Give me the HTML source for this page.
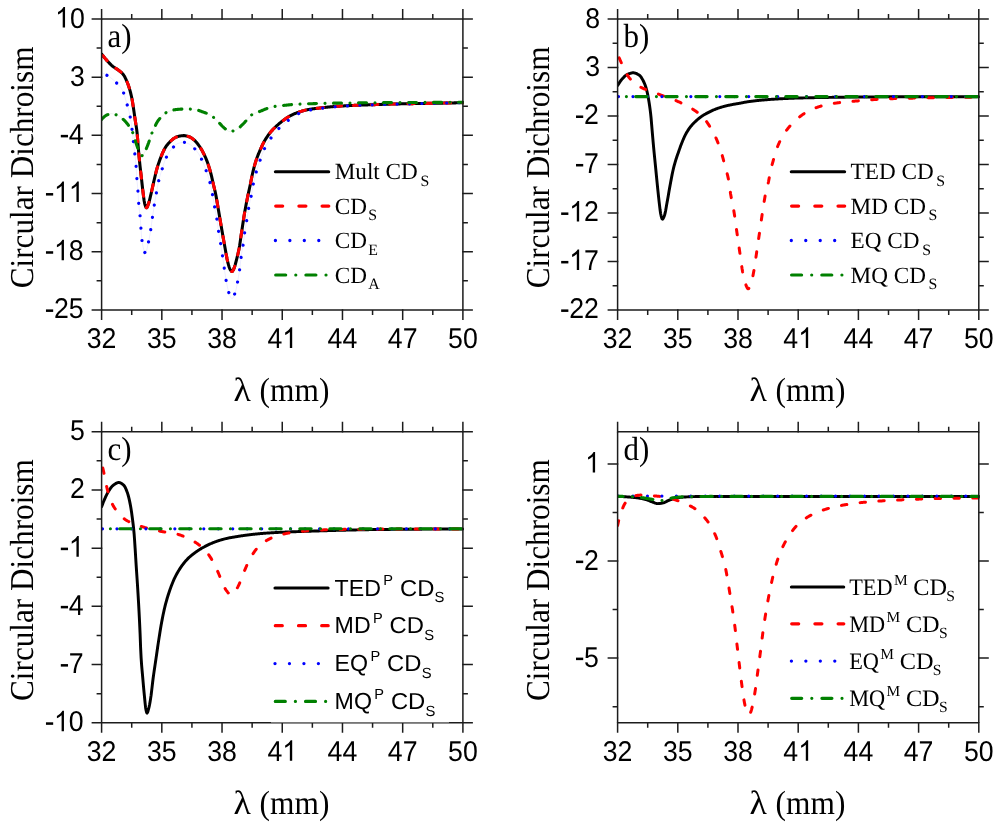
<!DOCTYPE html>
<html><head><meta charset="utf-8"><title>Circular Dichroism</title>
<style>
html,body{margin:0;padding:0;background:#fff;}
body{width:997px;height:824px;overflow:hidden;font-family:"Liberation Sans",sans-serif;}
svg{display:block;will-change:transform;transform:translateZ(0);}
text{fill:#000;text-rendering:geometricPrecision;}
</style></head><body>
<svg width="997" height="824" viewBox="0 0 997 824">
<rect width="997" height="824" fill="#fff"/>
<clipPath id="ca"><rect x="101.6" y="19" width="362.3" height="290.9"/></clipPath>
<g clip-path="url(#ca)">
<path d="M101.6 54 L102.1 54.65 L102.6 55.3 L103.1 55.93 L103.6 56.56 L104.1 57.17 L104.6 57.78 L105.1 58.38 L105.6 58.97 L106.1 59.55 L106.6 60.12 L107.1 60.68 L107.6 61.23 L108.1 61.78 L108.6 62.33 L109.1 62.88 L109.6 63.41 L110.1 63.93 L110.6 64.43 L111.1 64.91 L111.6 65.37 L112.1 65.8 L112.6 66.2 L113.1 66.57 L113.6 66.93 L114.1 67.27 L114.6 67.59 L115.1 67.91 L115.6 68.22 L116.1 68.54 L116.6 68.87 L117.1 69.2 L117.6 69.55 L118.1 69.92 L118.6 70.31 L119.1 70.68 L119.6 71.06 L120.1 71.44 L120.6 71.84 L121.1 72.26 L121.6 72.71 L122.1 73.19 L122.6 73.72 L123.1 74.3 L123.6 74.97 L124.1 75.74 L124.6 76.62 L125.1 77.57 L125.6 78.59 L126.1 79.66 L126.6 80.77 L127.1 81.94 L127.6 83.2 L128.1 84.55 L128.6 86 L129.1 87.54 L129.6 89.16 L130.1 90.89 L130.6 92.76 L131.1 94.8 L131.6 97.04 L132.1 99.57 L132.6 102.55 L133.1 105.76 L133.6 109 L134.1 112.39 L134.6 115.86 L135.1 119.3 L135.6 122.47 L136.1 125.52 L136.6 128.88 L137.1 133.04 L137.6 138.99 L138.1 145.51 L138.6 151.32 L139.1 156.89 L139.6 161.96 L140.1 166.57 L140.6 170.93 L141.1 175.24 L141.6 179.7 L142.1 184.27 L142.6 188.71 L143.1 192.8 L143.6 196.77 L144.1 200.52 L144.6 203.32 L145.1 205.05 L145.6 206.53 L146.1 207.52 L146.6 207.78 L147.1 207.25 L147.6 206.17 L148.1 204.81 L148.6 203.43 L149.1 201.82 L149.6 199.92 L150.1 197.84 L150.6 195.69 L151.1 193.58 L151.6 191.44 L152.1 189.21 L152.6 186.94 L153.1 184.66 L153.6 182.43 L154.1 180.27 L154.6 178.13 L155.1 175.99 L155.6 173.88 L156.1 171.85 L156.6 169.93 L157.1 168.16 L157.6 166.49 L158.1 164.89 L158.6 163.36 L159.1 161.89 L159.6 160.49 L160.1 159.14 L160.6 157.85 L161.1 156.6 L161.6 155.38 L162.1 154.17 L162.6 153.01 L163.1 151.88 L163.6 150.8 L164.1 149.78 L164.6 148.83 L165.1 147.95 L165.6 147.15 L166.1 146.4 L166.6 145.7 L167.1 145.04 L167.6 144.42 L168.1 143.83 L168.6 143.26 L169.1 142.72 L169.6 142.2 L170.1 141.7 L170.6 141.21 L171.1 140.72 L171.6 140.25 L172.1 139.8 L172.6 139.37 L173.1 138.97 L173.6 138.6 L174.1 138.28 L174.6 137.99 L175.1 137.72 L175.6 137.46 L176.1 137.22 L176.6 136.99 L177.1 136.79 L177.6 136.6 L178.1 136.45 L178.6 136.32 L179.1 136.22 L179.6 136.11 L180.1 136.02 L180.6 135.92 L181.1 135.84 L181.6 135.77 L182.1 135.7 L182.6 135.65 L183.1 135.62 L183.6 135.6 L184.1 135.61 L184.6 135.64 L185.1 135.7 L185.6 135.78 L186.1 135.89 L186.6 136.01 L187.1 136.14 L187.6 136.29 L188.1 136.44 L188.6 136.6 L189.1 136.77 L189.6 136.96 L190.1 137.2 L190.6 137.46 L191.1 137.76 L191.6 138.09 L192.1 138.43 L192.6 138.8 L193.1 139.18 L193.6 139.58 L194.1 139.98 L194.6 140.42 L195.1 140.9 L195.6 141.42 L196.1 141.97 L196.6 142.55 L197.1 143.16 L197.6 143.8 L198.1 144.45 L198.6 145.12 L199.1 145.8 L199.6 146.51 L200.1 147.26 L200.6 148.05 L201.1 148.87 L201.6 149.73 L202.1 150.62 L202.6 151.53 L203.1 152.46 L203.6 153.43 L204.1 154.43 L204.6 155.48 L205.1 156.56 L205.6 157.69 L206.1 158.87 L206.6 160.1 L207.1 161.41 L207.6 162.8 L208.1 164.26 L208.6 165.78 L209.1 167.36 L209.6 168.99 L210.1 170.71 L210.6 172.52 L211.1 174.42 L211.6 176.41 L212.1 178.57 L212.6 180.85 L213.1 183.12 L213.6 185.27 L214.1 187.31 L214.6 189.34 L215.1 191.46 L215.6 193.79 L216.1 196.36 L216.6 199.13 L217.1 202.03 L217.6 204.99 L218.1 207.96 L218.6 210.88 L219.1 213.79 L219.6 216.74 L220.1 219.7 L220.6 222.65 L221.1 225.59 L221.6 228.5 L222.1 231.38 L222.6 234.26 L223.1 237.12 L223.6 239.95 L224.1 242.75 L224.6 245.5 L225.1 248.29 L225.6 251.13 L226.1 253.94 L226.6 256.63 L227.1 259.11 L227.6 261.3 L228.1 263.3 L228.6 265.2 L229.1 266.92 L229.6 268.34 L230.1 269.38 L230.6 270.27 L231.1 271.03 L231.6 271.51 L232.1 271.55 L232.6 271.08 L233.1 270.25 L233.6 269.23 L234.1 268.16 L234.6 266.79 L235.1 265.12 L235.6 263.25 L236.1 261.27 L236.6 259.29 L237.1 257.34 L237.6 255.34 L238.1 253.24 L238.6 250.98 L239.1 248.52 L239.6 245.73 L240.1 242.53 L240.6 239.09 L241.1 235.58 L241.6 232.2 L242.1 228.9 L242.6 225.56 L243.1 222.23 L243.6 218.96 L244.1 215.8 L244.6 212.8 L245.1 209.96 L245.6 207.22 L246.1 204.56 L246.6 201.99 L247.1 199.47 L247.6 197 L248.1 194.61 L248.6 192.31 L249.1 190.05 L249.6 187.79 L250.1 185.47 L250.6 183.04 L251.1 180.49 L251.6 177.94 L252.1 175.5 L252.6 173.28 L253.1 171.19 L253.6 169.18 L254.1 167.24 L254.6 165.39 L255.1 163.63 L255.6 161.96 L256.1 160.4 L256.6 158.93 L257.1 157.53 L257.6 156.19 L258.1 154.91 L258.6 153.68 L259.1 152.48 L259.6 151.32 L260.1 150.18 L260.6 149.05 L261.1 147.94 L261.6 146.84 L262.1 145.76 L262.6 144.71 L263.1 143.68 L263.6 142.7 L264.1 141.74 L264.6 140.83 L265.1 139.97 L265.6 139.14 L266.1 138.34 L266.6 137.57 L267.1 136.82 L267.6 136.09 L268.1 135.38 L268.6 134.69 L269.1 134.02 L269.6 133.37 L270.1 132.74 L270.6 132.13 L271.1 131.53 L271.6 130.95 L272.1 130.39 L272.6 129.85 L273.1 129.32 L273.6 128.8 L274.1 128.29 L274.6 127.8 L275.1 127.32 L275.6 126.85 L276.1 126.38 L276.6 125.92 L277.1 125.47 L277.6 125.02 L278.1 124.58 L278.6 124.14 L279.1 123.71 L279.6 123.29 L280.1 122.88 L280.6 122.47 L281.1 122.06 L281.6 121.67 L282.1 121.28 L282.6 120.9 L283.1 120.52 L283.6 120.15 L284.1 119.78 L284.6 119.42 L285.1 119.05 L285.6 118.69 L286.1 118.34 L286.6 118 L287.1 117.66 L287.6 117.33 L288.1 117.01 L288.6 116.71 L289.1 116.42 L289.6 116.15 L290.1 115.88 L290.6 115.62 L291.1 115.36 L291.6 115.11 L292.1 114.87 L292.6 114.63 L293.1 114.39 L293.6 114.16 L294.1 113.94 L294.6 113.72 L295.1 113.5 L295.6 113.3 L296.1 113.09 L296.6 112.9 L297.1 112.71 L297.6 112.52 L298.1 112.34 L298.6 112.17 L299.1 112 L299.6 111.84 L300.1 111.68 L300.6 111.52 L301.1 111.36 L301.6 111.21 L302.1 111.06 L302.6 110.92 L303.1 110.78 L303.6 110.64 L304.1 110.51 L304.6 110.38 L305.1 110.25 L305.6 110.13 L306.1 110.01 L306.6 109.9 L307.1 109.79 L307.6 109.69 L308.1 109.59 L308.6 109.5 L309.1 109.41 L309.6 109.33 L310.1 109.24 L310.6 109.17 L311.1 109.09 L311.6 109.02 L312.1 108.94 L312.6 108.88 L313.1 108.81 L313.6 108.74 L314.1 108.68 L314.6 108.62 L315.1 108.56 L315.6 108.49 L316.1 108.43 L316.6 108.38 L317.1 108.32 L317.6 108.26 L318.1 108.2 L318.6 108.14 L319.1 108.08 L319.6 108.02 L320.1 107.97 L320.6 107.91 L321.1 107.85 L321.6 107.79 L322.1 107.74 L322.6 107.68 L323.1 107.62 L323.6 107.57 L324.1 107.51 L324.6 107.46 L325.1 107.4 L325.6 107.35 L326.1 107.3 L326.6 107.24 L327.1 107.19 L327.6 107.14 L328.1 107.09 L328.6 107.04 L329.1 106.99 L329.6 106.94 L330.1 106.89 L330.6 106.84 L331.1 106.8 L331.6 106.75 L332.1 106.71 L332.6 106.66 L333.1 106.62 L333.6 106.58 L334.1 106.53 L334.6 106.49 L335.1 106.45 L335.6 106.42 L336.1 106.38 L336.6 106.34 L337.1 106.31 L337.6 106.27 L338.1 106.24 L338.6 106.21 L339.1 106.17 L339.6 106.14 L340.1 106.11 L340.6 106.08 L341.1 106.05 L341.6 106.02 L342.1 105.99 L342.6 105.96 L343.1 105.93 L343.6 105.9 L344.1 105.88 L344.6 105.85 L345.1 105.82 L345.6 105.8 L346.1 105.77 L346.6 105.74 L347.1 105.72 L347.6 105.69 L348.1 105.67 L348.6 105.64 L349.1 105.62 L349.6 105.6 L350.1 105.57 L350.6 105.55 L351.1 105.53 L351.6 105.5 L352.1 105.48 L352.6 105.46 L353.1 105.44 L353.6 105.41 L354.1 105.39 L354.6 105.37 L355.1 105.35 L355.6 105.33 L356.1 105.3 L356.6 105.28 L357.1 105.26 L357.6 105.24 L358.1 105.22 L358.6 105.2 L359.1 105.18 L359.6 105.16 L360.1 105.14 L360.6 105.12 L361.1 105.1 L361.6 105.08 L362.1 105.06 L362.6 105.04 L363.1 105.02 L363.6 105.01 L364.1 104.99 L364.6 104.97 L365.1 104.95 L365.6 104.93 L366.1 104.92 L366.6 104.9 L367.1 104.88 L367.6 104.86 L368.1 104.84 L368.6 104.83 L369.1 104.81 L369.6 104.79 L370.1 104.78 L370.6 104.76 L371.1 104.74 L371.6 104.73 L372.1 104.71 L372.6 104.69 L373.1 104.67 L373.6 104.66 L374.1 104.64 L374.6 104.62 L375.1 104.61 L375.6 104.59 L376.1 104.57 L376.6 104.56 L377.1 104.54 L377.6 104.52 L378.1 104.5 L378.6 104.49 L379.1 104.47 L379.6 104.45 L380.1 104.44 L380.6 104.42 L381.1 104.4 L381.6 104.39 L382.1 104.37 L382.6 104.35 L383.1 104.34 L383.6 104.32 L384.1 104.3 L384.6 104.29 L385.1 104.27 L385.6 104.26 L386.1 104.24 L386.6 104.22 L387.1 104.21 L387.6 104.19 L388.1 104.18 L388.6 104.16 L389.1 104.15 L389.6 104.13 L390.1 104.12 L390.6 104.1 L391.1 104.09 L391.6 104.07 L392.1 104.06 L392.6 104.05 L393.1 104.03 L393.6 104.02 L394.1 104.01 L394.6 103.99 L395.1 103.98 L395.6 103.97 L396.1 103.96 L396.6 103.95 L397.1 103.93 L397.6 103.92 L398.1 103.91 L398.6 103.9 L399.1 103.89 L399.6 103.88 L400.1 103.86 L400.6 103.85 L401.1 103.84 L401.6 103.83 L402.1 103.82 L402.6 103.81 L403.1 103.8 L403.6 103.79 L404.1 103.78 L404.6 103.77 L405.1 103.76 L405.6 103.75 L406.1 103.74 L406.6 103.73 L407.1 103.72 L407.6 103.71 L408.1 103.7 L408.6 103.69 L409.1 103.68 L409.6 103.67 L410.1 103.66 L410.6 103.65 L411.1 103.64 L411.6 103.63 L412.1 103.62 L412.6 103.61 L413.1 103.61 L413.6 103.6 L414.1 103.59 L414.6 103.58 L415.1 103.57 L415.6 103.56 L416.1 103.55 L416.6 103.55 L417.1 103.54 L417.6 103.53 L418.1 103.52 L418.6 103.51 L419.1 103.51 L419.6 103.5 L420.1 103.49 L420.6 103.48 L421.1 103.48 L421.6 103.47 L422.1 103.46 L422.6 103.45 L423.1 103.45 L423.6 103.44 L424.1 103.43 L424.6 103.42 L425.1 103.42 L425.6 103.41 L426.1 103.4 L426.6 103.39 L427.1 103.39 L427.6 103.38 L428.1 103.37 L428.6 103.36 L429.1 103.36 L429.6 103.35 L430.1 103.34 L430.6 103.33 L431.1 103.32 L431.6 103.32 L432.1 103.31 L432.6 103.3 L433.1 103.29 L433.6 103.28 L434.1 103.27 L434.6 103.26 L435.1 103.25 L435.6 103.25 L436.1 103.24 L436.6 103.23 L437.1 103.22 L437.6 103.21 L438.1 103.2 L438.6 103.19 L439.1 103.18 L439.6 103.17 L440.1 103.16 L440.6 103.15 L441.1 103.15 L441.6 103.14 L442.1 103.13 L442.6 103.12 L443.1 103.11 L443.6 103.1 L444.1 103.09 L444.6 103.08 L445.1 103.07 L445.6 103.06 L446.1 103.05 L446.6 103.04 L447.1 103.03 L447.6 103.02 L448.1 103.01 L448.6 103 L449.1 102.99 L449.6 102.98 L450.1 102.97 L450.6 102.96 L451.1 102.95 L451.6 102.94 L452.1 102.93 L452.6 102.92 L453.1 102.91 L453.6 102.9 L454.1 102.89 L454.6 102.88 L455.1 102.87 L455.6 102.86 L456.1 102.85 L456.6 102.84 L457.1 102.83 L457.6 102.82 L458.1 102.8 L458.6 102.79 L459.1 102.78 L459.6 102.77 L460.1 102.76 L460.6 102.75 L461.1 102.74 L461.6 102.73 L462.1 102.72 L462.6 102.71 L462.9 102.7" fill="none" stroke="#000" stroke-width="3.05" stroke-linejoin="round" stroke-linecap="round"/>
<path d="M101.6 54 L102.1 54.65 L102.6 55.3 L103.1 55.93 L103.6 56.56 L104.1 57.17 L104.6 57.78 L105.1 58.38 L105.6 58.97 L106.1 59.55 L106.6 60.12 L107.1 60.68 L107.6 61.23 L108.1 61.78 L108.6 62.33 L109.1 62.88 L109.6 63.41 L110.1 63.93 L110.6 64.43 L111.1 64.91 L111.6 65.37 L112.1 65.8 L112.6 66.2 L113.1 66.57 L113.6 66.93 L114.1 67.27 L114.6 67.59 L115.1 67.91 L115.6 68.22 L116.1 68.54 L116.6 68.87 L117.1 69.2 L117.6 69.55 L118.1 69.92 L118.6 70.31 L119.1 70.68 L119.6 71.06 L120.1 71.44 L120.6 71.84 L121.1 72.26 L121.6 72.71 L122.1 73.19 L122.6 73.72 L123.1 74.3 L123.6 74.97 L124.1 75.74 L124.6 76.62 L125.1 77.57 L125.6 78.59 L126.1 79.66 L126.6 80.77 L127.1 81.94 L127.6 83.2 L128.1 84.55 L128.6 86 L129.1 87.54 L129.6 89.16 L130.1 90.89 L130.6 92.76 L131.1 94.8 L131.6 97.04 L132.1 99.57 L132.6 102.55 L133.1 105.76 L133.6 109 L134.1 112.39 L134.6 115.86 L135.1 119.3 L135.6 122.47 L136.1 125.52 L136.6 128.88 L137.1 133.04 L137.6 138.99 L138.1 145.51 L138.6 151.32 L139.1 156.89 L139.6 161.96 L140.1 166.57 L140.6 170.93 L141.1 175.24 L141.6 179.7 L142.1 184.27 L142.6 188.71 L143.1 192.8 L143.6 196.77 L144.1 200.52 L144.6 203.32 L145.1 205.05 L145.6 206.53 L146.1 207.52 L146.6 207.78 L147.1 207.25 L147.6 206.17 L148.1 204.81 L148.6 203.43 L149.1 201.82 L149.6 199.92 L150.1 197.84 L150.6 195.69 L151.1 193.58 L151.6 191.44 L152.1 189.21 L152.6 186.94 L153.1 184.66 L153.6 182.43 L154.1 180.27 L154.6 178.13 L155.1 175.99 L155.6 173.88 L156.1 171.85 L156.6 169.93 L157.1 168.16 L157.6 166.49 L158.1 164.89 L158.6 163.36 L159.1 161.89 L159.6 160.49 L160.1 159.14 L160.6 157.85 L161.1 156.6 L161.6 155.38 L162.1 154.17 L162.6 153.01 L163.1 151.88 L163.6 150.8 L164.1 149.78 L164.6 148.83 L165.1 147.95 L165.6 147.15 L166.1 146.4 L166.6 145.7 L167.1 145.04 L167.6 144.42 L168.1 143.83 L168.6 143.26 L169.1 142.72 L169.6 142.2 L170.1 141.7 L170.6 141.21 L171.1 140.72 L171.6 140.25 L172.1 139.8 L172.6 139.37 L173.1 138.97 L173.6 138.6 L174.1 138.28 L174.6 137.99 L175.1 137.72 L175.6 137.46 L176.1 137.22 L176.6 136.99 L177.1 136.79 L177.6 136.6 L178.1 136.45 L178.6 136.32 L179.1 136.22 L179.6 136.11 L180.1 136.02 L180.6 135.92 L181.1 135.84 L181.6 135.77 L182.1 135.7 L182.6 135.65 L183.1 135.62 L183.6 135.6 L184.1 135.61 L184.6 135.64 L185.1 135.7 L185.6 135.78 L186.1 135.89 L186.6 136.01 L187.1 136.14 L187.6 136.29 L188.1 136.44 L188.6 136.6 L189.1 136.77 L189.6 136.96 L190.1 137.2 L190.6 137.46 L191.1 137.76 L191.6 138.09 L192.1 138.43 L192.6 138.8 L193.1 139.18 L193.6 139.58 L194.1 139.98 L194.6 140.42 L195.1 140.9 L195.6 141.42 L196.1 141.97 L196.6 142.55 L197.1 143.16 L197.6 143.8 L198.1 144.45 L198.6 145.12 L199.1 145.8 L199.6 146.51 L200.1 147.26 L200.6 148.05 L201.1 148.87 L201.6 149.73 L202.1 150.62 L202.6 151.53 L203.1 152.46 L203.6 153.43 L204.1 154.43 L204.6 155.48 L205.1 156.56 L205.6 157.69 L206.1 158.87 L206.6 160.1 L207.1 161.41 L207.6 162.8 L208.1 164.26 L208.6 165.78 L209.1 167.36 L209.6 168.99 L210.1 170.71 L210.6 172.52 L211.1 174.42 L211.6 176.41 L212.1 178.57 L212.6 180.85 L213.1 183.12 L213.6 185.27 L214.1 187.31 L214.6 189.34 L215.1 191.46 L215.6 193.79 L216.1 196.36 L216.6 199.13 L217.1 202.03 L217.6 204.99 L218.1 207.96 L218.6 210.88 L219.1 213.79 L219.6 216.74 L220.1 219.7 L220.6 222.65 L221.1 225.59 L221.6 228.5 L222.1 231.38 L222.6 234.26 L223.1 237.12 L223.6 239.95 L224.1 242.75 L224.6 245.5 L225.1 248.29 L225.6 251.13 L226.1 253.94 L226.6 256.63 L227.1 259.11 L227.6 261.3 L228.1 263.3 L228.6 265.2 L229.1 266.92 L229.6 268.34 L230.1 269.38 L230.6 270.27 L231.1 271.03 L231.6 271.51 L232.1 271.55 L232.6 271.08 L233.1 270.25 L233.6 269.23 L234.1 268.16 L234.6 266.79 L235.1 265.12 L235.6 263.25 L236.1 261.27 L236.6 259.29 L237.1 257.34 L237.6 255.34 L238.1 253.24 L238.6 250.98 L239.1 248.52 L239.6 245.73 L240.1 242.53 L240.6 239.09 L241.1 235.58 L241.6 232.2 L242.1 228.9 L242.6 225.56 L243.1 222.23 L243.6 218.96 L244.1 215.8 L244.6 212.8 L245.1 209.96 L245.6 207.22 L246.1 204.56 L246.6 201.99 L247.1 199.47 L247.6 197 L248.1 194.61 L248.6 192.31 L249.1 190.05 L249.6 187.79 L250.1 185.47 L250.6 183.04 L251.1 180.49 L251.6 177.94 L252.1 175.5 L252.6 173.28 L253.1 171.19 L253.6 169.18 L254.1 167.24 L254.6 165.39 L255.1 163.63 L255.6 161.96 L256.1 160.4 L256.6 158.93 L257.1 157.53 L257.6 156.19 L258.1 154.91 L258.6 153.68 L259.1 152.48 L259.6 151.32 L260.1 150.18 L260.6 149.05 L261.1 147.94 L261.6 146.84 L262.1 145.76 L262.6 144.71 L263.1 143.68 L263.6 142.7 L264.1 141.74 L264.6 140.83 L265.1 139.97 L265.6 139.14 L266.1 138.34 L266.6 137.57 L267.1 136.82 L267.6 136.09 L268.1 135.38 L268.6 134.69 L269.1 134.02 L269.6 133.37 L270.1 132.74 L270.6 132.13 L271.1 131.53 L271.6 130.95 L272.1 130.39 L272.6 129.85 L273.1 129.32 L273.6 128.8 L274.1 128.29 L274.6 127.8 L275.1 127.32 L275.6 126.85 L276.1 126.38 L276.6 125.92 L277.1 125.47 L277.6 125.02 L278.1 124.58 L278.6 124.14 L279.1 123.71 L279.6 123.29 L280.1 122.88 L280.6 122.47 L281.1 122.06 L281.6 121.67 L282.1 121.28 L282.6 120.9 L283.1 120.52 L283.6 120.15 L284.1 119.78 L284.6 119.42 L285.1 119.05 L285.6 118.69 L286.1 118.34 L286.6 118 L287.1 117.66 L287.6 117.33 L288.1 117.01 L288.6 116.71 L289.1 116.42 L289.6 116.15 L290.1 115.88 L290.6 115.62 L291.1 115.36 L291.6 115.11 L292.1 114.87 L292.6 114.63 L293.1 114.39 L293.6 114.16 L294.1 113.94 L294.6 113.72 L295.1 113.5 L295.6 113.3 L296.1 113.09 L296.6 112.9 L297.1 112.71 L297.6 112.52 L298.1 112.34 L298.6 112.17 L299.1 112 L299.6 111.84 L300.1 111.68 L300.6 111.52 L301.1 111.36 L301.6 111.21 L302.1 111.06 L302.6 110.92 L303.1 110.78 L303.6 110.64 L304.1 110.51 L304.6 110.38 L305.1 110.25 L305.6 110.13 L306.1 110.01 L306.6 109.9 L307.1 109.79 L307.6 109.69 L308.1 109.59 L308.6 109.5 L309.1 109.41 L309.6 109.33 L310.1 109.24 L310.6 109.17 L311.1 109.09 L311.6 109.02 L312.1 108.94 L312.6 108.88 L313.1 108.81 L313.6 108.74 L314.1 108.68 L314.6 108.62 L315.1 108.56 L315.6 108.49 L316.1 108.43 L316.6 108.38 L317.1 108.32 L317.6 108.26 L318.1 108.2 L318.6 108.14 L319.1 108.08 L319.6 108.02 L320.1 107.97 L320.6 107.91 L321.1 107.85 L321.6 107.79 L322.1 107.74 L322.6 107.68 L323.1 107.62 L323.6 107.57 L324.1 107.51 L324.6 107.46 L325.1 107.4 L325.6 107.35 L326.1 107.3 L326.6 107.24 L327.1 107.19 L327.6 107.14 L328.1 107.09 L328.6 107.04 L329.1 106.99 L329.6 106.94 L330.1 106.89 L330.6 106.84 L331.1 106.8 L331.6 106.75 L332.1 106.71 L332.6 106.66 L333.1 106.62 L333.6 106.58 L334.1 106.53 L334.6 106.49 L335.1 106.45 L335.6 106.42 L336.1 106.38 L336.6 106.34 L337.1 106.31 L337.6 106.27 L338.1 106.24 L338.6 106.21 L339.1 106.17 L339.6 106.14 L340.1 106.11 L340.6 106.08 L341.1 106.05 L341.6 106.02 L342.1 105.99 L342.6 105.96 L343.1 105.93 L343.6 105.9 L344.1 105.88 L344.6 105.85 L345.1 105.82 L345.6 105.8 L346.1 105.77 L346.6 105.74 L347.1 105.72 L347.6 105.69 L348.1 105.67 L348.6 105.64 L349.1 105.62 L349.6 105.6 L350.1 105.57 L350.6 105.55 L351.1 105.53 L351.6 105.5 L352.1 105.48 L352.6 105.46 L353.1 105.44 L353.6 105.41 L354.1 105.39 L354.6 105.37 L355.1 105.35 L355.6 105.33 L356.1 105.3 L356.6 105.28 L357.1 105.26 L357.6 105.24 L358.1 105.22 L358.6 105.2 L359.1 105.18 L359.6 105.16 L360.1 105.14 L360.6 105.12 L361.1 105.1 L361.6 105.08 L362.1 105.06 L362.6 105.04 L363.1 105.02 L363.6 105.01 L364.1 104.99 L364.6 104.97 L365.1 104.95 L365.6 104.93 L366.1 104.92 L366.6 104.9 L367.1 104.88 L367.6 104.86 L368.1 104.84 L368.6 104.83 L369.1 104.81 L369.6 104.79 L370.1 104.78 L370.6 104.76 L371.1 104.74 L371.6 104.73 L372.1 104.71 L372.6 104.69 L373.1 104.67 L373.6 104.66 L374.1 104.64 L374.6 104.62 L375.1 104.61 L375.6 104.59 L376.1 104.57 L376.6 104.56 L377.1 104.54 L377.6 104.52 L378.1 104.5 L378.6 104.49 L379.1 104.47 L379.6 104.45 L380.1 104.44 L380.6 104.42 L381.1 104.4 L381.6 104.39 L382.1 104.37 L382.6 104.35 L383.1 104.34 L383.6 104.32 L384.1 104.3 L384.6 104.29 L385.1 104.27 L385.6 104.26 L386.1 104.24 L386.6 104.22 L387.1 104.21 L387.6 104.19 L388.1 104.18 L388.6 104.16 L389.1 104.15 L389.6 104.13 L390.1 104.12 L390.6 104.1 L391.1 104.09 L391.6 104.07 L392.1 104.06 L392.6 104.05 L393.1 104.03 L393.6 104.02 L394.1 104.01 L394.6 103.99 L395.1 103.98 L395.6 103.97 L396.1 103.96 L396.6 103.95 L397.1 103.93 L397.6 103.92 L398.1 103.91 L398.6 103.9 L399.1 103.89 L399.6 103.88 L400.1 103.86 L400.6 103.85 L401.1 103.84 L401.6 103.83 L402.1 103.82 L402.6 103.81 L403.1 103.8 L403.6 103.79 L404.1 103.78 L404.6 103.77 L405.1 103.76 L405.6 103.75 L406.1 103.74 L406.6 103.73 L407.1 103.72 L407.6 103.71 L408.1 103.7 L408.6 103.69 L409.1 103.68 L409.6 103.67 L410.1 103.66 L410.6 103.65 L411.1 103.64 L411.6 103.63 L412.1 103.62 L412.6 103.61 L413.1 103.61 L413.6 103.6 L414.1 103.59 L414.6 103.58 L415.1 103.57 L415.6 103.56 L416.1 103.55 L416.6 103.55 L417.1 103.54 L417.6 103.53 L418.1 103.52 L418.6 103.51 L419.1 103.51 L419.6 103.5 L420.1 103.49 L420.6 103.48 L421.1 103.48 L421.6 103.47 L422.1 103.46 L422.6 103.45 L423.1 103.45 L423.6 103.44 L424.1 103.43 L424.6 103.42 L425.1 103.42 L425.6 103.41 L426.1 103.4 L426.6 103.39 L427.1 103.39 L427.6 103.38 L428.1 103.37 L428.6 103.36 L429.1 103.36 L429.6 103.35 L430.1 103.34 L430.6 103.33 L431.1 103.32 L431.6 103.32 L432.1 103.31 L432.6 103.3 L433.1 103.29 L433.6 103.28 L434.1 103.27 L434.6 103.26 L435.1 103.25 L435.6 103.25 L436.1 103.24 L436.6 103.23 L437.1 103.22 L437.6 103.21 L438.1 103.2 L438.6 103.19 L439.1 103.18 L439.6 103.17 L440.1 103.16 L440.6 103.15 L441.1 103.15 L441.6 103.14 L442.1 103.13 L442.6 103.12 L443.1 103.11 L443.6 103.1 L444.1 103.09 L444.6 103.08 L445.1 103.07 L445.6 103.06 L446.1 103.05 L446.6 103.04 L447.1 103.03 L447.6 103.02 L448.1 103.01 L448.6 103 L449.1 102.99 L449.6 102.98 L450.1 102.97 L450.6 102.96 L451.1 102.95 L451.6 102.94 L452.1 102.93 L452.6 102.92 L453.1 102.91 L453.6 102.9 L454.1 102.89 L454.6 102.88 L455.1 102.87 L455.6 102.86 L456.1 102.85 L456.6 102.84 L457.1 102.83 L457.6 102.82 L458.1 102.8 L458.6 102.79 L459.1 102.78 L459.6 102.77 L460.1 102.76 L460.6 102.75 L461.1 102.74 L461.6 102.73 L462.1 102.72 L462.6 102.71 L462.9 102.7" fill="none" stroke="#ff0000" stroke-width="3.05" stroke-linejoin="round" stroke-linecap="round" stroke-dasharray="6.4 11.8" stroke-dashoffset="-2.2"/>
<path d="M101.6 72.6 L102.1 72.8 L102.6 73.01 L103.1 73.23 L103.6 73.46 L104.1 73.71 L104.6 73.96 L105.1 74.22 L105.6 74.49 L106.1 74.77 L106.6 75.06 L107.1 75.36 L107.6 75.66 L108.1 75.97 L108.6 76.29 L109.1 76.62 L109.6 76.97 L110.1 77.32 L110.6 77.69 L111.1 78.07 L111.6 78.46 L112.1 78.87 L112.6 79.28 L113.1 79.71 L113.6 80.14 L114.1 80.59 L114.6 81.05 L115.1 81.52 L115.6 82 L116.1 82.49 L116.6 82.98 L117.1 83.47 L117.6 83.96 L118.1 84.47 L118.6 85 L119.1 85.55 L119.6 86.13 L120.1 86.75 L120.6 87.41 L121.1 88.12 L121.6 88.88 L122.1 89.7 L122.6 90.59 L123.1 91.67 L123.6 92.98 L124.1 94.46 L124.6 96.08 L125.1 97.78 L125.6 99.52 L126.1 101.25 L126.6 102.93 L127.1 104.56 L127.6 106.19 L128.1 107.88 L128.6 109.69 L129.1 111.66 L129.6 113.86 L130.1 116.39 L130.6 119.25 L131.1 122.44 L131.6 125.93 L132.1 130.13 L132.6 134.76 L133.1 139.27 L133.6 143.62 L134.1 147.96 L134.6 152.18 L135.1 156.11 L135.6 160.49 L136.1 166.51 L136.6 175.3 L137.1 181.69 L137.6 186.51 L138.1 193.21 L138.6 202.51 L139.1 208.04 L139.6 211.96 L140.1 216.15 L140.6 222.69 L141.1 230.7 L141.6 237.04 L142.1 241.6 L142.6 244.39 L143.1 246.91 L143.6 249.1 L144.1 250.88 L144.6 252.16 L145.1 252.88 L145.6 252.92 L146.1 252.09 L146.6 250.54 L147.1 248.5 L147.6 246.19 L148.1 243.84 L148.6 241.61 L149.1 239.19 L149.6 236.5 L150.1 233.61 L150.6 230.58 L151.1 227.21 L151.6 223.58 L152.1 219.91 L152.6 216.42 L153.1 212.98 L153.6 209.58 L154.1 206.29 L154.6 203.17 L155.1 200.16 L155.6 197.26 L156.1 194.45 L156.6 191.73 L157.1 189.07 L157.6 186.42 L158.1 183.84 L158.6 181.42 L159.1 179.21 L159.6 177.26 L160.1 175.5 L160.6 173.88 L161.1 172.34 L161.6 170.83 L162.1 169.32 L162.6 167.74 L163.1 166.11 L163.6 164.46 L164.1 162.85 L164.6 161.35 L165.1 160.01 L165.6 158.86 L166.1 157.8 L166.6 156.8 L167.1 155.84 L167.6 154.94 L168.1 154.08 L168.6 153.26 L169.1 152.49 L169.6 151.76 L170.1 151.07 L170.6 150.42 L171.1 149.8 L171.6 149.2 L172.1 148.6 L172.6 148.01 L173.1 147.43 L173.6 146.86 L174.1 146.32 L174.6 145.81 L175.1 145.33 L175.6 144.89 L176.1 144.49 L176.6 144.14 L177.1 143.85 L177.6 143.61 L178.1 143.43 L178.6 143.27 L179.1 143.12 L179.6 142.98 L180.1 142.84 L180.6 142.72 L181.1 142.6 L181.6 142.51 L182.1 142.43 L182.6 142.36 L183.1 142.32 L183.6 142.3 L184.1 142.31 L184.6 142.36 L185.1 142.45 L185.6 142.57 L186.1 142.73 L186.6 142.91 L187.1 143.12 L187.6 143.34 L188.1 143.58 L188.6 143.83 L189.1 144.09 L189.6 144.35 L190.1 144.62 L190.6 144.93 L191.1 145.28 L191.6 145.66 L192.1 146.08 L192.6 146.54 L193.1 147.02 L193.6 147.53 L194.1 148.06 L194.6 148.62 L195.1 149.21 L195.6 149.81 L196.1 150.43 L196.6 151.06 L197.1 151.71 L197.6 152.37 L198.1 153.05 L198.6 153.8 L199.1 154.59 L199.6 155.45 L200.1 156.34 L200.6 157.28 L201.1 158.27 L201.6 159.28 L202.1 160.33 L202.6 161.4 L203.1 162.53 L203.6 163.73 L204.1 165.01 L204.6 166.33 L205.1 167.71 L205.6 169.12 L206.1 170.56 L206.6 172.01 L207.1 173.46 L207.6 174.9 L208.1 176.36 L208.6 177.87 L209.1 179.45 L209.6 181.13 L210.1 182.94 L210.6 184.91 L211.1 187.16 L211.6 189.68 L212.1 192.39 L212.6 195.19 L213.1 198 L213.6 200.92 L214.1 203.95 L214.6 206.87 L215.1 209.56 L215.6 212.15 L216.1 214.78 L216.6 217.58 L217.1 220.72 L217.6 224.4 L218.1 228.24 L218.6 231.8 L219.1 234.88 L219.6 237.73 L220.1 240.54 L220.6 243.5 L221.1 246.68 L221.6 249.97 L222.1 253.33 L222.6 256.7 L223.1 260.12 L223.6 263.59 L224.1 267.05 L224.6 270.4 L225.1 273.77 L225.6 277.15 L226.1 280.35 L226.6 283.12 L227.1 285.46 L227.6 287.72 L228.1 289.84 L228.6 291.79 L229.1 293.51 L229.6 294.97 L230.1 296.11 L230.6 297.03 L231.1 297.85 L231.6 298.43 L232.1 298.59 L232.6 298.29 L233.1 297.62 L233.6 296.66 L234.1 295.48 L234.6 294.15 L235.1 292.76 L235.6 291.26 L236.1 289.29 L236.6 286.95 L237.1 284.38 L237.6 281.73 L238.1 279.05 L238.6 276.21 L239.1 273.18 L239.6 269.91 L240.1 266.35 L240.6 262 L241.1 257.4 L241.6 253.52 L242.1 250.52 L242.6 247.87 L243.1 245.1 L243.6 241.75 L244.1 237.57 L244.6 233.24 L245.1 229.54 L245.6 226.5 L246.1 223.75 L246.6 221.03 L247.1 218.09 L247.6 214.91 L248.1 211.68 L248.6 208.57 L249.1 205.77 L249.6 203.32 L250.1 201.06 L250.6 198.84 L251.1 196.5 L251.6 193.89 L252.1 190.98 L252.6 187.99 L253.1 185.13 L253.6 182.63 L254.1 180.38 L254.6 178.25 L255.1 176.23 L255.6 174.31 L256.1 172.48 L256.6 170.72 L257.1 169.03 L257.6 167.43 L258.1 165.9 L258.6 164.43 L259.1 163.01 L259.6 161.61 L260.1 160.23 L260.6 158.84 L261.1 157.44 L261.6 156.04 L262.1 154.65 L262.6 153.29 L263.1 151.97 L263.6 150.73 L264.1 149.56 L264.6 148.49 L265.1 147.5 L265.6 146.54 L266.1 145.63 L266.6 144.76 L267.1 143.92 L267.6 143.11 L268.1 142.32 L268.6 141.55 L269.1 140.79 L269.6 140.04 L270.1 139.3 L270.6 138.56 L271.1 137.84 L271.6 137.12 L272.1 136.42 L272.6 135.73 L273.1 135.06 L273.6 134.4 L274.1 133.76 L274.6 133.14 L275.1 132.53 L275.6 131.94 L276.1 131.38 L276.6 130.82 L277.1 130.29 L277.6 129.76 L278.1 129.25 L278.6 128.74 L279.1 128.25 L279.6 127.77 L280.1 127.29 L280.6 126.83 L281.1 126.37 L281.6 125.92 L282.1 125.47 L282.6 125.03 L283.1 124.59 L283.6 124.15 L284.1 123.72 L284.6 123.3 L285.1 122.88 L285.6 122.47 L286.1 122.06 L286.6 121.66 L287.1 121.26 L287.6 120.87 L288.1 120.49 L288.6 120.11 L289.1 119.75 L289.6 119.38 L290.1 119.03 L290.6 118.68 L291.1 118.32 L291.6 117.97 L292.1 117.61 L292.6 117.26 L293.1 116.91 L293.6 116.57 L294.1 116.23 L294.6 115.89 L295.1 115.57 L295.6 115.26 L296.1 114.95 L296.6 114.66 L297.1 114.38 L297.6 114.11 L298.1 113.86 L298.6 113.62 L299.1 113.4 L299.6 113.19 L300.1 112.99 L300.6 112.8 L301.1 112.61 L301.6 112.43 L302.1 112.25 L302.6 112.08 L303.1 111.91 L303.6 111.75 L304.1 111.59 L304.6 111.44 L305.1 111.3 L305.6 111.16 L306.1 111.02 L306.6 110.89 L307.1 110.76 L307.6 110.64 L308.1 110.52 L308.6 110.4 L309.1 110.29 L309.6 110.18 L310.1 110.07 L310.6 109.97 L311.1 109.87 L311.6 109.77 L312.1 109.67 L312.6 109.58 L313.1 109.49 L313.6 109.4 L314.1 109.32 L314.6 109.23 L315.1 109.15 L315.6 109.07 L316.1 108.99 L316.6 108.92 L317.1 108.84 L317.6 108.77 L318.1 108.7 L318.6 108.63 L319.1 108.56 L319.6 108.49 L320.1 108.43 L320.6 108.36 L321.1 108.29 L321.6 108.23 L322.1 108.17 L322.6 108.1 L323.1 108.04 L323.6 107.98 L324.1 107.92 L324.6 107.86 L325.1 107.8 L325.6 107.74 L326.1 107.68 L326.6 107.62 L327.1 107.57 L327.6 107.51 L328.1 107.46 L328.6 107.4 L329.1 107.35 L329.6 107.3 L330.1 107.25 L330.6 107.2 L331.1 107.15 L331.6 107.1 L332.1 107.05 L332.6 107 L333.1 106.95 L333.6 106.91 L334.1 106.86 L334.6 106.82 L335.1 106.78 L335.6 106.73 L336.1 106.69 L336.6 106.65 L337.1 106.61 L337.6 106.57 L338.1 106.53 L338.6 106.49 L339.1 106.45 L339.6 106.41 L340.1 106.38 L340.6 106.34 L341.1 106.3 L341.6 106.26 L342.1 106.23 L342.6 106.19 L343.1 106.16 L343.6 106.12 L344.1 106.09 L344.6 106.06 L345.1 106.02 L345.6 105.99 L346.1 105.96 L346.6 105.93 L347.1 105.89 L347.6 105.86 L348.1 105.83 L348.6 105.8 L349.1 105.77 L349.6 105.74 L350.1 105.72 L350.6 105.69 L351.1 105.66 L351.6 105.63 L352.1 105.6 L352.6 105.58 L353.1 105.55 L353.6 105.53 L354.1 105.5 L354.6 105.48 L355.1 105.45 L355.6 105.43 L356.1 105.4 L356.6 105.38 L357.1 105.36 L357.6 105.34 L358.1 105.31 L358.6 105.29 L359.1 105.27 L359.6 105.25 L360.1 105.23 L360.6 105.21 L361.1 105.19 L361.6 105.17 L362.1 105.15 L362.6 105.13 L363.1 105.12 L363.6 105.1 L364.1 105.08 L364.6 105.06 L365.1 105.04 L365.6 105.03 L366.1 105.01 L366.6 104.99 L367.1 104.97 L367.6 104.96 L368.1 104.94 L368.6 104.92 L369.1 104.91 L369.6 104.89 L370.1 104.87 L370.6 104.86 L371.1 104.84 L371.6 104.82 L372.1 104.81 L372.6 104.79 L373.1 104.77 L373.6 104.76 L374.1 104.74 L374.6 104.72 L375.1 104.71 L375.6 104.69 L376.1 104.67 L376.6 104.66 L377.1 104.64 L377.6 104.62 L378.1 104.6 L378.6 104.59 L379.1 104.57 L379.6 104.55 L380.1 104.54 L380.6 104.52 L381.1 104.5 L381.6 104.49 L382.1 104.47 L382.6 104.45 L383.1 104.44 L383.6 104.42 L384.1 104.4 L384.6 104.39 L385.1 104.37 L385.6 104.36 L386.1 104.34 L386.6 104.32 L387.1 104.31 L387.6 104.29 L388.1 104.28 L388.6 104.26 L389.1 104.25 L389.6 104.23 L390.1 104.22 L390.6 104.2 L391.1 104.19 L391.6 104.17 L392.1 104.16 L392.6 104.15 L393.1 104.13 L393.6 104.12 L394.1 104.11 L394.6 104.09 L395.1 104.08 L395.6 104.07 L396.1 104.06 L396.6 104.05 L397.1 104.03 L397.6 104.02 L398.1 104.01 L398.6 104 L399.1 103.99 L399.6 103.98 L400.1 103.97 L400.6 103.96 L401.1 103.95 L401.6 103.94 L402.1 103.93 L402.6 103.92 L403.1 103.91 L403.6 103.9 L404.1 103.89 L404.6 103.88 L405.1 103.87 L405.6 103.86 L406.1 103.85 L406.6 103.84 L407.1 103.83 L407.6 103.82 L408.1 103.81 L408.6 103.8 L409.1 103.79 L409.6 103.78 L410.1 103.77 L410.6 103.76 L411.1 103.75 L411.6 103.74 L412.1 103.73 L412.6 103.72 L413.1 103.71 L413.6 103.7 L414.1 103.69 L414.6 103.67 L415.1 103.66 L415.6 103.65 L416.1 103.64 L416.6 103.63 L417.1 103.62 L417.6 103.61 L418.1 103.6 L418.6 103.59 L419.1 103.58 L419.6 103.57 L420.1 103.56 L420.6 103.55 L421.1 103.54 L421.6 103.53 L422.1 103.52 L422.6 103.51 L423.1 103.5 L423.6 103.48 L424.1 103.47 L424.6 103.46 L425.1 103.45 L425.6 103.44 L426.1 103.43 L426.6 103.42 L427.1 103.41 L427.6 103.4 L428.1 103.39 L428.6 103.38 L429.1 103.37 L429.6 103.36 L430.1 103.35 L430.6 103.34 L431.1 103.33 L431.6 103.32 L432.1 103.31 L432.6 103.3 L433.1 103.29 L433.6 103.28 L434.1 103.27 L434.6 103.26 L435.1 103.25 L435.6 103.24 L436.1 103.23 L436.6 103.22 L437.1 103.21 L437.6 103.2 L438.1 103.19 L438.6 103.18 L439.1 103.17 L439.6 103.16 L440.1 103.15 L440.6 103.14 L441.1 103.13 L441.6 103.12 L442.1 103.11 L442.6 103.1 L443.1 103.09 L443.6 103.08 L444.1 103.07 L444.6 103.06 L445.1 103.05 L445.6 103.04 L446.1 103.03 L446.6 103.02 L447.1 103.01 L447.6 103 L448.1 102.99 L448.6 102.98 L449.1 102.97 L449.6 102.96 L450.1 102.95 L450.6 102.94 L451.1 102.93 L451.6 102.92 L452.1 102.91 L452.6 102.9 L453.1 102.89 L453.6 102.88 L454.1 102.87 L454.6 102.86 L455.1 102.85 L455.6 102.84 L456.1 102.83 L456.6 102.82 L457.1 102.81 L457.6 102.8 L458.1 102.79 L458.6 102.78 L459.1 102.77 L459.6 102.76 L460.1 102.75 L460.6 102.74 L461.1 102.73 L461.6 102.72 L462.1 102.72 L462.6 102.71 L462.9 102.7" fill="none" stroke="#0000ff" stroke-width="0.45" stroke-opacity="0.17"/>
<path d="M101.6 72.6 L102.1 72.8 L102.6 73.01 L103.1 73.23 L103.6 73.46 L104.1 73.71 L104.6 73.96 L105.1 74.22 L105.6 74.49 L106.1 74.77 L106.6 75.06 L107.1 75.36 L107.6 75.66 L108.1 75.97 L108.6 76.29 L109.1 76.62 L109.6 76.97 L110.1 77.32 L110.6 77.69 L111.1 78.07 L111.6 78.46 L112.1 78.87 L112.6 79.28 L113.1 79.71 L113.6 80.14 L114.1 80.59 L114.6 81.05 L115.1 81.52 L115.6 82 L116.1 82.49 L116.6 82.98 L117.1 83.47 L117.6 83.96 L118.1 84.47 L118.6 85 L119.1 85.55 L119.6 86.13 L120.1 86.75 L120.6 87.41 L121.1 88.12 L121.6 88.88 L122.1 89.7 L122.6 90.59 L123.1 91.67 L123.6 92.98 L124.1 94.46 L124.6 96.08 L125.1 97.78 L125.6 99.52 L126.1 101.25 L126.6 102.93 L127.1 104.56 L127.6 106.19 L128.1 107.88 L128.6 109.69 L129.1 111.66 L129.6 113.86 L130.1 116.39 L130.6 119.25 L131.1 122.44 L131.6 125.93 L132.1 130.13 L132.6 134.76 L133.1 139.27 L133.6 143.62 L134.1 147.96 L134.6 152.18 L135.1 156.11 L135.6 160.49 L136.1 166.51 L136.6 175.3 L137.1 181.69 L137.6 186.51 L138.1 193.21 L138.6 202.51 L139.1 208.04 L139.6 211.96 L140.1 216.15 L140.6 222.69 L141.1 230.7 L141.6 237.04 L142.1 241.6 L142.6 244.39 L143.1 246.91 L143.6 249.1 L144.1 250.88 L144.6 252.16 L145.1 252.88 L145.6 252.92 L146.1 252.09 L146.6 250.54 L147.1 248.5 L147.6 246.19 L148.1 243.84 L148.6 241.61 L149.1 239.19 L149.6 236.5 L150.1 233.61 L150.6 230.58 L151.1 227.21 L151.6 223.58 L152.1 219.91 L152.6 216.42 L153.1 212.98 L153.6 209.58 L154.1 206.29 L154.6 203.17 L155.1 200.16 L155.6 197.26 L156.1 194.45 L156.6 191.73 L157.1 189.07 L157.6 186.42 L158.1 183.84 L158.6 181.42 L159.1 179.21 L159.6 177.26 L160.1 175.5 L160.6 173.88 L161.1 172.34 L161.6 170.83 L162.1 169.32 L162.6 167.74 L163.1 166.11 L163.6 164.46 L164.1 162.85 L164.6 161.35 L165.1 160.01 L165.6 158.86 L166.1 157.8 L166.6 156.8 L167.1 155.84 L167.6 154.94 L168.1 154.08 L168.6 153.26 L169.1 152.49 L169.6 151.76 L170.1 151.07 L170.6 150.42 L171.1 149.8 L171.6 149.2 L172.1 148.6 L172.6 148.01 L173.1 147.43 L173.6 146.86 L174.1 146.32 L174.6 145.81 L175.1 145.33 L175.6 144.89 L176.1 144.49 L176.6 144.14 L177.1 143.85 L177.6 143.61 L178.1 143.43 L178.6 143.27 L179.1 143.12 L179.6 142.98 L180.1 142.84 L180.6 142.72 L181.1 142.6 L181.6 142.51 L182.1 142.43 L182.6 142.36 L183.1 142.32 L183.6 142.3 L184.1 142.31 L184.6 142.36 L185.1 142.45 L185.6 142.57 L186.1 142.73 L186.6 142.91 L187.1 143.12 L187.6 143.34 L188.1 143.58 L188.6 143.83 L189.1 144.09 L189.6 144.35 L190.1 144.62 L190.6 144.93 L191.1 145.28 L191.6 145.66 L192.1 146.08 L192.6 146.54 L193.1 147.02 L193.6 147.53 L194.1 148.06 L194.6 148.62 L195.1 149.21 L195.6 149.81 L196.1 150.43 L196.6 151.06 L197.1 151.71 L197.6 152.37 L198.1 153.05 L198.6 153.8 L199.1 154.59 L199.6 155.45 L200.1 156.34 L200.6 157.28 L201.1 158.27 L201.6 159.28 L202.1 160.33 L202.6 161.4 L203.1 162.53 L203.6 163.73 L204.1 165.01 L204.6 166.33 L205.1 167.71 L205.6 169.12 L206.1 170.56 L206.6 172.01 L207.1 173.46 L207.6 174.9 L208.1 176.36 L208.6 177.87 L209.1 179.45 L209.6 181.13 L210.1 182.94 L210.6 184.91 L211.1 187.16 L211.6 189.68 L212.1 192.39 L212.6 195.19 L213.1 198 L213.6 200.92 L214.1 203.95 L214.6 206.87 L215.1 209.56 L215.6 212.15 L216.1 214.78 L216.6 217.58 L217.1 220.72 L217.6 224.4 L218.1 228.24 L218.6 231.8 L219.1 234.88 L219.6 237.73 L220.1 240.54 L220.6 243.5 L221.1 246.68 L221.6 249.97 L222.1 253.33 L222.6 256.7 L223.1 260.12 L223.6 263.59 L224.1 267.05 L224.6 270.4 L225.1 273.77 L225.6 277.15 L226.1 280.35 L226.6 283.12 L227.1 285.46 L227.6 287.72 L228.1 289.84 L228.6 291.79 L229.1 293.51 L229.6 294.97 L230.1 296.11 L230.6 297.03 L231.1 297.85 L231.6 298.43 L232.1 298.59 L232.6 298.29 L233.1 297.62 L233.6 296.66 L234.1 295.48 L234.6 294.15 L235.1 292.76 L235.6 291.26 L236.1 289.29 L236.6 286.95 L237.1 284.38 L237.6 281.73 L238.1 279.05 L238.6 276.21 L239.1 273.18 L239.6 269.91 L240.1 266.35 L240.6 262 L241.1 257.4 L241.6 253.52 L242.1 250.52 L242.6 247.87 L243.1 245.1 L243.6 241.75 L244.1 237.57 L244.6 233.24 L245.1 229.54 L245.6 226.5 L246.1 223.75 L246.6 221.03 L247.1 218.09 L247.6 214.91 L248.1 211.68 L248.6 208.57 L249.1 205.77 L249.6 203.32 L250.1 201.06 L250.6 198.84 L251.1 196.5 L251.6 193.89 L252.1 190.98 L252.6 187.99 L253.1 185.13 L253.6 182.63 L254.1 180.38 L254.6 178.25 L255.1 176.23 L255.6 174.31 L256.1 172.48 L256.6 170.72 L257.1 169.03 L257.6 167.43 L258.1 165.9 L258.6 164.43 L259.1 163.01 L259.6 161.61 L260.1 160.23 L260.6 158.84 L261.1 157.44 L261.6 156.04 L262.1 154.65 L262.6 153.29 L263.1 151.97 L263.6 150.73 L264.1 149.56 L264.6 148.49 L265.1 147.5 L265.6 146.54 L266.1 145.63 L266.6 144.76 L267.1 143.92 L267.6 143.11 L268.1 142.32 L268.6 141.55 L269.1 140.79 L269.6 140.04 L270.1 139.3 L270.6 138.56 L271.1 137.84 L271.6 137.12 L272.1 136.42 L272.6 135.73 L273.1 135.06 L273.6 134.4 L274.1 133.76 L274.6 133.14 L275.1 132.53 L275.6 131.94 L276.1 131.38 L276.6 130.82 L277.1 130.29 L277.6 129.76 L278.1 129.25 L278.6 128.74 L279.1 128.25 L279.6 127.77 L280.1 127.29 L280.6 126.83 L281.1 126.37 L281.6 125.92 L282.1 125.47 L282.6 125.03 L283.1 124.59 L283.6 124.15 L284.1 123.72 L284.6 123.3 L285.1 122.88 L285.6 122.47 L286.1 122.06 L286.6 121.66 L287.1 121.26 L287.6 120.87 L288.1 120.49 L288.6 120.11 L289.1 119.75 L289.6 119.38 L290.1 119.03 L290.6 118.68 L291.1 118.32 L291.6 117.97 L292.1 117.61 L292.6 117.26 L293.1 116.91 L293.6 116.57 L294.1 116.23 L294.6 115.89 L295.1 115.57 L295.6 115.26 L296.1 114.95 L296.6 114.66 L297.1 114.38 L297.6 114.11 L298.1 113.86 L298.6 113.62 L299.1 113.4 L299.6 113.19 L300.1 112.99 L300.6 112.8 L301.1 112.61 L301.6 112.43 L302.1 112.25 L302.6 112.08 L303.1 111.91 L303.6 111.75 L304.1 111.59 L304.6 111.44 L305.1 111.3 L305.6 111.16 L306.1 111.02 L306.6 110.89 L307.1 110.76 L307.6 110.64 L308.1 110.52 L308.6 110.4 L309.1 110.29 L309.6 110.18 L310.1 110.07 L310.6 109.97 L311.1 109.87 L311.6 109.77 L312.1 109.67 L312.6 109.58 L313.1 109.49 L313.6 109.4 L314.1 109.32 L314.6 109.23 L315.1 109.15 L315.6 109.07 L316.1 108.99 L316.6 108.92 L317.1 108.84 L317.6 108.77 L318.1 108.7 L318.6 108.63 L319.1 108.56 L319.6 108.49 L320.1 108.43 L320.6 108.36 L321.1 108.29 L321.6 108.23 L322.1 108.17 L322.6 108.1 L323.1 108.04 L323.6 107.98 L324.1 107.92 L324.6 107.86 L325.1 107.8 L325.6 107.74 L326.1 107.68 L326.6 107.62 L327.1 107.57 L327.6 107.51 L328.1 107.46 L328.6 107.4 L329.1 107.35 L329.6 107.3 L330.1 107.25 L330.6 107.2 L331.1 107.15 L331.6 107.1 L332.1 107.05 L332.6 107 L333.1 106.95 L333.6 106.91 L334.1 106.86 L334.6 106.82 L335.1 106.78 L335.6 106.73 L336.1 106.69 L336.6 106.65 L337.1 106.61 L337.6 106.57 L338.1 106.53 L338.6 106.49 L339.1 106.45 L339.6 106.41 L340.1 106.38 L340.6 106.34 L341.1 106.3 L341.6 106.26 L342.1 106.23 L342.6 106.19 L343.1 106.16 L343.6 106.12 L344.1 106.09 L344.6 106.06 L345.1 106.02 L345.6 105.99 L346.1 105.96 L346.6 105.93 L347.1 105.89 L347.6 105.86 L348.1 105.83 L348.6 105.8 L349.1 105.77 L349.6 105.74 L350.1 105.72 L350.6 105.69 L351.1 105.66 L351.6 105.63 L352.1 105.6 L352.6 105.58 L353.1 105.55 L353.6 105.53 L354.1 105.5 L354.6 105.48 L355.1 105.45 L355.6 105.43 L356.1 105.4 L356.6 105.38 L357.1 105.36 L357.6 105.34 L358.1 105.31 L358.6 105.29 L359.1 105.27 L359.6 105.25 L360.1 105.23 L360.6 105.21 L361.1 105.19 L361.6 105.17 L362.1 105.15 L362.6 105.13 L363.1 105.12 L363.6 105.1 L364.1 105.08 L364.6 105.06 L365.1 105.04 L365.6 105.03 L366.1 105.01 L366.6 104.99 L367.1 104.97 L367.6 104.96 L368.1 104.94 L368.6 104.92 L369.1 104.91 L369.6 104.89 L370.1 104.87 L370.6 104.86 L371.1 104.84 L371.6 104.82 L372.1 104.81 L372.6 104.79 L373.1 104.77 L373.6 104.76 L374.1 104.74 L374.6 104.72 L375.1 104.71 L375.6 104.69 L376.1 104.67 L376.6 104.66 L377.1 104.64 L377.6 104.62 L378.1 104.6 L378.6 104.59 L379.1 104.57 L379.6 104.55 L380.1 104.54 L380.6 104.52 L381.1 104.5 L381.6 104.49 L382.1 104.47 L382.6 104.45 L383.1 104.44 L383.6 104.42 L384.1 104.4 L384.6 104.39 L385.1 104.37 L385.6 104.36 L386.1 104.34 L386.6 104.32 L387.1 104.31 L387.6 104.29 L388.1 104.28 L388.6 104.26 L389.1 104.25 L389.6 104.23 L390.1 104.22 L390.6 104.2 L391.1 104.19 L391.6 104.17 L392.1 104.16 L392.6 104.15 L393.1 104.13 L393.6 104.12 L394.1 104.11 L394.6 104.09 L395.1 104.08 L395.6 104.07 L396.1 104.06 L396.6 104.05 L397.1 104.03 L397.6 104.02 L398.1 104.01 L398.6 104 L399.1 103.99 L399.6 103.98 L400.1 103.97 L400.6 103.96 L401.1 103.95 L401.6 103.94 L402.1 103.93 L402.6 103.92 L403.1 103.91 L403.6 103.9 L404.1 103.89 L404.6 103.88 L405.1 103.87 L405.6 103.86 L406.1 103.85 L406.6 103.84 L407.1 103.83 L407.6 103.82 L408.1 103.81 L408.6 103.8 L409.1 103.79 L409.6 103.78 L410.1 103.77 L410.6 103.76 L411.1 103.75 L411.6 103.74 L412.1 103.73 L412.6 103.72 L413.1 103.71 L413.6 103.7 L414.1 103.69 L414.6 103.67 L415.1 103.66 L415.6 103.65 L416.1 103.64 L416.6 103.63 L417.1 103.62 L417.6 103.61 L418.1 103.6 L418.6 103.59 L419.1 103.58 L419.6 103.57 L420.1 103.56 L420.6 103.55 L421.1 103.54 L421.6 103.53 L422.1 103.52 L422.6 103.51 L423.1 103.5 L423.6 103.48 L424.1 103.47 L424.6 103.46 L425.1 103.45 L425.6 103.44 L426.1 103.43 L426.6 103.42 L427.1 103.41 L427.6 103.4 L428.1 103.39 L428.6 103.38 L429.1 103.37 L429.6 103.36 L430.1 103.35 L430.6 103.34 L431.1 103.33 L431.6 103.32 L432.1 103.31 L432.6 103.3 L433.1 103.29 L433.6 103.28 L434.1 103.27 L434.6 103.26 L435.1 103.25 L435.6 103.24 L436.1 103.23 L436.6 103.22 L437.1 103.21 L437.6 103.2 L438.1 103.19 L438.6 103.18 L439.1 103.17 L439.6 103.16 L440.1 103.15 L440.6 103.14 L441.1 103.13 L441.6 103.12 L442.1 103.11 L442.6 103.1 L443.1 103.09 L443.6 103.08 L444.1 103.07 L444.6 103.06 L445.1 103.05 L445.6 103.04 L446.1 103.03 L446.6 103.02 L447.1 103.01 L447.6 103 L448.1 102.99 L448.6 102.98 L449.1 102.97 L449.6 102.96 L450.1 102.95 L450.6 102.94 L451.1 102.93 L451.6 102.92 L452.1 102.91 L452.6 102.9 L453.1 102.89 L453.6 102.88 L454.1 102.87 L454.6 102.86 L455.1 102.85 L455.6 102.84 L456.1 102.83 L456.6 102.82 L457.1 102.81 L457.6 102.8 L458.1 102.79 L458.6 102.78 L459.1 102.77 L459.6 102.76 L460.1 102.75 L460.6 102.74 L461.1 102.73 L461.6 102.72 L462.1 102.72 L462.6 102.71 L462.9 102.7" fill="none" stroke="#0000ff" stroke-width="3.2" stroke-linejoin="round" stroke-linecap="round" stroke-dasharray="0.01 12.4" stroke-dashoffset="-6"/>
<path d="M101.6 119.4 L102.1 118.84 L102.6 118.3 L103.1 117.79 L103.6 117.3 L104.1 116.85 L104.6 116.43 L105.1 116.06 L105.6 115.73 L106.1 115.45 L106.6 115.18 L107.1 114.92 L107.6 114.67 L108.1 114.43 L108.6 114.22 L109.1 114.03 L109.6 113.88 L110.1 113.77 L110.6 113.71 L111.1 113.7 L111.6 113.72 L112.1 113.77 L112.6 113.84 L113.1 113.93 L113.6 114.04 L114.1 114.16 L114.6 114.3 L115.1 114.46 L115.6 114.62 L116.1 114.8 L116.6 114.99 L117.1 115.18 L117.6 115.38 L118.1 115.58 L118.6 115.79 L119.1 116.03 L119.6 116.33 L120.1 116.66 L120.6 117.03 L121.1 117.42 L121.6 117.85 L122.1 118.29 L122.6 118.76 L123.1 119.23 L123.6 119.72 L124.1 120.21 L124.6 120.7 L125.1 121.21 L125.6 121.74 L126.1 122.3 L126.6 122.89 L127.1 123.5 L127.6 124.14 L128.1 124.8 L128.6 125.49 L129.1 126.2 L129.6 126.95 L130.1 127.72 L130.6 128.53 L131.1 129.38 L131.6 130.28 L132.1 131.26 L132.6 132.32 L133.1 133.46 L133.6 134.74 L134.1 136.36 L134.6 138.21 L135.1 140.11 L135.6 141.87 L136.1 143.39 L136.6 144.85 L137.1 146.26 L137.6 147.58 L138.1 148.81 L138.6 149.9 L139.1 150.89 L139.6 151.92 L140.1 152.94 L140.6 153.88 L141.1 154.68 L141.6 155.26 L142.1 155.57 L142.6 155.52 L143.1 155.07 L143.6 154.3 L144.1 153.33 L144.6 152.23 L145.1 151.13 L145.6 150.1 L146.1 149.06 L146.6 147.93 L147.1 146.73 L147.6 145.48 L148.1 144.17 L148.6 142.82 L149.1 141.33 L149.6 139.72 L150.1 138.09 L150.6 136.53 L151.1 135.14 L151.6 133.87 L152.1 132.67 L152.6 131.53 L153.1 130.43 L153.6 129.35 L154.1 128.29 L154.6 127.21 L155.1 126.13 L155.6 125.08 L156.1 124.05 L156.6 123.09 L157.1 122.2 L157.6 121.4 L158.1 120.68 L158.6 119.99 L159.1 119.35 L159.6 118.73 L160.1 118.15 L160.6 117.59 L161.1 117.07 L161.6 116.57 L162.1 116.09 L162.6 115.62 L163.1 115.16 L163.6 114.7 L164.1 114.26 L164.6 113.82 L165.1 113.41 L165.6 113.01 L166.1 112.65 L166.6 112.32 L167.1 112.02 L167.6 111.77 L168.1 111.56 L168.6 111.37 L169.1 111.19 L169.6 111.02 L170.1 110.86 L170.6 110.7 L171.1 110.55 L171.6 110.41 L172.1 110.28 L172.6 110.15 L173.1 110.04 L173.6 109.93 L174.1 109.84 L174.6 109.75 L175.1 109.67 L175.6 109.6 L176.1 109.54 L176.6 109.49 L177.1 109.45 L177.6 109.4 L178.1 109.36 L178.6 109.32 L179.1 109.28 L179.6 109.24 L180.1 109.2 L180.6 109.17 L181.1 109.14 L181.6 109.11 L182.1 109.08 L182.6 109.06 L183.1 109.04 L183.6 109.02 L184.1 109.01 L184.6 109 L185.1 109 L185.6 109 L186.1 109 L186.6 109.01 L187.1 109.02 L187.6 109.03 L188.1 109.04 L188.6 109.05 L189.1 109.07 L189.6 109.09 L190.1 109.11 L190.6 109.13 L191.1 109.16 L191.6 109.18 L192.1 109.21 L192.6 109.24 L193.1 109.27 L193.6 109.3 L194.1 109.34 L194.6 109.4 L195.1 109.48 L195.6 109.57 L196.1 109.68 L196.6 109.81 L197.1 109.94 L197.6 110.09 L198.1 110.24 L198.6 110.41 L199.1 110.58 L199.6 110.75 L200.1 110.93 L200.6 111.12 L201.1 111.3 L201.6 111.49 L202.1 111.67 L202.6 111.85 L203.1 112.03 L203.6 112.2 L204.1 112.38 L204.6 112.56 L205.1 112.74 L205.6 112.92 L206.1 113.11 L206.6 113.31 L207.1 113.51 L207.6 113.72 L208.1 113.94 L208.6 114.17 L209.1 114.42 L209.6 114.67 L210.1 114.93 L210.6 115.22 L211.1 115.53 L211.6 115.87 L212.1 116.24 L212.6 116.63 L213.1 117.04 L213.6 117.47 L214.1 117.91 L214.6 118.35 L215.1 118.8 L215.6 119.25 L216.1 119.7 L216.6 120.16 L217.1 120.64 L217.6 121.13 L218.1 121.65 L218.6 122.18 L219.1 122.72 L219.6 123.27 L220.1 123.82 L220.6 124.36 L221.1 124.91 L221.6 125.45 L222.1 125.97 L222.6 126.49 L223.1 126.98 L223.6 127.46 L224.1 127.91 L224.6 128.33 L225.1 128.73 L225.6 129.11 L226.1 129.51 L226.6 129.92 L227.1 130.32 L227.6 130.7 L228.1 131.03 L228.6 131.3 L229.1 131.49 L229.6 131.59 L230.1 131.59 L230.6 131.56 L231.1 131.49 L231.6 131.39 L232.1 131.27 L232.6 131.12 L233.1 130.96 L233.6 130.77 L234.1 130.57 L234.6 130.36 L235.1 130.14 L235.6 129.91 L236.1 129.68 L236.6 129.45 L237.1 129.2 L237.6 128.9 L238.1 128.57 L238.6 128.19 L239.1 127.79 L239.6 127.35 L240.1 126.9 L240.6 126.43 L241.1 125.95 L241.6 125.46 L242.1 124.97 L242.6 124.49 L243.1 124.01 L243.6 123.5 L244.1 122.97 L244.6 122.42 L245.1 121.85 L245.6 121.29 L246.1 120.72 L246.6 120.16 L247.1 119.62 L247.6 119.1 L248.1 118.56 L248.6 118.01 L249.1 117.46 L249.6 116.9 L250.1 116.36 L250.6 115.85 L251.1 115.37 L251.6 114.93 L252.1 114.55 L252.6 114.24 L253.1 113.97 L253.6 113.72 L254.1 113.48 L254.6 113.27 L255.1 113.06 L255.6 112.87 L256.1 112.69 L256.6 112.52 L257.1 112.35 L257.6 112.18 L258.1 112.02 L258.6 111.85 L259.1 111.68 L259.6 111.5 L260.1 111.32 L260.6 111.12 L261.1 110.92 L261.6 110.71 L262.1 110.5 L262.6 110.29 L263.1 110.07 L263.6 109.86 L264.1 109.65 L264.6 109.44 L265.1 109.24 L265.6 109.04 L266.1 108.85 L266.6 108.67 L267.1 108.5 L267.6 108.34 L268.1 108.18 L268.6 108.02 L269.1 107.87 L269.6 107.71 L270.1 107.56 L270.6 107.42 L271.1 107.28 L271.6 107.14 L272.1 107.01 L272.6 106.89 L273.1 106.77 L273.6 106.66 L274.1 106.56 L274.6 106.47 L275.1 106.38 L275.6 106.31 L276.1 106.23 L276.6 106.17 L277.1 106.1 L277.6 106.04 L278.1 105.98 L278.6 105.92 L279.1 105.86 L279.6 105.81 L280.1 105.76 L280.6 105.71 L281.1 105.66 L281.6 105.61 L282.1 105.56 L282.6 105.52 L283.1 105.47 L283.6 105.42 L284.1 105.38 L284.6 105.33 L285.1 105.28 L285.6 105.23 L286.1 105.18 L286.6 105.13 L287.1 105.07 L287.6 105.02 L288.1 104.97 L288.6 104.91 L289.1 104.86 L289.6 104.81 L290.1 104.76 L290.6 104.71 L291.1 104.66 L291.6 104.61 L292.1 104.56 L292.6 104.52 L293.1 104.48 L293.6 104.45 L294.1 104.41 L294.6 104.38 L295.1 104.35 L295.6 104.32 L296.1 104.3 L296.6 104.27 L297.1 104.24 L297.6 104.22 L298.1 104.2 L298.6 104.17 L299.1 104.15 L299.6 104.13 L300.1 104.11 L300.6 104.08 L301.1 104.06 L301.6 104.04 L302.1 104.02 L302.6 104 L303.1 103.99 L303.6 103.97 L304.1 103.95 L304.6 103.93 L305.1 103.92 L305.6 103.9 L306.1 103.88 L306.6 103.86 L307.1 103.85 L307.6 103.83 L308.1 103.82 L308.6 103.8 L309.1 103.78 L309.6 103.77 L310.1 103.75 L310.6 103.74 L311.1 103.72 L311.6 103.71 L312.1 103.69 L312.6 103.68 L313.1 103.66 L313.6 103.64 L314.1 103.63 L314.6 103.62 L315.1 103.6 L315.6 103.59 L316.1 103.57 L316.6 103.56 L317.1 103.54 L317.6 103.53 L318.1 103.51 L318.6 103.5 L319.1 103.49 L319.6 103.47 L320.1 103.46 L320.6 103.45 L321.1 103.43 L321.6 103.42 L322.1 103.41 L322.6 103.39 L323.1 103.38 L323.6 103.37 L324.1 103.36 L324.6 103.35 L325.1 103.33 L325.6 103.32 L326.1 103.31 L326.6 103.3 L327.1 103.29 L327.6 103.28 L328.1 103.27 L328.6 103.25 L329.1 103.24 L329.6 103.23 L330.1 103.22 L330.6 103.21 L331.1 103.2 L331.6 103.19 L332.1 103.18 L332.6 103.17 L333.1 103.16 L333.6 103.16 L334.1 103.15 L334.6 103.14 L335.1 103.13 L335.6 103.12 L336.1 103.11 L336.6 103.11 L337.1 103.1 L337.6 103.09 L338.1 103.08 L338.6 103.08 L339.1 103.07 L339.6 103.06 L340.1 103.05 L340.6 103.05 L341.1 103.04 L341.6 103.03 L342.1 103.03 L342.6 103.02 L343.1 103.01 L343.6 103.01 L344.1 103 L344.6 102.99 L345.1 102.99 L345.6 102.98 L346.1 102.97 L346.6 102.97 L347.1 102.96 L347.6 102.96 L348.1 102.95 L348.6 102.94 L349.1 102.94 L349.6 102.93 L350.1 102.93 L350.6 102.92 L351.1 102.91 L351.6 102.91 L352.1 102.9 L352.6 102.9 L353.1 102.89 L353.6 102.89 L354.1 102.88 L354.6 102.88 L355.1 102.87 L355.6 102.86 L356.1 102.86 L356.6 102.85 L357.1 102.85 L357.6 102.84 L358.1 102.84 L358.6 102.83 L359.1 102.83 L359.6 102.82 L360.1 102.82 L360.6 102.82 L361.1 102.81 L361.6 102.81 L362.1 102.8 L362.6 102.8 L363.1 102.79 L363.6 102.79 L364.1 102.78 L364.6 102.78 L365.1 102.77 L365.6 102.77 L366.1 102.77 L366.6 102.76 L367.1 102.76 L367.6 102.75 L368.1 102.75 L368.6 102.75 L369.1 102.74 L369.6 102.74 L370.1 102.73 L370.6 102.73 L371.1 102.73 L371.6 102.72 L372.1 102.72 L372.6 102.72 L373.1 102.71 L373.6 102.71 L374.1 102.71 L374.6 102.7 L375.1 102.7 L375.6 102.7 L376.1 102.69 L376.6 102.69 L377.1 102.69 L377.6 102.68 L378.1 102.68 L378.6 102.68 L379.1 102.67 L379.6 102.67 L380.1 102.67 L380.6 102.66 L381.1 102.66 L381.6 102.66 L382.1 102.65 L382.6 102.65 L383.1 102.65 L383.6 102.64 L384.1 102.64 L384.6 102.64 L385.1 102.63 L385.6 102.63 L386.1 102.63 L386.6 102.62 L387.1 102.62 L387.6 102.62 L388.1 102.61 L388.6 102.61 L389.1 102.61 L389.6 102.6 L390.1 102.6 L390.6 102.6 L391.1 102.59 L391.6 102.59 L392.1 102.59 L392.6 102.58 L393.1 102.58 L393.6 102.58 L394.1 102.57 L394.6 102.57 L395.1 102.57 L395.6 102.56 L396.1 102.56 L396.6 102.56 L397.1 102.56 L397.6 102.55 L398.1 102.55 L398.6 102.55 L399.1 102.54 L399.6 102.54 L400.1 102.54 L400.6 102.53 L401.1 102.53 L401.6 102.53 L402.1 102.52 L402.6 102.52 L403.1 102.52 L403.6 102.52 L404.1 102.51 L404.6 102.51 L405.1 102.51 L405.6 102.5 L406.1 102.5 L406.6 102.5 L407.1 102.5 L407.6 102.49 L408.1 102.49 L408.6 102.49 L409.1 102.48 L409.6 102.48 L410.1 102.48 L410.6 102.48 L411.1 102.47 L411.6 102.47 L412.1 102.47 L412.6 102.46 L413.1 102.46 L413.6 102.46 L414.1 102.46 L414.6 102.45 L415.1 102.45 L415.6 102.45 L416.1 102.45 L416.6 102.44 L417.1 102.44 L417.6 102.44 L418.1 102.43 L418.6 102.43 L419.1 102.43 L419.6 102.43 L420.1 102.42 L420.6 102.42 L421.1 102.42 L421.6 102.42 L422.1 102.41 L422.6 102.41 L423.1 102.41 L423.6 102.41 L424.1 102.41 L424.6 102.4 L425.1 102.4 L425.6 102.4 L426.1 102.4 L426.6 102.39 L427.1 102.39 L427.6 102.39 L428.1 102.39 L428.6 102.39 L429.1 102.38 L429.6 102.38 L430.1 102.38 L430.6 102.38 L431.1 102.37 L431.6 102.37 L432.1 102.37 L432.6 102.37 L433.1 102.37 L433.6 102.36 L434.1 102.36 L434.6 102.36 L435.1 102.36 L435.6 102.36 L436.1 102.36 L436.6 102.35 L437.1 102.35 L437.6 102.35 L438.1 102.35 L438.6 102.35 L439.1 102.35 L439.6 102.34 L440.1 102.34 L440.6 102.34 L441.1 102.34 L441.6 102.34 L442.1 102.34 L442.6 102.33 L443.1 102.33 L443.6 102.33 L444.1 102.33 L444.6 102.33 L445.1 102.33 L445.6 102.33 L446.1 102.32 L446.6 102.32 L447.1 102.32 L447.6 102.32 L448.1 102.32 L448.6 102.32 L449.1 102.32 L449.6 102.32 L450.1 102.32 L450.6 102.31 L451.1 102.31 L451.6 102.31 L452.1 102.31 L452.6 102.31 L453.1 102.31 L453.6 102.31 L454.1 102.31 L454.6 102.31 L455.1 102.31 L455.6 102.31 L456.1 102.31 L456.6 102.31 L457.1 102.3 L457.6 102.3 L458.1 102.3 L458.6 102.3 L459.1 102.3 L459.6 102.3 L460.1 102.3 L460.6 102.3 L461.1 102.3 L461.6 102.3 L462.1 102.3 L462.6 102.3 L462.9 102.3" fill="none" stroke="#008000" stroke-width="0.45" stroke-opacity="0.17"/>
<path d="M101.6 119.4 L102.1 118.84 L102.6 118.3 L103.1 117.79 L103.6 117.3 L104.1 116.85 L104.6 116.43 L105.1 116.06 L105.6 115.73 L106.1 115.45 L106.6 115.18 L107.1 114.92 L107.6 114.67 L108.1 114.43 L108.6 114.22 L109.1 114.03 L109.6 113.88 L110.1 113.77 L110.6 113.71 L111.1 113.7 L111.6 113.72 L112.1 113.77 L112.6 113.84 L113.1 113.93 L113.6 114.04 L114.1 114.16 L114.6 114.3 L115.1 114.46 L115.6 114.62 L116.1 114.8 L116.6 114.99 L117.1 115.18 L117.6 115.38 L118.1 115.58 L118.6 115.79 L119.1 116.03 L119.6 116.33 L120.1 116.66 L120.6 117.03 L121.1 117.42 L121.6 117.85 L122.1 118.29 L122.6 118.76 L123.1 119.23 L123.6 119.72 L124.1 120.21 L124.6 120.7 L125.1 121.21 L125.6 121.74 L126.1 122.3 L126.6 122.89 L127.1 123.5 L127.6 124.14 L128.1 124.8 L128.6 125.49 L129.1 126.2 L129.6 126.95 L130.1 127.72 L130.6 128.53 L131.1 129.38 L131.6 130.28 L132.1 131.26 L132.6 132.32 L133.1 133.46 L133.6 134.74 L134.1 136.36 L134.6 138.21 L135.1 140.11 L135.6 141.87 L136.1 143.39 L136.6 144.85 L137.1 146.26 L137.6 147.58 L138.1 148.81 L138.6 149.9 L139.1 150.89 L139.6 151.92 L140.1 152.94 L140.6 153.88 L141.1 154.68 L141.6 155.26 L142.1 155.57 L142.6 155.52 L143.1 155.07 L143.6 154.3 L144.1 153.33 L144.6 152.23 L145.1 151.13 L145.6 150.1 L146.1 149.06 L146.6 147.93 L147.1 146.73 L147.6 145.48 L148.1 144.17 L148.6 142.82 L149.1 141.33 L149.6 139.72 L150.1 138.09 L150.6 136.53 L151.1 135.14 L151.6 133.87 L152.1 132.67 L152.6 131.53 L153.1 130.43 L153.6 129.35 L154.1 128.29 L154.6 127.21 L155.1 126.13 L155.6 125.08 L156.1 124.05 L156.6 123.09 L157.1 122.2 L157.6 121.4 L158.1 120.68 L158.6 119.99 L159.1 119.35 L159.6 118.73 L160.1 118.15 L160.6 117.59 L161.1 117.07 L161.6 116.57 L162.1 116.09 L162.6 115.62 L163.1 115.16 L163.6 114.7 L164.1 114.26 L164.6 113.82 L165.1 113.41 L165.6 113.01 L166.1 112.65 L166.6 112.32 L167.1 112.02 L167.6 111.77 L168.1 111.56 L168.6 111.37 L169.1 111.19 L169.6 111.02 L170.1 110.86 L170.6 110.7 L171.1 110.55 L171.6 110.41 L172.1 110.28 L172.6 110.15 L173.1 110.04 L173.6 109.93 L174.1 109.84 L174.6 109.75 L175.1 109.67 L175.6 109.6 L176.1 109.54 L176.6 109.49 L177.1 109.45 L177.6 109.4 L178.1 109.36 L178.6 109.32 L179.1 109.28 L179.6 109.24 L180.1 109.2 L180.6 109.17 L181.1 109.14 L181.6 109.11 L182.1 109.08 L182.6 109.06 L183.1 109.04 L183.6 109.02 L184.1 109.01 L184.6 109 L185.1 109 L185.6 109 L186.1 109 L186.6 109.01 L187.1 109.02 L187.6 109.03 L188.1 109.04 L188.6 109.05 L189.1 109.07 L189.6 109.09 L190.1 109.11 L190.6 109.13 L191.1 109.16 L191.6 109.18 L192.1 109.21 L192.6 109.24 L193.1 109.27 L193.6 109.3 L194.1 109.34 L194.6 109.4 L195.1 109.48 L195.6 109.57 L196.1 109.68 L196.6 109.81 L197.1 109.94 L197.6 110.09 L198.1 110.24 L198.6 110.41 L199.1 110.58 L199.6 110.75 L200.1 110.93 L200.6 111.12 L201.1 111.3 L201.6 111.49 L202.1 111.67 L202.6 111.85 L203.1 112.03 L203.6 112.2 L204.1 112.38 L204.6 112.56 L205.1 112.74 L205.6 112.92 L206.1 113.11 L206.6 113.31 L207.1 113.51 L207.6 113.72 L208.1 113.94 L208.6 114.17 L209.1 114.42 L209.6 114.67 L210.1 114.93 L210.6 115.22 L211.1 115.53 L211.6 115.87 L212.1 116.24 L212.6 116.63 L213.1 117.04 L213.6 117.47 L214.1 117.91 L214.6 118.35 L215.1 118.8 L215.6 119.25 L216.1 119.7 L216.6 120.16 L217.1 120.64 L217.6 121.13 L218.1 121.65 L218.6 122.18 L219.1 122.72 L219.6 123.27 L220.1 123.82 L220.6 124.36 L221.1 124.91 L221.6 125.45 L222.1 125.97 L222.6 126.49 L223.1 126.98 L223.6 127.46 L224.1 127.91 L224.6 128.33 L225.1 128.73 L225.6 129.11 L226.1 129.51 L226.6 129.92 L227.1 130.32 L227.6 130.7 L228.1 131.03 L228.6 131.3 L229.1 131.49 L229.6 131.59 L230.1 131.59 L230.6 131.56 L231.1 131.49 L231.6 131.39 L232.1 131.27 L232.6 131.12 L233.1 130.96 L233.6 130.77 L234.1 130.57 L234.6 130.36 L235.1 130.14 L235.6 129.91 L236.1 129.68 L236.6 129.45 L237.1 129.2 L237.6 128.9 L238.1 128.57 L238.6 128.19 L239.1 127.79 L239.6 127.35 L240.1 126.9 L240.6 126.43 L241.1 125.95 L241.6 125.46 L242.1 124.97 L242.6 124.49 L243.1 124.01 L243.6 123.5 L244.1 122.97 L244.6 122.42 L245.1 121.85 L245.6 121.29 L246.1 120.72 L246.6 120.16 L247.1 119.62 L247.6 119.1 L248.1 118.56 L248.6 118.01 L249.1 117.46 L249.6 116.9 L250.1 116.36 L250.6 115.85 L251.1 115.37 L251.6 114.93 L252.1 114.55 L252.6 114.24 L253.1 113.97 L253.6 113.72 L254.1 113.48 L254.6 113.27 L255.1 113.06 L255.6 112.87 L256.1 112.69 L256.6 112.52 L257.1 112.35 L257.6 112.18 L258.1 112.02 L258.6 111.85 L259.1 111.68 L259.6 111.5 L260.1 111.32 L260.6 111.12 L261.1 110.92 L261.6 110.71 L262.1 110.5 L262.6 110.29 L263.1 110.07 L263.6 109.86 L264.1 109.65 L264.6 109.44 L265.1 109.24 L265.6 109.04 L266.1 108.85 L266.6 108.67 L267.1 108.5 L267.6 108.34 L268.1 108.18 L268.6 108.02 L269.1 107.87 L269.6 107.71 L270.1 107.56 L270.6 107.42 L271.1 107.28 L271.6 107.14 L272.1 107.01 L272.6 106.89 L273.1 106.77 L273.6 106.66 L274.1 106.56 L274.6 106.47 L275.1 106.38 L275.6 106.31 L276.1 106.23 L276.6 106.17 L277.1 106.1 L277.6 106.04 L278.1 105.98 L278.6 105.92 L279.1 105.86 L279.6 105.81 L280.1 105.76 L280.6 105.71 L281.1 105.66 L281.6 105.61 L282.1 105.56 L282.6 105.52 L283.1 105.47 L283.6 105.42 L284.1 105.38 L284.6 105.33 L285.1 105.28 L285.6 105.23 L286.1 105.18 L286.6 105.13 L287.1 105.07 L287.6 105.02 L288.1 104.97 L288.6 104.91 L289.1 104.86 L289.6 104.81 L290.1 104.76 L290.6 104.71 L291.1 104.66 L291.6 104.61 L292.1 104.56 L292.6 104.52 L293.1 104.48 L293.6 104.45 L294.1 104.41 L294.6 104.38 L295.1 104.35 L295.6 104.32 L296.1 104.3 L296.6 104.27 L297.1 104.24 L297.6 104.22 L298.1 104.2 L298.6 104.17 L299.1 104.15 L299.6 104.13 L300.1 104.11 L300.6 104.08 L301.1 104.06 L301.6 104.04 L302.1 104.02 L302.6 104 L303.1 103.99 L303.6 103.97 L304.1 103.95 L304.6 103.93 L305.1 103.92 L305.6 103.9 L306.1 103.88 L306.6 103.86 L307.1 103.85 L307.6 103.83 L308.1 103.82 L308.6 103.8 L309.1 103.78 L309.6 103.77 L310.1 103.75 L310.6 103.74 L311.1 103.72 L311.6 103.71 L312.1 103.69 L312.6 103.68 L313.1 103.66 L313.6 103.64 L314.1 103.63 L314.6 103.62 L315.1 103.6 L315.6 103.59 L316.1 103.57 L316.6 103.56 L317.1 103.54 L317.6 103.53 L318.1 103.51 L318.6 103.5 L319.1 103.49 L319.6 103.47 L320.1 103.46 L320.6 103.45 L321.1 103.43 L321.6 103.42 L322.1 103.41 L322.6 103.39 L323.1 103.38 L323.6 103.37 L324.1 103.36 L324.6 103.35 L325.1 103.33 L325.6 103.32 L326.1 103.31 L326.6 103.3 L327.1 103.29 L327.6 103.28 L328.1 103.27 L328.6 103.25 L329.1 103.24 L329.6 103.23 L330.1 103.22 L330.6 103.21 L331.1 103.2 L331.6 103.19 L332.1 103.18 L332.6 103.17 L333.1 103.16 L333.6 103.16 L334.1 103.15 L334.6 103.14 L335.1 103.13 L335.6 103.12 L336.1 103.11 L336.6 103.11 L337.1 103.1 L337.6 103.09 L338.1 103.08 L338.6 103.08 L339.1 103.07 L339.6 103.06 L340.1 103.05 L340.6 103.05 L341.1 103.04 L341.6 103.03 L342.1 103.03 L342.6 103.02 L343.1 103.01 L343.6 103.01 L344.1 103 L344.6 102.99 L345.1 102.99 L345.6 102.98 L346.1 102.97 L346.6 102.97 L347.1 102.96 L347.6 102.96 L348.1 102.95 L348.6 102.94 L349.1 102.94 L349.6 102.93 L350.1 102.93 L350.6 102.92 L351.1 102.91 L351.6 102.91 L352.1 102.9 L352.6 102.9 L353.1 102.89 L353.6 102.89 L354.1 102.88 L354.6 102.88 L355.1 102.87 L355.6 102.86 L356.1 102.86 L356.6 102.85 L357.1 102.85 L357.6 102.84 L358.1 102.84 L358.6 102.83 L359.1 102.83 L359.6 102.82 L360.1 102.82 L360.6 102.82 L361.1 102.81 L361.6 102.81 L362.1 102.8 L362.6 102.8 L363.1 102.79 L363.6 102.79 L364.1 102.78 L364.6 102.78 L365.1 102.77 L365.6 102.77 L366.1 102.77 L366.6 102.76 L367.1 102.76 L367.6 102.75 L368.1 102.75 L368.6 102.75 L369.1 102.74 L369.6 102.74 L370.1 102.73 L370.6 102.73 L371.1 102.73 L371.6 102.72 L372.1 102.72 L372.6 102.72 L373.1 102.71 L373.6 102.71 L374.1 102.71 L374.6 102.7 L375.1 102.7 L375.6 102.7 L376.1 102.69 L376.6 102.69 L377.1 102.69 L377.6 102.68 L378.1 102.68 L378.6 102.68 L379.1 102.67 L379.6 102.67 L380.1 102.67 L380.6 102.66 L381.1 102.66 L381.6 102.66 L382.1 102.65 L382.6 102.65 L383.1 102.65 L383.6 102.64 L384.1 102.64 L384.6 102.64 L385.1 102.63 L385.6 102.63 L386.1 102.63 L386.6 102.62 L387.1 102.62 L387.6 102.62 L388.1 102.61 L388.6 102.61 L389.1 102.61 L389.6 102.6 L390.1 102.6 L390.6 102.6 L391.1 102.59 L391.6 102.59 L392.1 102.59 L392.6 102.58 L393.1 102.58 L393.6 102.58 L394.1 102.57 L394.6 102.57 L395.1 102.57 L395.6 102.56 L396.1 102.56 L396.6 102.56 L397.1 102.56 L397.6 102.55 L398.1 102.55 L398.6 102.55 L399.1 102.54 L399.6 102.54 L400.1 102.54 L400.6 102.53 L401.1 102.53 L401.6 102.53 L402.1 102.52 L402.6 102.52 L403.1 102.52 L403.6 102.52 L404.1 102.51 L404.6 102.51 L405.1 102.51 L405.6 102.5 L406.1 102.5 L406.6 102.5 L407.1 102.5 L407.6 102.49 L408.1 102.49 L408.6 102.49 L409.1 102.48 L409.6 102.48 L410.1 102.48 L410.6 102.48 L411.1 102.47 L411.6 102.47 L412.1 102.47 L412.6 102.46 L413.1 102.46 L413.6 102.46 L414.1 102.46 L414.6 102.45 L415.1 102.45 L415.6 102.45 L416.1 102.45 L416.6 102.44 L417.1 102.44 L417.6 102.44 L418.1 102.43 L418.6 102.43 L419.1 102.43 L419.6 102.43 L420.1 102.42 L420.6 102.42 L421.1 102.42 L421.6 102.42 L422.1 102.41 L422.6 102.41 L423.1 102.41 L423.6 102.41 L424.1 102.41 L424.6 102.4 L425.1 102.4 L425.6 102.4 L426.1 102.4 L426.6 102.39 L427.1 102.39 L427.6 102.39 L428.1 102.39 L428.6 102.39 L429.1 102.38 L429.6 102.38 L430.1 102.38 L430.6 102.38 L431.1 102.37 L431.6 102.37 L432.1 102.37 L432.6 102.37 L433.1 102.37 L433.6 102.36 L434.1 102.36 L434.6 102.36 L435.1 102.36 L435.6 102.36 L436.1 102.36 L436.6 102.35 L437.1 102.35 L437.6 102.35 L438.1 102.35 L438.6 102.35 L439.1 102.35 L439.6 102.34 L440.1 102.34 L440.6 102.34 L441.1 102.34 L441.6 102.34 L442.1 102.34 L442.6 102.33 L443.1 102.33 L443.6 102.33 L444.1 102.33 L444.6 102.33 L445.1 102.33 L445.6 102.33 L446.1 102.32 L446.6 102.32 L447.1 102.32 L447.6 102.32 L448.1 102.32 L448.6 102.32 L449.1 102.32 L449.6 102.32 L450.1 102.32 L450.6 102.31 L451.1 102.31 L451.6 102.31 L452.1 102.31 L452.6 102.31 L453.1 102.31 L453.6 102.31 L454.1 102.31 L454.6 102.31 L455.1 102.31 L455.6 102.31 L456.1 102.31 L456.6 102.31 L457.1 102.3 L457.6 102.3 L458.1 102.3 L458.6 102.3 L459.1 102.3 L459.6 102.3 L460.1 102.3 L460.6 102.3 L461.1 102.3 L461.6 102.3 L462.1 102.3 L462.6 102.3 L462.9 102.3" fill="none" stroke="#008000" stroke-width="3.1" stroke-linejoin="round" stroke-linecap="round" stroke-dasharray="8 8.5 0.01 8.5"/>
</g>
<g fill="none" stroke="#1c1c1c" stroke-width="1.5"><path d="M101.6 19H462.9M101.6 309.9H462.9M101.6 19V309.9M462.9 19V309.9" /><path d="M101.6 19.7V9M101.6 309.2V319.9M161.82 19.7V9M161.82 309.2V319.9M222.03 19.7V9M222.03 309.2V319.9M282.25 19.7V9M282.25 309.2V319.9M342.47 19.7V9M342.47 309.2V319.9M402.68 19.7V9M402.68 309.2V319.9M462.9 19.7V9M462.9 309.2V319.9M131.71 19V14M131.71 309.9V314.9M191.92 19V14M191.92 309.9V314.9M252.14 19V14M252.14 309.9V314.9M312.36 19V14M312.36 309.9V314.9M372.57 19V14M372.57 309.9V314.9M432.79 19V14M432.79 309.9V314.9M102.3 19H91.6M462.2 19H472.9M102.3 77.18H91.6M462.2 77.18H472.9M102.3 135.36H91.6M462.2 135.36H472.9M102.3 193.54H91.6M462.2 193.54H472.9M102.3 251.72H91.6M462.2 251.72H472.9M102.3 309.9H91.6M462.2 309.9H472.9M101.6 48.09H96.6M462.9 48.09H467.9M101.6 106.27H96.6M462.9 106.27H467.9M101.6 164.45H96.6M462.9 164.45H467.9M101.6 222.63H96.6M462.9 222.63H467.9M101.6 280.81H96.6M462.9 280.81H467.9" /></g>
<g transform="translate(55.1 27.5) scale(1 1.07)" fill="#000"><path transform="translate(0 0) scale(0.01304 -0.01304)" d="M763 0H583V1147Q518 1085 412 1023Q307 961 223 930V1104Q374 1175 487 1276Q600 1377 647 1472H763Z"/><text x="14.85" y="0" font-family='"Liberation Sans", sans-serif' font-size="26.7">0</text></g>
<g transform="translate(69.95 85.68) scale(1 1.07)" fill="#000"><text x="0" y="0" font-family='"Liberation Sans", sans-serif' font-size="26.7">3</text></g>
<g transform="translate(59.96 143.86) scale(1 1.07)" fill="#000"><rect x="0.85" y="-8.41" width="7.21" height="2.36"/><text x="8.89" y="0" font-family='"Liberation Sans", sans-serif' font-size="26.7">4</text></g>
<g transform="translate(45.11 202.04) scale(1 1.07)" fill="#000"><rect x="0.85" y="-8.41" width="7.21" height="2.36"/><path transform="translate(8.89 0) scale(0.01304 -0.01304)" d="M763 0H583V1147Q518 1085 412 1023Q307 961 223 930V1104Q374 1175 487 1276Q600 1377 647 1472H763Z"/><path transform="translate(23.74 0) scale(0.01304 -0.01304)" d="M763 0H583V1147Q518 1085 412 1023Q307 961 223 930V1104Q374 1175 487 1276Q600 1377 647 1472H763Z"/></g>
<g transform="translate(45.11 260.22) scale(1 1.07)" fill="#000"><rect x="0.85" y="-8.41" width="7.21" height="2.36"/><path transform="translate(8.89 0) scale(0.01304 -0.01304)" d="M763 0H583V1147Q518 1085 412 1023Q307 961 223 930V1104Q374 1175 487 1276Q600 1377 647 1472H763Z"/><text x="23.74" y="0" font-family='"Liberation Sans", sans-serif' font-size="26.7">8</text></g>
<g transform="translate(45.11 318.4) scale(1 1.07)" fill="#000"><rect x="0.85" y="-8.41" width="7.21" height="2.36"/><text x="8.89" y="0" font-family='"Liberation Sans", sans-serif' font-size="26.7">2</text><text x="23.74" y="0" font-family='"Liberation Sans", sans-serif' font-size="26.7">5</text></g>
<g transform="translate(86.75 347.9) scale(1 1.07)" fill="#000"><text x="0" y="0" font-family='"Liberation Sans", sans-serif' font-size="26.7">3</text><text x="14.85" y="0" font-family='"Liberation Sans", sans-serif' font-size="26.7">2</text></g>
<g transform="translate(146.97 347.9) scale(1 1.07)" fill="#000"><text x="0" y="0" font-family='"Liberation Sans", sans-serif' font-size="26.7">3</text><text x="14.85" y="0" font-family='"Liberation Sans", sans-serif' font-size="26.7">5</text></g>
<g transform="translate(207.18 347.9) scale(1 1.07)" fill="#000"><text x="0" y="0" font-family='"Liberation Sans", sans-serif' font-size="26.7">3</text><text x="14.85" y="0" font-family='"Liberation Sans", sans-serif' font-size="26.7">8</text></g>
<g transform="translate(267.4 347.9) scale(1 1.07)" fill="#000"><text x="0" y="0" font-family='"Liberation Sans", sans-serif' font-size="26.7">4</text><path transform="translate(14.85 0) scale(0.01304 -0.01304)" d="M763 0H583V1147Q518 1085 412 1023Q307 961 223 930V1104Q374 1175 487 1276Q600 1377 647 1472H763Z"/></g>
<g transform="translate(327.62 347.9) scale(1 1.07)" fill="#000"><text x="0" y="0" font-family='"Liberation Sans", sans-serif' font-size="26.7">4</text><text x="14.85" y="0" font-family='"Liberation Sans", sans-serif' font-size="26.7">4</text></g>
<g transform="translate(387.83 347.9) scale(1 1.07)" fill="#000"><text x="0" y="0" font-family='"Liberation Sans", sans-serif' font-size="26.7">4</text><text x="14.85" y="0" font-family='"Liberation Sans", sans-serif' font-size="26.7">7</text></g>
<g transform="translate(448.05 347.9) scale(1 1.07)" fill="#000"><text x="0" y="0" font-family='"Liberation Sans", sans-serif' font-size="26.7">5</text><text x="14.85" y="0" font-family='"Liberation Sans", sans-serif' font-size="26.7">0</text></g>
<clipPath id="cb"><rect x="617.6" y="19" width="362.2" height="290.9"/></clipPath>
<g clip-path="url(#cb)">
<path d="M617.6 85.6 L618.1 84.75 L618.6 83.92 L619.1 83.12 L619.6 82.35 L620.1 81.61 L620.6 80.9 L621.1 80.24 L621.6 79.61 L622.1 79.02 L622.6 78.47 L623.1 77.93 L623.6 77.4 L624.1 76.89 L624.6 76.41 L625.1 75.96 L625.6 75.54 L626.1 75.17 L626.6 74.86 L627.1 74.6 L627.6 74.38 L628.1 74.16 L628.6 73.94 L629.1 73.74 L629.6 73.55 L630.1 73.37 L630.6 73.22 L631.1 73.08 L631.6 72.97 L632.1 72.88 L632.6 72.82 L633.1 72.8 L633.6 72.81 L634.1 72.87 L634.6 72.96 L635.1 73.09 L635.6 73.25 L636.1 73.45 L636.6 73.67 L637.1 73.91 L637.6 74.18 L638.1 74.46 L638.6 74.76 L639.1 75.07 L639.6 75.42 L640.1 75.88 L640.6 76.45 L641.1 77.13 L641.6 77.89 L642.1 78.72 L642.6 79.61 L643.1 80.54 L643.6 81.5 L644.1 82.55 L644.6 83.73 L645.1 85.04 L645.6 86.49 L646.1 88.07 L646.6 89.8 L647.1 91.79 L647.6 94.11 L648.1 96.7 L648.6 99.52 L649.1 102.51 L649.6 105.74 L650.1 109.35 L650.6 113.42 L651.1 118.26 L651.6 124.21 L652.1 130.14 L652.6 135.89 L653.1 141.59 L653.6 147.13 L654.1 152.38 L654.6 157.43 L655.1 162.39 L655.6 167.41 L656.1 172.51 L656.6 177.61 L657.1 182.63 L657.6 187.55 L658.1 192.46 L658.6 197.2 L659.1 201.6 L659.6 205.9 L660.1 210.07 L660.6 213.52 L661.1 215.81 L661.6 217.69 L662.1 218.96 L662.6 219.15 L663.1 218.61 L663.6 217.63 L664.1 216.38 L664.6 215 L665.1 213.21 L665.6 210.77 L666.1 207.96 L666.6 205.04 L667.1 202.26 L667.6 199.49 L668.1 196.63 L668.6 193.73 L669.1 190.83 L669.6 187.99 L670.1 185.26 L670.6 182.56 L671.1 179.86 L671.6 177.21 L672.1 174.65 L672.6 172.24 L673.1 170 L673.6 167.93 L674.1 165.99 L674.6 164.14 L675.1 162.38 L675.6 160.69 L676.1 159.05 L676.6 157.49 L677.1 156 L677.6 154.56 L678.1 153.14 L678.6 151.71 L679.1 150.29 L679.6 148.87 L680.1 147.47 L680.6 146.09 L681.1 144.75 L681.6 143.45 L682.1 142.21 L682.6 140.99 L683.1 139.79 L683.6 138.62 L684.1 137.49 L684.6 136.4 L685.1 135.36 L685.6 134.39 L686.1 133.47 L686.6 132.58 L687.1 131.72 L687.6 130.9 L688.1 130.11 L688.6 129.35 L689.1 128.62 L689.6 127.93 L690.1 127.27 L690.6 126.64 L691.1 126.02 L691.6 125.43 L692.1 124.86 L692.6 124.31 L693.1 123.77 L693.6 123.25 L694.1 122.75 L694.6 122.26 L695.1 121.78 L695.6 121.31 L696.1 120.85 L696.6 120.39 L697.1 119.95 L697.6 119.51 L698.1 119.08 L698.6 118.66 L699.1 118.26 L699.6 117.86 L700.1 117.47 L700.6 117.09 L701.1 116.73 L701.6 116.37 L702.1 116.03 L702.6 115.7 L703.1 115.38 L703.6 115.07 L704.1 114.77 L704.6 114.48 L705.1 114.2 L705.6 113.92 L706.1 113.64 L706.6 113.38 L707.1 113.11 L707.6 112.86 L708.1 112.6 L708.6 112.35 L709.1 112.1 L709.6 111.85 L710.1 111.61 L710.6 111.36 L711.1 111.12 L711.6 110.88 L712.1 110.64 L712.6 110.41 L713.1 110.18 L713.6 109.96 L714.1 109.74 L714.6 109.53 L715.1 109.32 L715.6 109.12 L716.1 108.92 L716.6 108.74 L717.1 108.56 L717.6 108.38 L718.1 108.2 L718.6 108.03 L719.1 107.87 L719.6 107.7 L720.1 107.54 L720.6 107.39 L721.1 107.23 L721.6 107.08 L722.1 106.94 L722.6 106.79 L723.1 106.65 L723.6 106.52 L724.1 106.38 L724.6 106.25 L725.1 106.13 L725.6 106 L726.1 105.88 L726.6 105.76 L727.1 105.65 L727.6 105.53 L728.1 105.42 L728.6 105.32 L729.1 105.21 L729.6 105.11 L730.1 105 L730.6 104.9 L731.1 104.8 L731.6 104.7 L732.1 104.61 L732.6 104.51 L733.1 104.41 L733.6 104.32 L734.1 104.22 L734.6 104.13 L735.1 104.04 L735.6 103.96 L736.1 103.87 L736.6 103.78 L737.1 103.7 L737.6 103.61 L738.1 103.53 L738.6 103.44 L739.1 103.36 L739.6 103.27 L740.1 103.18 L740.6 103.09 L741.1 103 L741.6 102.9 L742.1 102.81 L742.6 102.71 L743.1 102.61 L743.6 102.51 L744.1 102.41 L744.6 102.32 L745.1 102.22 L745.6 102.13 L746.1 102.04 L746.6 101.95 L747.1 101.87 L747.6 101.79 L748.1 101.71 L748.6 101.64 L749.1 101.57 L749.6 101.5 L750.1 101.44 L750.6 101.37 L751.1 101.3 L751.6 101.24 L752.1 101.17 L752.6 101.11 L753.1 101.05 L753.6 100.99 L754.1 100.93 L754.6 100.87 L755.1 100.81 L755.6 100.75 L756.1 100.7 L756.6 100.64 L757.1 100.58 L757.6 100.53 L758.1 100.48 L758.6 100.43 L759.1 100.37 L759.6 100.32 L760.1 100.28 L760.6 100.23 L761.1 100.18 L761.6 100.13 L762.1 100.09 L762.6 100.04 L763.1 100 L763.6 99.95 L764.1 99.91 L764.6 99.87 L765.1 99.82 L765.6 99.78 L766.1 99.74 L766.6 99.7 L767.1 99.66 L767.6 99.62 L768.1 99.59 L768.6 99.55 L769.1 99.51 L769.6 99.47 L770.1 99.44 L770.6 99.4 L771.1 99.37 L771.6 99.33 L772.1 99.3 L772.6 99.26 L773.1 99.23 L773.6 99.2 L774.1 99.16 L774.6 99.13 L775.1 99.1 L775.6 99.07 L776.1 99.04 L776.6 99.01 L777.1 98.98 L777.6 98.95 L778.1 98.92 L778.6 98.89 L779.1 98.87 L779.6 98.84 L780.1 98.81 L780.6 98.78 L781.1 98.76 L781.6 98.73 L782.1 98.71 L782.6 98.68 L783.1 98.65 L783.6 98.63 L784.1 98.6 L784.6 98.58 L785.1 98.55 L785.6 98.53 L786.1 98.51 L786.6 98.48 L787.1 98.46 L787.6 98.44 L788.1 98.41 L788.6 98.39 L789.1 98.37 L789.6 98.35 L790.1 98.33 L790.6 98.3 L791.1 98.28 L791.6 98.26 L792.1 98.25 L792.6 98.23 L793.1 98.21 L793.6 98.19 L794.1 98.17 L794.6 98.15 L795.1 98.14 L795.6 98.12 L796.1 98.11 L796.6 98.09 L797.1 98.08 L797.6 98.06 L798.1 98.05 L798.6 98.03 L799.1 98.02 L799.6 98 L800.1 97.99 L800.6 97.98 L801.1 97.96 L801.6 97.95 L802.1 97.94 L802.6 97.92 L803.1 97.91 L803.6 97.9 L804.1 97.88 L804.6 97.87 L805.1 97.86 L805.6 97.85 L806.1 97.83 L806.6 97.82 L807.1 97.81 L807.6 97.8 L808.1 97.79 L808.6 97.78 L809.1 97.76 L809.6 97.75 L810.1 97.74 L810.6 97.73 L811.1 97.72 L811.6 97.71 L812.1 97.7 L812.6 97.69 L813.1 97.68 L813.6 97.67 L814.1 97.66 L814.6 97.65 L815.1 97.64 L815.6 97.63 L816.1 97.62 L816.6 97.61 L817.1 97.6 L817.6 97.59 L818.1 97.58 L818.6 97.57 L819.1 97.56 L819.6 97.55 L820.1 97.54 L820.6 97.53 L821.1 97.52 L821.6 97.51 L822.1 97.51 L822.6 97.5 L823.1 97.49 L823.6 97.48 L824.1 97.47 L824.6 97.46 L825.1 97.45 L825.6 97.45 L826.1 97.44 L826.6 97.43 L827.1 97.42 L827.6 97.41 L828.1 97.4 L828.6 97.4 L829.1 97.39 L829.6 97.38 L830.1 97.37 L830.6 97.37 L831.1 97.36 L831.6 97.35 L832.1 97.34 L832.6 97.33 L833.1 97.33 L833.6 97.32 L834.1 97.31 L834.6 97.3 L835.1 97.3 L835.6 97.29 L836.1 97.28 L836.6 97.27 L837.1 97.27 L837.6 97.26 L838.1 97.25 L838.6 97.24 L839.1 97.24 L839.6 97.23 L840.1 97.22 L840.6 97.21 L841.1 97.21 L841.6 97.2 L842.1 97.19 L842.6 97.19 L843.1 97.18 L843.6 97.17 L844.1 97.17 L844.6 97.16 L845.1 97.15 L845.6 97.15 L846.1 97.14 L846.6 97.13 L847.1 97.13 L847.6 97.12 L848.1 97.12 L848.6 97.11 L849.1 97.1 L849.6 97.1 L850.1 97.09 L850.6 97.09 L851.1 97.08 L851.6 97.08 L852.1 97.07 L852.6 97.07 L853.1 97.06 L853.6 97.06 L854.1 97.05 L854.6 97.05 L855.1 97.04 L855.6 97.04 L856.1 97.03 L856.6 97.03 L857.1 97.02 L857.6 97.02 L858.1 97.01 L858.6 97.01 L859.1 97.01 L859.6 97 L860.1 97 L860.6 97 L861.1 96.99 L861.6 96.99 L862.1 96.98 L862.6 96.98 L863.1 96.98 L863.6 96.97 L864.1 96.97 L864.6 96.97 L865.1 96.96 L865.6 96.96 L866.1 96.96 L866.6 96.95 L867.1 96.95 L867.6 96.95 L868.1 96.94 L868.6 96.94 L869.1 96.94 L869.6 96.93 L870.1 96.93 L870.6 96.93 L871.1 96.92 L871.6 96.92 L872.1 96.92 L872.6 96.92 L873.1 96.91 L873.6 96.91 L874.1 96.91 L874.6 96.9 L875.1 96.9 L875.6 96.9 L876.1 96.9 L876.6 96.89 L877.1 96.89 L877.6 96.89 L878.1 96.88 L878.6 96.88 L879.1 96.88 L879.6 96.88 L880.1 96.87 L880.6 96.87 L881.1 96.87 L881.6 96.87 L882.1 96.86 L882.6 96.86 L883.1 96.86 L883.6 96.86 L884.1 96.85 L884.6 96.85 L885.1 96.85 L885.6 96.85 L886.1 96.85 L886.6 96.84 L887.1 96.84 L887.6 96.84 L888.1 96.84 L888.6 96.84 L889.1 96.83 L889.6 96.83 L890.1 96.83 L890.6 96.83 L891.1 96.83 L891.6 96.82 L892.1 96.82 L892.6 96.82 L893.1 96.82 L893.6 96.82 L894.1 96.82 L894.6 96.81 L895.1 96.81 L895.6 96.81 L896.1 96.81 L896.6 96.81 L897.1 96.81 L897.6 96.81 L898.1 96.8 L898.6 96.8 L899.1 96.8 L899.6 96.8 L900.1 96.8 L900.6 96.8 L901.1 96.8 L901.6 96.8 L902.1 96.8 L902.6 96.79 L903.1 96.79 L903.6 96.79 L904.1 96.79 L904.6 96.79 L905.1 96.79 L905.6 96.79 L906.1 96.79 L906.6 96.79 L907.1 96.78 L907.6 96.78 L908.1 96.78 L908.6 96.78 L909.1 96.78 L909.6 96.78 L910.1 96.78 L910.6 96.78 L911.1 96.78 L911.6 96.78 L912.1 96.77 L912.6 96.77 L913.1 96.77 L913.6 96.77 L914.1 96.77 L914.6 96.77 L915.1 96.77 L915.6 96.77 L916.1 96.77 L916.6 96.77 L917.1 96.77 L917.6 96.76 L918.1 96.76 L918.6 96.76 L919.1 96.76 L919.6 96.76 L920.1 96.76 L920.6 96.76 L921.1 96.76 L921.6 96.76 L922.1 96.76 L922.6 96.76 L923.1 96.75 L923.6 96.75 L924.1 96.75 L924.6 96.75 L925.1 96.75 L925.6 96.75 L926.1 96.75 L926.6 96.75 L927.1 96.75 L927.6 96.75 L928.1 96.75 L928.6 96.74 L929.1 96.74 L929.6 96.74 L930.1 96.74 L930.6 96.74 L931.1 96.74 L931.6 96.74 L932.1 96.74 L932.6 96.74 L933.1 96.74 L933.6 96.74 L934.1 96.74 L934.6 96.74 L935.1 96.73 L935.6 96.73 L936.1 96.73 L936.6 96.73 L937.1 96.73 L937.6 96.73 L938.1 96.73 L938.6 96.73 L939.1 96.73 L939.6 96.73 L940.1 96.73 L940.6 96.73 L941.1 96.73 L941.6 96.73 L942.1 96.73 L942.6 96.72 L943.1 96.72 L943.6 96.72 L944.1 96.72 L944.6 96.72 L945.1 96.72 L945.6 96.72 L946.1 96.72 L946.6 96.72 L947.1 96.72 L947.6 96.72 L948.1 96.72 L948.6 96.72 L949.1 96.72 L949.6 96.72 L950.1 96.72 L950.6 96.72 L951.1 96.71 L951.6 96.71 L952.1 96.71 L952.6 96.71 L953.1 96.71 L953.6 96.71 L954.1 96.71 L954.6 96.71 L955.1 96.71 L955.6 96.71 L956.1 96.71 L956.6 96.71 L957.1 96.71 L957.6 96.71 L958.1 96.71 L958.6 96.71 L959.1 96.71 L959.6 96.71 L960.1 96.71 L960.6 96.71 L961.1 96.71 L961.6 96.71 L962.1 96.71 L962.6 96.71 L963.1 96.7 L963.6 96.7 L964.1 96.7 L964.6 96.7 L965.1 96.7 L965.6 96.7 L966.1 96.7 L966.6 96.7 L967.1 96.7 L967.6 96.7 L968.1 96.7 L968.6 96.7 L969.1 96.7 L969.6 96.7 L970.1 96.7 L970.6 96.7 L971.1 96.7 L971.6 96.7 L972.1 96.7 L972.6 96.7 L973.1 96.7 L973.6 96.7 L974.1 96.7 L974.6 96.7 L975.1 96.7 L975.6 96.7 L976.1 96.7 L976.6 96.7 L977.1 96.7 L977.6 96.7 L978.1 96.7 L978.6 96.7 L978.8 96.7" fill="none" stroke="#000" stroke-width="2.95" stroke-linejoin="round" stroke-linecap="round"/>
<path d="M617.6 54.2 L618.1 55.39 L618.6 56.56 L619.1 57.73 L619.6 58.88 L620.1 60 L620.6 61.12 L621.1 62.26 L621.6 63.41 L622.1 64.56 L622.6 65.71 L623.1 66.85 L623.6 67.97 L624.1 69.06 L624.6 70.12 L625.1 71.14 L625.6 72.12 L626.1 73.04 L626.6 73.9 L627.1 74.7 L627.6 75.45 L628.1 76.17 L628.6 76.86 L629.1 77.53 L629.6 78.17 L630.1 78.78 L630.6 79.37 L631.1 79.92 L631.6 80.46 L632.1 80.96 L632.6 81.44 L633.1 81.89 L633.6 82.32 L634.1 82.74 L634.6 83.14 L635.1 83.53 L635.6 83.91 L636.1 84.28 L636.6 84.63 L637.1 84.97 L637.6 85.3 L638.1 85.63 L638.6 85.94 L639.1 86.24 L639.6 86.53 L640.1 86.81 L640.6 87.08 L641.1 87.35 L641.6 87.6 L642.1 87.85 L642.6 88.09 L643.1 88.33 L643.6 88.56 L644.1 88.79 L644.6 89.01 L645.1 89.23 L645.6 89.44 L646.1 89.64 L646.6 89.85 L647.1 90.04 L647.6 90.24 L648.1 90.43 L648.6 90.62 L649.1 90.81 L649.6 90.99 L650.1 91.17 L650.6 91.35 L651.1 91.53 L651.6 91.71 L652.1 91.88 L652.6 92.06 L653.1 92.23 L653.6 92.41 L654.1 92.58 L654.6 92.76 L655.1 92.93 L655.6 93.11 L656.1 93.29 L656.6 93.46 L657.1 93.65 L657.6 93.83 L658.1 94.01 L658.6 94.2 L659.1 94.39 L659.6 94.57 L660.1 94.76 L660.6 94.94 L661.1 95.12 L661.6 95.3 L662.1 95.48 L662.6 95.65 L663.1 95.83 L663.6 96.01 L664.1 96.18 L664.6 96.35 L665.1 96.53 L665.6 96.7 L666.1 96.88 L666.6 97.05 L667.1 97.23 L667.6 97.41 L668.1 97.58 L668.6 97.76 L669.1 97.94 L669.6 98.12 L670.1 98.31 L670.6 98.49 L671.1 98.68 L671.6 98.87 L672.1 99.06 L672.6 99.25 L673.1 99.45 L673.6 99.65 L674.1 99.85 L674.6 100.06 L675.1 100.27 L675.6 100.48 L676.1 100.69 L676.6 100.9 L677.1 101.11 L677.6 101.32 L678.1 101.54 L678.6 101.76 L679.1 101.98 L679.6 102.2 L680.1 102.42 L680.6 102.65 L681.1 102.88 L681.6 103.11 L682.1 103.34 L682.6 103.58 L683.1 103.82 L683.6 104.06 L684.1 104.31 L684.6 104.56 L685.1 104.81 L685.6 105.07 L686.1 105.33 L686.6 105.59 L687.1 105.86 L687.6 106.14 L688.1 106.41 L688.6 106.7 L689.1 106.98 L689.6 107.28 L690.1 107.57 L690.6 107.87 L691.1 108.17 L691.6 108.47 L692.1 108.78 L692.6 109.09 L693.1 109.41 L693.6 109.73 L694.1 110.06 L694.6 110.4 L695.1 110.74 L695.6 111.08 L696.1 111.44 L696.6 111.8 L697.1 112.17 L697.6 112.55 L698.1 112.94 L698.6 113.34 L699.1 113.75 L699.6 114.16 L700.1 114.59 L700.6 115.03 L701.1 115.48 L701.6 115.94 L702.1 116.41 L702.6 116.9 L703.1 117.41 L703.6 117.94 L704.1 118.5 L704.6 119.08 L705.1 119.69 L705.6 120.33 L706.1 120.99 L706.6 121.67 L707.1 122.37 L707.6 123.09 L708.1 123.83 L708.6 124.6 L709.1 125.37 L709.6 126.17 L710.1 126.98 L710.6 127.81 L711.1 128.65 L711.6 129.51 L712.1 130.37 L712.6 131.26 L713.1 132.18 L713.6 133.13 L714.1 134.1 L714.6 135.11 L715.1 136.14 L715.6 137.21 L716.1 138.31 L716.6 139.45 L717.1 140.61 L717.6 141.82 L718.1 143.06 L718.6 144.33 L719.1 145.65 L719.6 147 L720.1 148.43 L720.6 149.96 L721.1 151.58 L721.6 153.28 L722.1 155.04 L722.6 156.86 L723.1 158.71 L723.6 160.59 L724.1 162.48 L724.6 164.37 L725.1 166.24 L725.6 168.05 L726.1 169.82 L726.6 171.61 L727.1 173.48 L727.6 175.47 L728.1 177.63 L728.6 180.03 L729.1 182.8 L729.6 186.48 L730.1 190.47 L730.6 193.92 L731.1 196.81 L731.6 199.43 L732.1 201.9 L732.6 204.33 L733.1 206.81 L733.6 209.48 L734.1 212.42 L734.6 215.68 L735.1 219.19 L735.6 222.85 L736.1 226.57 L736.6 230.25 L737.1 233.8 L737.6 237.26 L738.1 240.7 L738.6 244.12 L739.1 247.53 L739.6 250.95 L740.1 254.4 L740.6 258.02 L741.1 261.76 L741.6 265.41 L742.1 268.79 L742.6 271.7 L743.1 274.26 L743.6 276.69 L744.1 278.93 L744.6 280.94 L745.1 282.66 L745.6 284.06 L746.1 285.36 L746.6 286.6 L747.1 287.66 L747.6 288.43 L748.1 288.79 L748.6 288.65 L749.1 288.08 L749.6 287.2 L750.1 286.08 L750.6 284.83 L751.1 283.53 L751.6 281.9 L752.1 279.84 L752.6 277.48 L753.1 274.93 L753.6 272.3 L754.1 269.5 L754.6 266.39 L755.1 263.06 L755.6 259.61 L756.1 256.11 L756.6 252.65 L757.1 249.28 L757.6 245.89 L758.1 242.47 L758.6 239.03 L759.1 235.58 L759.6 232.14 L760.1 228.71 L760.6 225.24 L761.1 221.72 L761.6 218.21 L762.1 214.76 L762.6 211.4 L763.1 208.2 L763.6 205.07 L764.1 201.96 L764.6 198.93 L765.1 196.04 L765.6 193.36 L766.1 190.95 L766.6 188.9 L767.1 187.17 L767.6 185.5 L768.1 183.62 L768.6 181.29 L769.1 178.52 L769.6 175.59 L770.1 172.76 L770.6 170.3 L771.1 168.26 L771.6 166.42 L772.1 164.68 L772.6 162.95 L773.1 161.12 L773.6 159.14 L774.1 157.12 L774.6 155.19 L775.1 153.5 L775.6 152 L776.1 150.56 L776.6 149.17 L777.1 147.83 L777.6 146.54 L778.1 145.31 L778.6 144.13 L779.1 142.99 L779.6 141.91 L780.1 140.87 L780.6 139.87 L781.1 138.93 L781.6 138.02 L782.1 137.15 L782.6 136.29 L783.1 135.46 L783.6 134.65 L784.1 133.86 L784.6 133.09 L785.1 132.34 L785.6 131.61 L786.1 130.9 L786.6 130.21 L787.1 129.53 L787.6 128.88 L788.1 128.24 L788.6 127.61 L789.1 127.01 L789.6 126.42 L790.1 125.85 L790.6 125.29 L791.1 124.74 L791.6 124.21 L792.1 123.7 L792.6 123.19 L793.1 122.69 L793.6 122.2 L794.1 121.71 L794.6 121.23 L795.1 120.76 L795.6 120.3 L796.1 119.84 L796.6 119.39 L797.1 118.95 L797.6 118.52 L798.1 118.09 L798.6 117.67 L799.1 117.26 L799.6 116.86 L800.1 116.47 L800.6 116.08 L801.1 115.71 L801.6 115.34 L802.1 114.98 L802.6 114.63 L803.1 114.29 L803.6 113.95 L804.1 113.63 L804.6 113.32 L805.1 113.01 L805.6 112.72 L806.1 112.43 L806.6 112.15 L807.1 111.89 L807.6 111.62 L808.1 111.36 L808.6 111.1 L809.1 110.85 L809.6 110.6 L810.1 110.35 L810.6 110.11 L811.1 109.87 L811.6 109.63 L812.1 109.4 L812.6 109.18 L813.1 108.96 L813.6 108.74 L814.1 108.52 L814.6 108.32 L815.1 108.11 L815.6 107.91 L816.1 107.72 L816.6 107.53 L817.1 107.34 L817.6 107.16 L818.1 106.99 L818.6 106.82 L819.1 106.65 L819.6 106.49 L820.1 106.34 L820.6 106.19 L821.1 106.04 L821.6 105.91 L822.1 105.78 L822.6 105.65 L823.1 105.53 L823.6 105.41 L824.1 105.29 L824.6 105.18 L825.1 105.07 L825.6 104.96 L826.1 104.85 L826.6 104.74 L827.1 104.64 L827.6 104.54 L828.1 104.43 L828.6 104.34 L829.1 104.24 L829.6 104.15 L830.1 104.05 L830.6 103.96 L831.1 103.87 L831.6 103.78 L832.1 103.7 L832.6 103.61 L833.1 103.53 L833.6 103.45 L834.1 103.37 L834.6 103.29 L835.1 103.22 L835.6 103.14 L836.1 103.07 L836.6 103 L837.1 102.93 L837.6 102.86 L838.1 102.79 L838.6 102.72 L839.1 102.66 L839.6 102.59 L840.1 102.53 L840.6 102.47 L841.1 102.41 L841.6 102.35 L842.1 102.29 L842.6 102.23 L843.1 102.18 L843.6 102.12 L844.1 102.07 L844.6 102.02 L845.1 101.97 L845.6 101.92 L846.1 101.87 L846.6 101.82 L847.1 101.77 L847.6 101.73 L848.1 101.68 L848.6 101.64 L849.1 101.59 L849.6 101.55 L850.1 101.51 L850.6 101.47 L851.1 101.43 L851.6 101.39 L852.1 101.35 L852.6 101.31 L853.1 101.27 L853.6 101.23 L854.1 101.19 L854.6 101.15 L855.1 101.12 L855.6 101.08 L856.1 101.04 L856.6 101.01 L857.1 100.97 L857.6 100.93 L858.1 100.89 L858.6 100.86 L859.1 100.82 L859.6 100.78 L860.1 100.75 L860.6 100.71 L861.1 100.67 L861.6 100.63 L862.1 100.59 L862.6 100.56 L863.1 100.52 L863.6 100.48 L864.1 100.44 L864.6 100.39 L865.1 100.35 L865.6 100.31 L866.1 100.27 L866.6 100.23 L867.1 100.18 L867.6 100.14 L868.1 100.1 L868.6 100.05 L869.1 100.01 L869.6 99.96 L870.1 99.92 L870.6 99.88 L871.1 99.83 L871.6 99.79 L872.1 99.75 L872.6 99.71 L873.1 99.66 L873.6 99.62 L874.1 99.58 L874.6 99.54 L875.1 99.5 L875.6 99.46 L876.1 99.42 L876.6 99.39 L877.1 99.35 L877.6 99.31 L878.1 99.28 L878.6 99.24 L879.1 99.21 L879.6 99.18 L880.1 99.15 L880.6 99.12 L881.1 99.09 L881.6 99.06 L882.1 99.04 L882.6 99.01 L883.1 98.99 L883.6 98.97 L884.1 98.95 L884.6 98.93 L885.1 98.91 L885.6 98.89 L886.1 98.87 L886.6 98.85 L887.1 98.83 L887.6 98.81 L888.1 98.79 L888.6 98.77 L889.1 98.76 L889.6 98.74 L890.1 98.72 L890.6 98.71 L891.1 98.69 L891.6 98.67 L892.1 98.66 L892.6 98.64 L893.1 98.63 L893.6 98.61 L894.1 98.6 L894.6 98.58 L895.1 98.57 L895.6 98.55 L896.1 98.54 L896.6 98.53 L897.1 98.51 L897.6 98.5 L898.1 98.49 L898.6 98.47 L899.1 98.46 L899.6 98.45 L900.1 98.43 L900.6 98.42 L901.1 98.41 L901.6 98.4 L902.1 98.38 L902.6 98.37 L903.1 98.36 L903.6 98.35 L904.1 98.33 L904.6 98.32 L905.1 98.31 L905.6 98.29 L906.1 98.28 L906.6 98.27 L907.1 98.26 L907.6 98.25 L908.1 98.23 L908.6 98.22 L909.1 98.21 L909.6 98.2 L910.1 98.19 L910.6 98.17 L911.1 98.16 L911.6 98.15 L912.1 98.14 L912.6 98.13 L913.1 98.12 L913.6 98.11 L914.1 98.1 L914.6 98.08 L915.1 98.07 L915.6 98.06 L916.1 98.05 L916.6 98.04 L917.1 98.03 L917.6 98.02 L918.1 98.01 L918.6 98 L919.1 97.99 L919.6 97.98 L920.1 97.97 L920.6 97.96 L921.1 97.95 L921.6 97.94 L922.1 97.93 L922.6 97.92 L923.1 97.91 L923.6 97.9 L924.1 97.89 L924.6 97.88 L925.1 97.87 L925.6 97.86 L926.1 97.85 L926.6 97.84 L927.1 97.83 L927.6 97.82 L928.1 97.81 L928.6 97.8 L929.1 97.79 L929.6 97.78 L930.1 97.77 L930.6 97.77 L931.1 97.76 L931.6 97.75 L932.1 97.74 L932.6 97.73 L933.1 97.72 L933.6 97.71 L934.1 97.7 L934.6 97.69 L935.1 97.68 L935.6 97.67 L936.1 97.66 L936.6 97.65 L937.1 97.64 L937.6 97.63 L938.1 97.62 L938.6 97.61 L939.1 97.6 L939.6 97.59 L940.1 97.58 L940.6 97.57 L941.1 97.56 L941.6 97.55 L942.1 97.54 L942.6 97.54 L943.1 97.53 L943.6 97.52 L944.1 97.51 L944.6 97.5 L945.1 97.49 L945.6 97.49 L946.1 97.48 L946.6 97.47 L947.1 97.46 L947.6 97.46 L948.1 97.45 L948.6 97.44 L949.1 97.43 L949.6 97.43 L950.1 97.42 L950.6 97.42 L951.1 97.41 L951.6 97.4 L952.1 97.4 L952.6 97.39 L953.1 97.39 L953.6 97.38 L954.1 97.38 L954.6 97.37 L955.1 97.37 L955.6 97.36 L956.1 97.36 L956.6 97.35 L957.1 97.35 L957.6 97.34 L958.1 97.34 L958.6 97.33 L959.1 97.33 L959.6 97.32 L960.1 97.32 L960.6 97.31 L961.1 97.31 L961.6 97.3 L962.1 97.3 L962.6 97.3 L963.1 97.29 L963.6 97.29 L964.1 97.28 L964.6 97.28 L965.1 97.27 L965.6 97.27 L966.1 97.27 L966.6 97.26 L967.1 97.26 L967.6 97.26 L968.1 97.25 L968.6 97.25 L969.1 97.24 L969.6 97.24 L970.1 97.24 L970.6 97.24 L971.1 97.23 L971.6 97.23 L972.1 97.23 L972.6 97.22 L973.1 97.22 L973.6 97.22 L974.1 97.22 L974.6 97.21 L975.1 97.21 L975.6 97.21 L976.1 97.21 L976.6 97.21 L977.1 97.2 L977.6 97.2 L978.1 97.2 L978.6 97.2 L978.8 97.2" fill="none" stroke="#ff0000" stroke-width="3.0" stroke-linejoin="round" stroke-linecap="round" stroke-dasharray="5.4 13.4" stroke-dashoffset="-3.9"/>
<path d="M618.5 96.6H978.8" fill="none" stroke="#0000ff" stroke-width="3.2" stroke-linejoin="round" stroke-linecap="round" stroke-dasharray="0.01 14.46"/>
<path d="M617.6 96.6H978.8" fill="none" stroke="#008000" stroke-width="3.1" stroke-linejoin="round" stroke-linecap="round" stroke-dasharray="11.4 9.3 0.01 9.3" stroke-dashoffset="11.9"/>
</g>
<g fill="none" stroke="#1c1c1c" stroke-width="1.5"><path d="M617.6 19H978.8M617.6 309.9H978.8M617.6 19V309.9M978.8 19V309.9" /><path d="M617.6 19.7V9M617.6 309.2V319.9M677.8 19.7V9M677.8 309.2V319.9M738 19.7V9M738 309.2V319.9M798.2 19.7V9M798.2 309.2V319.9M858.4 19.7V9M858.4 309.2V319.9M918.6 19.7V9M918.6 309.2V319.9M978.8 19.7V9M978.8 309.2V319.9M647.7 19V14M647.7 309.9V314.9M707.9 19V14M707.9 309.9V314.9M768.1 19V14M768.1 309.9V314.9M828.3 19V14M828.3 309.9V314.9M888.5 19V14M888.5 309.9V314.9M948.7 19V14M948.7 309.9V314.9M618.3 19H607.6M978.1 19H988.8M618.3 67.48H607.6M978.1 67.48H988.8M618.3 115.97H607.6M978.1 115.97H988.8M618.3 164.45H607.6M978.1 164.45H988.8M618.3 212.93H607.6M978.1 212.93H988.8M618.3 261.42H607.6M978.1 261.42H988.8M618.3 309.9H607.6M978.1 309.9H988.8M617.6 43.24H612.6M978.8 43.24H983.8M617.6 91.72H612.6M978.8 91.72H983.8M617.6 140.21H612.6M978.8 140.21H983.8M617.6 188.69H612.6M978.8 188.69H983.8M617.6 237.17H612.6M978.8 237.17H983.8M617.6 285.66H612.6M978.8 285.66H983.8" /></g>
<g transform="translate(585.15 27.5) scale(1 1.07)" fill="#000"><text x="0" y="0" font-family='"Liberation Sans", sans-serif' font-size="26.7">8</text></g>
<g transform="translate(585.15 75.98) scale(1 1.07)" fill="#000"><text x="0" y="0" font-family='"Liberation Sans", sans-serif' font-size="26.7">3</text></g>
<g transform="translate(575.16 124.47) scale(1 1.07)" fill="#000"><rect x="0.85" y="-8.41" width="7.21" height="2.36"/><text x="8.89" y="0" font-family='"Liberation Sans", sans-serif' font-size="26.7">2</text></g>
<g transform="translate(575.16 172.95) scale(1 1.07)" fill="#000"><rect x="0.85" y="-8.41" width="7.21" height="2.36"/><text x="8.89" y="0" font-family='"Liberation Sans", sans-serif' font-size="26.7">7</text></g>
<g transform="translate(560.31 221.43) scale(1 1.07)" fill="#000"><rect x="0.85" y="-8.41" width="7.21" height="2.36"/><path transform="translate(8.89 0) scale(0.01304 -0.01304)" d="M763 0H583V1147Q518 1085 412 1023Q307 961 223 930V1104Q374 1175 487 1276Q600 1377 647 1472H763Z"/><text x="23.74" y="0" font-family='"Liberation Sans", sans-serif' font-size="26.7">2</text></g>
<g transform="translate(560.31 269.92) scale(1 1.07)" fill="#000"><rect x="0.85" y="-8.41" width="7.21" height="2.36"/><path transform="translate(8.89 0) scale(0.01304 -0.01304)" d="M763 0H583V1147Q518 1085 412 1023Q307 961 223 930V1104Q374 1175 487 1276Q600 1377 647 1472H763Z"/><text x="23.74" y="0" font-family='"Liberation Sans", sans-serif' font-size="26.7">7</text></g>
<g transform="translate(560.31 318.4) scale(1 1.07)" fill="#000"><rect x="0.85" y="-8.41" width="7.21" height="2.36"/><text x="8.89" y="0" font-family='"Liberation Sans", sans-serif' font-size="26.7">2</text><text x="23.74" y="0" font-family='"Liberation Sans", sans-serif' font-size="26.7">2</text></g>
<g transform="translate(602.75 347.9) scale(1 1.07)" fill="#000"><text x="0" y="0" font-family='"Liberation Sans", sans-serif' font-size="26.7">3</text><text x="14.85" y="0" font-family='"Liberation Sans", sans-serif' font-size="26.7">2</text></g>
<g transform="translate(662.95 347.9) scale(1 1.07)" fill="#000"><text x="0" y="0" font-family='"Liberation Sans", sans-serif' font-size="26.7">3</text><text x="14.85" y="0" font-family='"Liberation Sans", sans-serif' font-size="26.7">5</text></g>
<g transform="translate(723.15 347.9) scale(1 1.07)" fill="#000"><text x="0" y="0" font-family='"Liberation Sans", sans-serif' font-size="26.7">3</text><text x="14.85" y="0" font-family='"Liberation Sans", sans-serif' font-size="26.7">8</text></g>
<g transform="translate(783.35 347.9) scale(1 1.07)" fill="#000"><text x="0" y="0" font-family='"Liberation Sans", sans-serif' font-size="26.7">4</text><path transform="translate(14.85 0) scale(0.01304 -0.01304)" d="M763 0H583V1147Q518 1085 412 1023Q307 961 223 930V1104Q374 1175 487 1276Q600 1377 647 1472H763Z"/></g>
<g transform="translate(843.55 347.9) scale(1 1.07)" fill="#000"><text x="0" y="0" font-family='"Liberation Sans", sans-serif' font-size="26.7">4</text><text x="14.85" y="0" font-family='"Liberation Sans", sans-serif' font-size="26.7">4</text></g>
<g transform="translate(903.75 347.9) scale(1 1.07)" fill="#000"><text x="0" y="0" font-family='"Liberation Sans", sans-serif' font-size="26.7">4</text><text x="14.85" y="0" font-family='"Liberation Sans", sans-serif' font-size="26.7">7</text></g>
<g transform="translate(963.95 347.9) scale(1 1.07)" fill="#000"><text x="0" y="0" font-family='"Liberation Sans", sans-serif' font-size="26.7">5</text><text x="14.85" y="0" font-family='"Liberation Sans", sans-serif' font-size="26.7">0</text></g>
<clipPath id="cc"><rect x="101.6" y="431.7" width="362.3" height="291.1"/></clipPath>
<g clip-path="url(#cc)">
<path d="M101.6 506.8 L102.1 505.44 L102.6 504.11 L103.1 502.81 L103.6 501.56 L104.1 500.35 L104.6 499.18 L105.1 498.05 L105.6 496.95 L106.1 495.86 L106.6 494.81 L107.1 493.8 L107.6 492.84 L108.1 491.96 L108.6 491.14 L109.1 490.36 L109.6 489.6 L110.1 488.86 L110.6 488.14 L111.1 487.47 L111.6 486.85 L112.1 486.28 L112.6 485.78 L113.1 485.35 L113.6 484.98 L114.1 484.63 L114.6 484.28 L115.1 483.94 L115.6 483.62 L116.1 483.33 L116.6 483.07 L117.1 482.85 L117.6 482.68 L118.1 482.56 L118.6 482.51 L119.1 482.51 L119.6 482.59 L120.1 482.74 L120.6 482.95 L121.1 483.21 L121.6 483.53 L122.1 483.88 L122.6 484.26 L123.1 484.68 L123.6 485.11 L124.1 485.62 L124.6 486.33 L125.1 487.21 L125.6 488.24 L126.1 489.39 L126.6 490.64 L127.1 491.96 L127.6 493.36 L128.1 495 L128.6 496.86 L129.1 498.93 L129.6 501.18 L130.1 503.59 L130.6 506.21 L131.1 509.22 L131.6 512.57 L132.1 516.18 L132.6 519.97 L133.1 523.95 L133.6 528.39 L134.1 533.65 L134.6 540.51 L135.1 548.06 L135.6 556.19 L136.1 564.3 L136.6 571.86 L137.1 579.24 L137.6 586.9 L138.1 595.05 L138.6 603.61 L139.1 612.8 L139.6 622.9 L140.1 634 L140.6 647.43 L141.1 657.67 L141.6 664.79 L142.1 670.69 L142.6 676.21 L143.1 681.97 L143.6 687.58 L144.1 692.93 L144.6 698 L145.1 703.16 L145.6 707.66 L146.1 710.41 L146.6 712.46 L147.1 713.07 L147.6 712.25 L148.1 710.69 L148.6 708.9 L149.1 706.91 L149.6 704.47 L150.1 701.67 L150.6 698.63 L151.1 695.22 L151.6 691.19 L152.1 686.84 L152.6 682.51 L153.1 678.5 L153.6 674.86 L154.1 671.36 L154.6 667.97 L155.1 664.63 L155.6 661.29 L156.1 657.9 L156.6 654.45 L157.1 650.97 L157.6 647.52 L158.1 644.13 L158.6 640.85 L159.1 637.61 L159.6 634.4 L160.1 631.25 L160.6 628.2 L161.1 625.27 L161.6 622.5 L162.1 619.86 L162.6 617.3 L163.1 614.82 L163.6 612.43 L164.1 610.14 L164.6 607.96 L165.1 605.9 L165.6 603.94 L166.1 602.07 L166.6 600.27 L167.1 598.53 L167.6 596.86 L168.1 595.25 L168.6 593.69 L169.1 592.18 L169.6 590.71 L170.1 589.28 L170.6 587.88 L171.1 586.52 L171.6 585.2 L172.1 583.92 L172.6 582.68 L173.1 581.48 L173.6 580.33 L174.1 579.23 L174.6 578.17 L175.1 577.15 L175.6 576.15 L176.1 575.18 L176.6 574.23 L177.1 573.31 L177.6 572.42 L178.1 571.56 L178.6 570.72 L179.1 569.9 L179.6 569.11 L180.1 568.35 L180.6 567.61 L181.1 566.88 L181.6 566.17 L182.1 565.48 L182.6 564.8 L183.1 564.13 L183.6 563.49 L184.1 562.85 L184.6 562.24 L185.1 561.64 L185.6 561.06 L186.1 560.49 L186.6 559.94 L187.1 559.41 L187.6 558.9 L188.1 558.4 L188.6 557.92 L189.1 557.46 L189.6 557 L190.1 556.56 L190.6 556.13 L191.1 555.71 L191.6 555.3 L192.1 554.9 L192.6 554.51 L193.1 554.12 L193.6 553.74 L194.1 553.36 L194.6 552.99 L195.1 552.63 L195.6 552.26 L196.1 551.91 L196.6 551.55 L197.1 551.2 L197.6 550.86 L198.1 550.53 L198.6 550.19 L199.1 549.87 L199.6 549.55 L200.1 549.24 L200.6 548.93 L201.1 548.63 L201.6 548.34 L202.1 548.06 L202.6 547.78 L203.1 547.5 L203.6 547.23 L204.1 546.95 L204.6 546.68 L205.1 546.42 L205.6 546.16 L206.1 545.9 L206.6 545.64 L207.1 545.39 L207.6 545.14 L208.1 544.89 L208.6 544.65 L209.1 544.41 L209.6 544.18 L210.1 543.95 L210.6 543.72 L211.1 543.5 L211.6 543.28 L212.1 543.07 L212.6 542.87 L213.1 542.66 L213.6 542.47 L214.1 542.28 L214.6 542.09 L215.1 541.9 L215.6 541.72 L216.1 541.54 L216.6 541.37 L217.1 541.19 L217.6 541.02 L218.1 540.85 L218.6 540.69 L219.1 540.52 L219.6 540.36 L220.1 540.21 L220.6 540.05 L221.1 539.9 L221.6 539.75 L222.1 539.61 L222.6 539.47 L223.1 539.33 L223.6 539.19 L224.1 539.06 L224.6 538.93 L225.1 538.81 L225.6 538.69 L226.1 538.57 L226.6 538.45 L227.1 538.34 L227.6 538.23 L228.1 538.13 L228.6 538.02 L229.1 537.92 L229.6 537.82 L230.1 537.73 L230.6 537.63 L231.1 537.54 L231.6 537.45 L232.1 537.36 L232.6 537.27 L233.1 537.18 L233.6 537.09 L234.1 537.01 L234.6 536.93 L235.1 536.84 L235.6 536.76 L236.1 536.68 L236.6 536.6 L237.1 536.52 L237.6 536.44 L238.1 536.36 L238.6 536.28 L239.1 536.21 L239.6 536.13 L240.1 536.05 L240.6 535.97 L241.1 535.9 L241.6 535.82 L242.1 535.75 L242.6 535.67 L243.1 535.6 L243.6 535.53 L244.1 535.46 L244.6 535.39 L245.1 535.32 L245.6 535.25 L246.1 535.18 L246.6 535.11 L247.1 535.05 L247.6 534.98 L248.1 534.92 L248.6 534.85 L249.1 534.79 L249.6 534.73 L250.1 534.67 L250.6 534.61 L251.1 534.55 L251.6 534.5 L252.1 534.44 L252.6 534.38 L253.1 534.33 L253.6 534.27 L254.1 534.22 L254.6 534.17 L255.1 534.11 L255.6 534.06 L256.1 534.01 L256.6 533.96 L257.1 533.91 L257.6 533.86 L258.1 533.81 L258.6 533.76 L259.1 533.72 L259.6 533.67 L260.1 533.63 L260.6 533.58 L261.1 533.54 L261.6 533.5 L262.1 533.46 L262.6 533.42 L263.1 533.38 L263.6 533.34 L264.1 533.3 L264.6 533.26 L265.1 533.23 L265.6 533.19 L266.1 533.15 L266.6 533.12 L267.1 533.08 L267.6 533.05 L268.1 533.02 L268.6 532.99 L269.1 532.95 L269.6 532.92 L270.1 532.89 L270.6 532.86 L271.1 532.83 L271.6 532.8 L272.1 532.77 L272.6 532.74 L273.1 532.71 L273.6 532.68 L274.1 532.65 L274.6 532.62 L275.1 532.59 L275.6 532.57 L276.1 532.54 L276.6 532.51 L277.1 532.48 L277.6 532.46 L278.1 532.43 L278.6 532.4 L279.1 532.38 L279.6 532.35 L280.1 532.33 L280.6 532.3 L281.1 532.28 L281.6 532.25 L282.1 532.23 L282.6 532.2 L283.1 532.18 L283.6 532.15 L284.1 532.13 L284.6 532.11 L285.1 532.09 L285.6 532.06 L286.1 532.04 L286.6 532.02 L287.1 532 L287.6 531.98 L288.1 531.96 L288.6 531.94 L289.1 531.92 L289.6 531.9 L290.1 531.88 L290.6 531.86 L291.1 531.84 L291.6 531.82 L292.1 531.8 L292.6 531.78 L293.1 531.77 L293.6 531.75 L294.1 531.73 L294.6 531.71 L295.1 531.69 L295.6 531.68 L296.1 531.66 L296.6 531.64 L297.1 531.62 L297.6 531.61 L298.1 531.59 L298.6 531.57 L299.1 531.55 L299.6 531.54 L300.1 531.52 L300.6 531.5 L301.1 531.49 L301.6 531.47 L302.1 531.46 L302.6 531.44 L303.1 531.42 L303.6 531.41 L304.1 531.39 L304.6 531.37 L305.1 531.36 L305.6 531.34 L306.1 531.33 L306.6 531.31 L307.1 531.29 L307.6 531.28 L308.1 531.26 L308.6 531.25 L309.1 531.23 L309.6 531.21 L310.1 531.2 L310.6 531.18 L311.1 531.16 L311.6 531.15 L312.1 531.13 L312.6 531.12 L313.1 531.1 L313.6 531.08 L314.1 531.07 L314.6 531.05 L315.1 531.03 L315.6 531.02 L316.1 531 L316.6 530.99 L317.1 530.97 L317.6 530.95 L318.1 530.94 L318.6 530.92 L319.1 530.91 L319.6 530.89 L320.1 530.87 L320.6 530.86 L321.1 530.84 L321.6 530.83 L322.1 530.81 L322.6 530.79 L323.1 530.78 L323.6 530.76 L324.1 530.75 L324.6 530.73 L325.1 530.72 L325.6 530.7 L326.1 530.69 L326.6 530.67 L327.1 530.66 L327.6 530.64 L328.1 530.63 L328.6 530.61 L329.1 530.6 L329.6 530.58 L330.1 530.57 L330.6 530.55 L331.1 530.54 L331.6 530.52 L332.1 530.51 L332.6 530.49 L333.1 530.48 L333.6 530.47 L334.1 530.45 L334.6 530.44 L335.1 530.43 L335.6 530.41 L336.1 530.4 L336.6 530.39 L337.1 530.37 L337.6 530.36 L338.1 530.35 L338.6 530.33 L339.1 530.32 L339.6 530.31 L340.1 530.3 L340.6 530.29 L341.1 530.27 L341.6 530.26 L342.1 530.25 L342.6 530.24 L343.1 530.22 L343.6 530.21 L344.1 530.2 L344.6 530.19 L345.1 530.18 L345.6 530.16 L346.1 530.15 L346.6 530.14 L347.1 530.13 L347.6 530.12 L348.1 530.1 L348.6 530.09 L349.1 530.08 L349.6 530.07 L350.1 530.05 L350.6 530.04 L351.1 530.03 L351.6 530.02 L352.1 530.01 L352.6 530 L353.1 529.98 L353.6 529.97 L354.1 529.96 L354.6 529.95 L355.1 529.94 L355.6 529.93 L356.1 529.91 L356.6 529.9 L357.1 529.89 L357.6 529.88 L358.1 529.87 L358.6 529.86 L359.1 529.85 L359.6 529.84 L360.1 529.83 L360.6 529.82 L361.1 529.8 L361.6 529.79 L362.1 529.78 L362.6 529.77 L363.1 529.76 L363.6 529.75 L364.1 529.74 L364.6 529.73 L365.1 529.72 L365.6 529.71 L366.1 529.7 L366.6 529.7 L367.1 529.69 L367.6 529.68 L368.1 529.67 L368.6 529.66 L369.1 529.65 L369.6 529.64 L370.1 529.63 L370.6 529.63 L371.1 529.62 L371.6 529.61 L372.1 529.6 L372.6 529.59 L373.1 529.59 L373.6 529.58 L374.1 529.57 L374.6 529.56 L375.1 529.56 L375.6 529.55 L376.1 529.54 L376.6 529.54 L377.1 529.53 L377.6 529.53 L378.1 529.52 L378.6 529.51 L379.1 529.51 L379.6 529.5 L380.1 529.5 L380.6 529.49 L381.1 529.49 L381.6 529.48 L382.1 529.48 L382.6 529.47 L383.1 529.47 L383.6 529.46 L384.1 529.46 L384.6 529.45 L385.1 529.45 L385.6 529.45 L386.1 529.44 L386.6 529.44 L387.1 529.43 L387.6 529.43 L388.1 529.42 L388.6 529.42 L389.1 529.41 L389.6 529.41 L390.1 529.4 L390.6 529.4 L391.1 529.39 L391.6 529.39 L392.1 529.38 L392.6 529.38 L393.1 529.37 L393.6 529.37 L394.1 529.37 L394.6 529.36 L395.1 529.36 L395.6 529.35 L396.1 529.35 L396.6 529.34 L397.1 529.34 L397.6 529.33 L398.1 529.33 L398.6 529.33 L399.1 529.32 L399.6 529.32 L400.1 529.31 L400.6 529.31 L401.1 529.3 L401.6 529.3 L402.1 529.29 L402.6 529.29 L403.1 529.29 L403.6 529.28 L404.1 529.28 L404.6 529.27 L405.1 529.27 L405.6 529.27 L406.1 529.26 L406.6 529.26 L407.1 529.25 L407.6 529.25 L408.1 529.25 L408.6 529.24 L409.1 529.24 L409.6 529.23 L410.1 529.23 L410.6 529.23 L411.1 529.22 L411.6 529.22 L412.1 529.21 L412.6 529.21 L413.1 529.21 L413.6 529.2 L414.1 529.2 L414.6 529.2 L415.1 529.19 L415.6 529.19 L416.1 529.18 L416.6 529.18 L417.1 529.18 L417.6 529.17 L418.1 529.17 L418.6 529.17 L419.1 529.16 L419.6 529.16 L420.1 529.16 L420.6 529.15 L421.1 529.15 L421.6 529.15 L422.1 529.14 L422.6 529.14 L423.1 529.14 L423.6 529.13 L424.1 529.13 L424.6 529.13 L425.1 529.12 L425.6 529.12 L426.1 529.12 L426.6 529.12 L427.1 529.11 L427.6 529.11 L428.1 529.11 L428.6 529.1 L429.1 529.1 L429.6 529.1 L430.1 529.1 L430.6 529.09 L431.1 529.09 L431.6 529.09 L432.1 529.08 L432.6 529.08 L433.1 529.08 L433.6 529.08 L434.1 529.07 L434.6 529.07 L435.1 529.07 L435.6 529.07 L436.1 529.07 L436.6 529.06 L437.1 529.06 L437.6 529.06 L438.1 529.06 L438.6 529.05 L439.1 529.05 L439.6 529.05 L440.1 529.05 L440.6 529.05 L441.1 529.04 L441.6 529.04 L442.1 529.04 L442.6 529.04 L443.1 529.04 L443.6 529.03 L444.1 529.03 L444.6 529.03 L445.1 529.03 L445.6 529.03 L446.1 529.03 L446.6 529.02 L447.1 529.02 L447.6 529.02 L448.1 529.02 L448.6 529.02 L449.1 529.02 L449.6 529.02 L450.1 529.02 L450.6 529.01 L451.1 529.01 L451.6 529.01 L452.1 529.01 L452.6 529.01 L453.1 529.01 L453.6 529.01 L454.1 529.01 L454.6 529.01 L455.1 529.01 L455.6 529.01 L456.1 529 L456.6 529 L457.1 529 L457.6 529 L458.1 529 L458.6 529 L459.1 529 L459.6 529 L460.1 529 L460.6 529 L461.1 529 L461.6 529 L462.1 529 L462.6 529 L462.9 529" fill="none" stroke="#000" stroke-width="2.95" stroke-linejoin="round" stroke-linecap="round"/>
<path d="M101.6 462.9 L102.1 464.98 L102.6 467.1 L103.1 469.27 L103.6 471.51 L104.1 473.91 L104.6 476.43 L105.1 479 L105.6 481.56 L106.1 484.04 L106.6 486.38 L107.1 488.5 L107.6 490.35 L108.1 492.06 L108.6 493.72 L109.1 495.33 L109.6 496.87 L110.1 498.35 L110.6 499.75 L111.1 501.08 L111.6 502.33 L112.1 503.49 L112.6 504.56 L113.1 505.53 L113.6 506.4 L114.1 507.21 L114.6 507.99 L115.1 508.75 L115.6 509.48 L116.1 510.2 L116.6 510.89 L117.1 511.55 L117.6 512.2 L118.1 512.82 L118.6 513.42 L119.1 514.01 L119.6 514.57 L120.1 515.11 L120.6 515.63 L121.1 516.13 L121.6 516.61 L122.1 517.07 L122.6 517.51 L123.1 517.93 L123.6 518.34 L124.1 518.73 L124.6 519.1 L125.1 519.45 L125.6 519.78 L126.1 520.1 L126.6 520.4 L127.1 520.7 L127.6 520.98 L128.1 521.26 L128.6 521.52 L129.1 521.78 L129.6 522.03 L130.1 522.27 L130.6 522.5 L131.1 522.73 L131.6 522.95 L132.1 523.16 L132.6 523.37 L133.1 523.57 L133.6 523.76 L134.1 523.96 L134.6 524.14 L135.1 524.33 L135.6 524.51 L136.1 524.68 L136.6 524.86 L137.1 525.03 L137.6 525.2 L138.1 525.37 L138.6 525.53 L139.1 525.7 L139.6 525.87 L140.1 526.03 L140.6 526.19 L141.1 526.35 L141.6 526.51 L142.1 526.67 L142.6 526.82 L143.1 526.98 L143.6 527.13 L144.1 527.28 L144.6 527.42 L145.1 527.57 L145.6 527.71 L146.1 527.86 L146.6 528 L147.1 528.14 L147.6 528.27 L148.1 528.41 L148.6 528.54 L149.1 528.67 L149.6 528.81 L150.1 528.93 L150.6 529.06 L151.1 529.19 L151.6 529.31 L152.1 529.44 L152.6 529.56 L153.1 529.68 L153.6 529.8 L154.1 529.92 L154.6 530.03 L155.1 530.15 L155.6 530.26 L156.1 530.37 L156.6 530.48 L157.1 530.59 L157.6 530.7 L158.1 530.81 L158.6 530.91 L159.1 531.02 L159.6 531.12 L160.1 531.22 L160.6 531.32 L161.1 531.41 L161.6 531.5 L162.1 531.59 L162.6 531.67 L163.1 531.75 L163.6 531.83 L164.1 531.91 L164.6 531.98 L165.1 532.06 L165.6 532.13 L166.1 532.2 L166.6 532.27 L167.1 532.34 L167.6 532.42 L168.1 532.49 L168.6 532.56 L169.1 532.63 L169.6 532.71 L170.1 532.78 L170.6 532.86 L171.1 532.94 L171.6 533.02 L172.1 533.11 L172.6 533.19 L173.1 533.28 L173.6 533.38 L174.1 533.47 L174.6 533.57 L175.1 533.68 L175.6 533.79 L176.1 533.9 L176.6 534.02 L177.1 534.15 L177.6 534.28 L178.1 534.42 L178.6 534.56 L179.1 534.71 L179.6 534.87 L180.1 535.03 L180.6 535.2 L181.1 535.37 L181.6 535.55 L182.1 535.74 L182.6 535.93 L183.1 536.12 L183.6 536.32 L184.1 536.52 L184.6 536.73 L185.1 536.95 L185.6 537.17 L186.1 537.39 L186.6 537.62 L187.1 537.85 L187.6 538.08 L188.1 538.32 L188.6 538.57 L189.1 538.82 L189.6 539.07 L190.1 539.32 L190.6 539.58 L191.1 539.85 L191.6 540.11 L192.1 540.38 L192.6 540.65 L193.1 540.93 L193.6 541.22 L194.1 541.52 L194.6 541.82 L195.1 542.13 L195.6 542.45 L196.1 542.78 L196.6 543.12 L197.1 543.47 L197.6 543.83 L198.1 544.19 L198.6 544.57 L199.1 544.95 L199.6 545.35 L200.1 545.75 L200.6 546.17 L201.1 546.59 L201.6 547.03 L202.1 547.47 L202.6 547.93 L203.1 548.39 L203.6 548.87 L204.1 549.36 L204.6 549.86 L205.1 550.37 L205.6 550.89 L206.1 551.43 L206.6 551.99 L207.1 552.6 L207.6 553.23 L208.1 553.89 L208.6 554.58 L209.1 555.3 L209.6 556.05 L210.1 556.81 L210.6 557.6 L211.1 558.41 L211.6 559.24 L212.1 560.09 L212.6 560.96 L213.1 561.84 L213.6 562.73 L214.1 563.63 L214.6 564.56 L215.1 565.55 L215.6 566.59 L216.1 567.67 L216.6 568.8 L217.1 569.95 L217.6 571.13 L218.1 572.33 L218.6 573.53 L219.1 574.72 L219.6 575.91 L220.1 577.08 L220.6 578.23 L221.1 579.35 L221.6 580.51 L222.1 581.72 L222.6 582.95 L223.1 584.18 L223.6 585.38 L224.1 586.52 L224.6 587.59 L225.1 588.57 L225.6 589.42 L226.1 590.13 L226.6 590.8 L227.1 591.47 L227.6 592.12 L228.1 592.74 L228.6 593.32 L229.1 593.84 L229.6 594.28 L230.1 594.62 L230.6 594.87 L231.1 594.99 L231.6 594.97 L232.1 594.77 L232.6 594.42 L233.1 593.95 L233.6 593.37 L234.1 592.72 L234.6 592.02 L235.1 591.29 L235.6 590.56 L236.1 589.86 L236.6 589.11 L237.1 588.27 L237.6 587.36 L238.1 586.39 L238.6 585.37 L239.1 584.32 L239.6 583.24 L240.1 582.12 L240.6 580.91 L241.1 579.61 L241.6 578.26 L242.1 576.88 L242.6 575.51 L243.1 574.16 L243.6 572.87 L244.1 571.67 L244.6 570.49 L245.1 569.32 L245.6 568.15 L246.1 566.99 L246.6 565.84 L247.1 564.71 L247.6 563.6 L248.1 562.51 L248.6 561.45 L249.1 560.43 L249.6 559.44 L250.1 558.48 L250.6 557.57 L251.1 556.71 L251.6 555.9 L252.1 555.12 L252.6 554.35 L253.1 553.6 L253.6 552.86 L254.1 552.13 L254.6 551.42 L255.1 550.73 L255.6 550.06 L256.1 549.41 L256.6 548.78 L257.1 548.17 L257.6 547.58 L258.1 547.02 L258.6 546.48 L259.1 545.97 L259.6 545.49 L260.1 545.04 L260.6 544.62 L261.1 544.22 L261.6 543.85 L262.1 543.48 L262.6 543.12 L263.1 542.76 L263.6 542.42 L264.1 542.08 L264.6 541.75 L265.1 541.42 L265.6 541.1 L266.1 540.79 L266.6 540.49 L267.1 540.2 L267.6 539.91 L268.1 539.63 L268.6 539.36 L269.1 539.09 L269.6 538.83 L270.1 538.58 L270.6 538.33 L271.1 538.1 L271.6 537.87 L272.1 537.64 L272.6 537.43 L273.1 537.22 L273.6 537.01 L274.1 536.82 L274.6 536.63 L275.1 536.45 L275.6 536.27 L276.1 536.11 L276.6 535.94 L277.1 535.79 L277.6 535.64 L278.1 535.5 L278.6 535.35 L279.1 535.21 L279.6 535.08 L280.1 534.94 L280.6 534.81 L281.1 534.68 L281.6 534.55 L282.1 534.43 L282.6 534.31 L283.1 534.19 L283.6 534.07 L284.1 533.95 L284.6 533.84 L285.1 533.73 L285.6 533.62 L286.1 533.52 L286.6 533.41 L287.1 533.31 L287.6 533.21 L288.1 533.12 L288.6 533.02 L289.1 532.93 L289.6 532.84 L290.1 532.75 L290.6 532.67 L291.1 532.59 L291.6 532.51 L292.1 532.43 L292.6 532.35 L293.1 532.28 L293.6 532.21 L294.1 532.14 L294.6 532.07 L295.1 532.01 L295.6 531.94 L296.1 531.88 L296.6 531.82 L297.1 531.77 L297.6 531.71 L298.1 531.65 L298.6 531.6 L299.1 531.55 L299.6 531.49 L300.1 531.44 L300.6 531.39 L301.1 531.34 L301.6 531.29 L302.1 531.24 L302.6 531.19 L303.1 531.14 L303.6 531.09 L304.1 531.05 L304.6 531 L305.1 530.96 L305.6 530.91 L306.1 530.87 L306.6 530.82 L307.1 530.78 L307.6 530.74 L308.1 530.7 L308.6 530.66 L309.1 530.62 L309.6 530.59 L310.1 530.55 L310.6 530.51 L311.1 530.48 L311.6 530.44 L312.1 530.41 L312.6 530.38 L313.1 530.34 L313.6 530.31 L314.1 530.28 L314.6 530.25 L315.1 530.23 L315.6 530.2 L316.1 530.17 L316.6 530.15 L317.1 530.12 L317.6 530.1 L318.1 530.08 L318.6 530.06 L319.1 530.03 L319.6 530.02 L320.1 530 L320.6 529.98 L321.1 529.96 L321.6 529.94 L322.1 529.92 L322.6 529.91 L323.1 529.89 L323.6 529.87 L324.1 529.86 L324.6 529.84 L325.1 529.82 L325.6 529.81 L326.1 529.79 L326.6 529.77 L327.1 529.76 L327.6 529.74 L328.1 529.73 L328.6 529.71 L329.1 529.7 L329.6 529.68 L330.1 529.67 L330.6 529.65 L331.1 529.64 L331.6 529.63 L332.1 529.61 L332.6 529.6 L333.1 529.59 L333.6 529.57 L334.1 529.56 L334.6 529.55 L335.1 529.54 L335.6 529.52 L336.1 529.51 L336.6 529.5 L337.1 529.49 L337.6 529.48 L338.1 529.47 L338.6 529.46 L339.1 529.45 L339.6 529.44 L340.1 529.43 L340.6 529.42 L341.1 529.41 L341.6 529.4 L342.1 529.39 L342.6 529.39 L343.1 529.38 L343.6 529.37 L344.1 529.36 L344.6 529.36 L345.1 529.35 L345.6 529.34 L346.1 529.34 L346.6 529.33 L347.1 529.33 L347.6 529.32 L348.1 529.32 L348.6 529.31 L349.1 529.31 L349.6 529.3 L350.1 529.3 L350.6 529.3 L351.1 529.29 L351.6 529.29 L352.1 529.29 L352.6 529.28 L353.1 529.28 L353.6 529.27 L354.1 529.27 L354.6 529.27 L355.1 529.26 L355.6 529.26 L356.1 529.26 L356.6 529.25 L357.1 529.25 L357.6 529.25 L358.1 529.24 L358.6 529.24 L359.1 529.24 L359.6 529.23 L360.1 529.23 L360.6 529.23 L361.1 529.22 L361.6 529.22 L362.1 529.22 L362.6 529.21 L363.1 529.21 L363.6 529.21 L364.1 529.21 L364.6 529.2 L365.1 529.2 L365.6 529.2 L366.1 529.19 L366.6 529.19 L367.1 529.19 L367.6 529.18 L368.1 529.18 L368.6 529.18 L369.1 529.17 L369.6 529.17 L370.1 529.17 L370.6 529.17 L371.1 529.16 L371.6 529.16 L372.1 529.16 L372.6 529.15 L373.1 529.15 L373.6 529.15 L374.1 529.15 L374.6 529.14 L375.1 529.14 L375.6 529.14 L376.1 529.14 L376.6 529.13 L377.1 529.13 L377.6 529.13 L378.1 529.12 L378.6 529.12 L379.1 529.12 L379.6 529.12 L380.1 529.11 L380.6 529.11 L381.1 529.11 L381.6 529.11 L382.1 529.1 L382.6 529.1 L383.1 529.1 L383.6 529.1 L384.1 529.09 L384.6 529.09 L385.1 529.09 L385.6 529.09 L386.1 529.08 L386.6 529.08 L387.1 529.08 L387.6 529.08 L388.1 529.07 L388.6 529.07 L389.1 529.07 L389.6 529.07 L390.1 529.06 L390.6 529.06 L391.1 529.06 L391.6 529.06 L392.1 529.06 L392.6 529.05 L393.1 529.05 L393.6 529.05 L394.1 529.05 L394.6 529.04 L395.1 529.04 L395.6 529.04 L396.1 529.04 L396.6 529.04 L397.1 529.03 L397.6 529.03 L398.1 529.03 L398.6 529.03 L399.1 529.03 L399.6 529.02 L400.1 529.02 L400.6 529.02 L401.1 529.02 L401.6 529.02 L402.1 529.01 L402.6 529.01 L403.1 529.01 L403.6 529.01 L404.1 529.01 L404.6 529.01 L405.1 529 L405.6 529 L406.1 529 L406.6 529 L407.1 529 L407.6 528.99 L408.1 528.99 L408.6 528.99 L409.1 528.99 L409.6 528.99 L410.1 528.99 L410.6 528.98 L411.1 528.98 L411.6 528.98 L412.1 528.98 L412.6 528.98 L413.1 528.98 L413.6 528.98 L414.1 528.97 L414.6 528.97 L415.1 528.97 L415.6 528.97 L416.1 528.97 L416.6 528.97 L417.1 528.96 L417.6 528.96 L418.1 528.96 L418.6 528.96 L419.1 528.96 L419.6 528.96 L420.1 528.96 L420.6 528.96 L421.1 528.95 L421.6 528.95 L422.1 528.95 L422.6 528.95 L423.1 528.95 L423.6 528.95 L424.1 528.95 L424.6 528.95 L425.1 528.94 L425.6 528.94 L426.1 528.94 L426.6 528.94 L427.1 528.94 L427.6 528.94 L428.1 528.94 L428.6 528.94 L429.1 528.94 L429.6 528.93 L430.1 528.93 L430.6 528.93 L431.1 528.93 L431.6 528.93 L432.1 528.93 L432.6 528.93 L433.1 528.93 L433.6 528.93 L434.1 528.93 L434.6 528.92 L435.1 528.92 L435.6 528.92 L436.1 528.92 L436.6 528.92 L437.1 528.92 L437.6 528.92 L438.1 528.92 L438.6 528.92 L439.1 528.92 L439.6 528.92 L440.1 528.92 L440.6 528.92 L441.1 528.91 L441.6 528.91 L442.1 528.91 L442.6 528.91 L443.1 528.91 L443.6 528.91 L444.1 528.91 L444.6 528.91 L445.1 528.91 L445.6 528.91 L446.1 528.91 L446.6 528.91 L447.1 528.91 L447.6 528.91 L448.1 528.91 L448.6 528.91 L449.1 528.91 L449.6 528.91 L450.1 528.91 L450.6 528.9 L451.1 528.9 L451.6 528.9 L452.1 528.9 L452.6 528.9 L453.1 528.9 L453.6 528.9 L454.1 528.9 L454.6 528.9 L455.1 528.9 L455.6 528.9 L456.1 528.9 L456.6 528.9 L457.1 528.9 L457.6 528.9 L458.1 528.9 L458.6 528.9 L459.1 528.9 L459.6 528.9 L460.1 528.9 L460.6 528.9 L461.1 528.9 L461.6 528.9 L462.1 528.9 L462.6 528.9 L462.9 528.9" fill="none" stroke="#ff0000" stroke-width="3.0" stroke-linejoin="round" stroke-linecap="round" stroke-dasharray="5.4 13.4" stroke-dashoffset="-5.3"/>
<path d="M102.5 528.8H462.9" fill="none" stroke="#0000ff" stroke-width="3.2" stroke-linejoin="round" stroke-linecap="round" stroke-dasharray="0.01 14.46"/>
<path d="M101.6 528.8H462.9" fill="none" stroke="#008000" stroke-width="3.1" stroke-linejoin="round" stroke-linecap="round" stroke-dasharray="11.4 9.3 0.01 9.3" stroke-dashoffset="11.9"/>
</g>
<g fill="none" stroke="#1c1c1c" stroke-width="1.5"><path d="M101.6 431.7H462.9M101.6 722.8H462.9M101.6 431.7V722.8M462.9 431.7V722.8" /><path d="M101.6 432.4V421.7M101.6 722.1V732.8M161.82 432.4V421.7M161.82 722.1V732.8M222.03 432.4V421.7M222.03 722.1V732.8M282.25 432.4V421.7M282.25 722.1V732.8M342.47 432.4V421.7M342.47 722.1V732.8M402.68 432.4V421.7M402.68 722.1V732.8M462.9 432.4V421.7M462.9 722.1V732.8M131.71 431.7V426.7M131.71 722.8V727.8M191.92 431.7V426.7M191.92 722.8V727.8M252.14 431.7V426.7M252.14 722.8V727.8M312.36 431.7V426.7M312.36 722.8V727.8M372.57 431.7V426.7M372.57 722.8V727.8M432.79 431.7V426.7M432.79 722.8V727.8M102.3 431.7H91.6M462.2 431.7H472.9M102.3 489.92H91.6M462.2 489.92H472.9M102.3 548.14H91.6M462.2 548.14H472.9M102.3 606.36H91.6M462.2 606.36H472.9M102.3 664.58H91.6M462.2 664.58H472.9M102.3 722.8H91.6M462.2 722.8H472.9M101.6 460.81H96.6M462.9 460.81H467.9M101.6 519.03H96.6M462.9 519.03H467.9M101.6 577.25H96.6M462.9 577.25H467.9M101.6 635.47H96.6M462.9 635.47H467.9M101.6 693.69H96.6M462.9 693.69H467.9" /></g>
<rect x="271" y="575" width="178" height="147.4" fill="#fff"/>
<g transform="translate(69.95 440.2) scale(1 1.07)" fill="#000"><text x="0" y="0" font-family='"Liberation Sans", sans-serif' font-size="26.7">5</text></g>
<g transform="translate(69.95 498.42) scale(1 1.07)" fill="#000"><text x="0" y="0" font-family='"Liberation Sans", sans-serif' font-size="26.7">2</text></g>
<g transform="translate(59.96 556.64) scale(1 1.07)" fill="#000"><rect x="0.85" y="-8.41" width="7.21" height="2.36"/><path transform="translate(8.89 0) scale(0.01304 -0.01304)" d="M763 0H583V1147Q518 1085 412 1023Q307 961 223 930V1104Q374 1175 487 1276Q600 1377 647 1472H763Z"/></g>
<g transform="translate(59.96 614.86) scale(1 1.07)" fill="#000"><rect x="0.85" y="-8.41" width="7.21" height="2.36"/><text x="8.89" y="0" font-family='"Liberation Sans", sans-serif' font-size="26.7">4</text></g>
<g transform="translate(59.96 673.08) scale(1 1.07)" fill="#000"><rect x="0.85" y="-8.41" width="7.21" height="2.36"/><text x="8.89" y="0" font-family='"Liberation Sans", sans-serif' font-size="26.7">7</text></g>
<g transform="translate(45.11 731.3) scale(1 1.07)" fill="#000"><rect x="0.85" y="-8.41" width="7.21" height="2.36"/><path transform="translate(8.89 0) scale(0.01304 -0.01304)" d="M763 0H583V1147Q518 1085 412 1023Q307 961 223 930V1104Q374 1175 487 1276Q600 1377 647 1472H763Z"/><text x="23.74" y="0" font-family='"Liberation Sans", sans-serif' font-size="26.7">0</text></g>
<g transform="translate(86.75 760.8) scale(1 1.07)" fill="#000"><text x="0" y="0" font-family='"Liberation Sans", sans-serif' font-size="26.7">3</text><text x="14.85" y="0" font-family='"Liberation Sans", sans-serif' font-size="26.7">2</text></g>
<g transform="translate(146.97 760.8) scale(1 1.07)" fill="#000"><text x="0" y="0" font-family='"Liberation Sans", sans-serif' font-size="26.7">3</text><text x="14.85" y="0" font-family='"Liberation Sans", sans-serif' font-size="26.7">5</text></g>
<g transform="translate(207.18 760.8) scale(1 1.07)" fill="#000"><text x="0" y="0" font-family='"Liberation Sans", sans-serif' font-size="26.7">3</text><text x="14.85" y="0" font-family='"Liberation Sans", sans-serif' font-size="26.7">8</text></g>
<g transform="translate(267.4 760.8) scale(1 1.07)" fill="#000"><text x="0" y="0" font-family='"Liberation Sans", sans-serif' font-size="26.7">4</text><path transform="translate(14.85 0) scale(0.01304 -0.01304)" d="M763 0H583V1147Q518 1085 412 1023Q307 961 223 930V1104Q374 1175 487 1276Q600 1377 647 1472H763Z"/></g>
<g transform="translate(327.62 760.8) scale(1 1.07)" fill="#000"><text x="0" y="0" font-family='"Liberation Sans", sans-serif' font-size="26.7">4</text><text x="14.85" y="0" font-family='"Liberation Sans", sans-serif' font-size="26.7">4</text></g>
<g transform="translate(387.83 760.8) scale(1 1.07)" fill="#000"><text x="0" y="0" font-family='"Liberation Sans", sans-serif' font-size="26.7">4</text><text x="14.85" y="0" font-family='"Liberation Sans", sans-serif' font-size="26.7">7</text></g>
<g transform="translate(448.05 760.8) scale(1 1.07)" fill="#000"><text x="0" y="0" font-family='"Liberation Sans", sans-serif' font-size="26.7">5</text><text x="14.85" y="0" font-family='"Liberation Sans", sans-serif' font-size="26.7">0</text></g>
<clipPath id="cd"><rect x="617.6" y="431.7" width="362.2" height="291.1"/></clipPath>
<g clip-path="url(#cd)">
<path d="M617.6 496.4 L618.1 496.42 L618.6 496.44 L619.1 496.46 L619.6 496.48 L620.1 496.5 L620.6 496.52 L621.1 496.55 L621.6 496.57 L622.1 496.6 L622.6 496.63 L623.1 496.65 L623.6 496.68 L624.1 496.71 L624.6 496.74 L625.1 496.77 L625.6 496.8 L626.1 496.83 L626.6 496.87 L627.1 496.9 L627.6 496.93 L628.1 496.97 L628.6 497 L629.1 497.04 L629.6 497.08 L630.1 497.11 L630.6 497.15 L631.1 497.19 L631.6 497.23 L632.1 497.28 L632.6 497.32 L633.1 497.37 L633.6 497.41 L634.1 497.46 L634.6 497.51 L635.1 497.57 L635.6 497.62 L636.1 497.68 L636.6 497.74 L637.1 497.8 L637.6 497.86 L638.1 497.93 L638.6 498.01 L639.1 498.09 L639.6 498.17 L640.1 498.26 L640.6 498.35 L641.1 498.44 L641.6 498.54 L642.1 498.64 L642.6 498.75 L643.1 498.86 L643.6 498.97 L644.1 499.09 L644.6 499.21 L645.1 499.34 L645.6 499.47 L646.1 499.6 L646.6 499.74 L647.1 499.91 L647.6 500.09 L648.1 500.28 L648.6 500.48 L649.1 500.69 L649.6 500.9 L650.1 501.11 L650.6 501.32 L651.1 501.52 L651.6 501.71 L652.1 501.9 L652.6 502.07 L653.1 502.25 L653.6 502.44 L654.1 502.64 L654.6 502.84 L655.1 503.02 L655.6 503.2 L656.1 503.35 L656.6 503.47 L657.1 503.55 L657.6 503.6 L658.1 503.6 L658.6 503.58 L659.1 503.55 L659.6 503.5 L660.1 503.44 L660.6 503.37 L661.1 503.29 L661.6 503.21 L662.1 503.12 L662.6 503.02 L663.1 502.92 L663.6 502.8 L664.1 502.64 L664.6 502.44 L665.1 502.21 L665.6 501.95 L666.1 501.68 L666.6 501.41 L667.1 501.14 L667.6 500.88 L668.1 500.65 L668.6 500.44 L669.1 500.25 L669.6 500.07 L670.1 499.88 L670.6 499.7 L671.1 499.52 L671.6 499.34 L672.1 499.16 L672.6 498.99 L673.1 498.82 L673.6 498.66 L674.1 498.51 L674.6 498.37 L675.1 498.23 L675.6 498.1 L676.1 497.99 L676.6 497.88 L677.1 497.79 L677.6 497.71 L678.1 497.65 L678.6 497.58 L679.1 497.52 L679.6 497.46 L680.1 497.4 L680.6 497.35 L681.1 497.3 L681.6 497.25 L682.1 497.21 L682.6 497.16 L683.1 497.12 L683.6 497.09 L684.1 497.05 L684.6 497.02 L685.1 496.98 L685.6 496.96 L686.1 496.93 L686.6 496.9 L687.1 496.88 L687.6 496.86 L688.1 496.84 L688.6 496.82 L689.1 496.79 L689.6 496.77 L690.1 496.75 L690.6 496.73 L691.1 496.71 L691.6 496.7 L692.1 496.68 L692.6 496.66 L693.1 496.65 L693.6 496.63 L694.1 496.62 L694.6 496.6 L695.1 496.59 L695.6 496.57 L696.1 496.56 L696.6 496.55 L697.1 496.54 L697.6 496.53 L698.1 496.52 L698.6 496.52 L699.1 496.51 L699.6 496.5 L700.1 496.5 L700.6 496.49 L701.1 496.49 L701.6 496.49 L702.1 496.48 L702.6 496.48 L703.1 496.47 L703.6 496.47 L704.1 496.47 L704.6 496.46 L705.1 496.46 L705.6 496.45 L706.1 496.45 L706.6 496.45 L707.1 496.44 L707.6 496.44 L708.1 496.44 L708.6 496.44 L709.1 496.43 L709.6 496.43 L710.1 496.43 L710.6 496.42 L711.1 496.42 L711.6 496.42 L712.1 496.42 L712.6 496.42 L713.1 496.41 L713.6 496.41 L714.1 496.41 L714.6 496.41 L715.1 496.41 L715.6 496.41 L716.1 496.4 L716.6 496.4 L717.1 496.4 L717.6 496.4 L718.1 496.4 L718.6 496.4 L719.1 496.4 L719.6 496.4 L720.1 496.4 L720.6 496.4 L721.1 496.4 L721.6 496.4 L722.1 496.4 L722.6 496.4 L723.1 496.4 L723.6 496.4 L724.1 496.4 L724.6 496.4 L725.1 496.4 L725.6 496.4 L726.1 496.4 L726.6 496.4 L727.1 496.4 L727.6 496.4 L728.1 496.4 L728.6 496.4 L729.1 496.4 L729.6 496.4 L730.1 496.4 L730.6 496.4 L731.1 496.4 L731.6 496.4 L732.1 496.4 L732.6 496.4 L733.1 496.4 L733.6 496.4 L734.1 496.4 L734.6 496.4 L735.1 496.4 L735.6 496.4 L736.1 496.4 L736.6 496.4 L737.1 496.4 L737.6 496.4 L738.1 496.4 L738.6 496.4 L739.1 496.4 L739.6 496.4 L740.1 496.4 L740.6 496.4 L741.1 496.4 L741.6 496.4 L742.1 496.4 L742.6 496.4 L743.1 496.4 L743.6 496.4 L744.1 496.4 L744.6 496.4 L745.1 496.4 L745.6 496.4 L746.1 496.4 L746.6 496.4 L747.1 496.4 L747.6 496.4 L748.1 496.4 L748.6 496.4 L749.1 496.4 L749.6 496.4 L750.1 496.4 L750.6 496.4 L751.1 496.4 L751.6 496.4 L752.1 496.4 L752.6 496.4 L753.1 496.4 L753.6 496.4 L754.1 496.4 L754.6 496.4 L755.1 496.4 L755.6 496.4 L756.1 496.4 L756.6 496.4 L757.1 496.4 L757.6 496.4 L758.1 496.4 L758.6 496.4 L759.1 496.4 L759.6 496.4 L760.1 496.4 L760.6 496.4 L761.1 496.4 L761.6 496.4 L762.1 496.4 L762.6 496.4 L763.1 496.4 L763.6 496.4 L764.1 496.4 L764.6 496.4 L765.1 496.4 L765.6 496.4 L766.1 496.4 L766.6 496.4 L767.1 496.4 L767.6 496.4 L768.1 496.4 L768.6 496.4 L769.1 496.4 L769.6 496.4 L770.1 496.4 L770.6 496.4 L771.1 496.4 L771.6 496.4 L772.1 496.4 L772.6 496.4 L773.1 496.4 L773.6 496.4 L774.1 496.4 L774.6 496.4 L775.1 496.4 L775.6 496.4 L776.1 496.4 L776.6 496.4 L777.1 496.4 L777.6 496.4 L778.1 496.4 L778.6 496.4 L779.1 496.4 L779.6 496.4 L780.1 496.4 L780.6 496.4 L781.1 496.4 L781.6 496.4 L782.1 496.4 L782.6 496.4 L783.1 496.4 L783.6 496.4 L784.1 496.4 L784.6 496.4 L785.1 496.4 L785.6 496.4 L786.1 496.4 L786.6 496.4 L787.1 496.4 L787.6 496.4 L788.1 496.4 L788.6 496.4 L789.1 496.4 L789.6 496.4 L790.1 496.4 L790.6 496.4 L791.1 496.4 L791.6 496.4 L792.1 496.4 L792.6 496.4 L793.1 496.4 L793.6 496.4 L794.1 496.4 L794.6 496.4 L795.1 496.4 L795.6 496.4 L796.1 496.4 L796.6 496.4 L797.1 496.4 L797.6 496.4 L798.1 496.4 L798.6 496.4 L799.1 496.4 L799.6 496.4 L800.1 496.4 L800.6 496.4 L801.1 496.4 L801.6 496.4 L802.1 496.4 L802.6 496.4 L803.1 496.4 L803.6 496.4 L804.1 496.4 L804.6 496.4 L805.1 496.4 L805.6 496.4 L806.1 496.4 L806.6 496.4 L807.1 496.4 L807.6 496.4 L808.1 496.4 L808.6 496.4 L809.1 496.4 L809.6 496.4 L810.1 496.4 L810.6 496.4 L811.1 496.4 L811.6 496.4 L812.1 496.4 L812.6 496.4 L813.1 496.4 L813.6 496.4 L814.1 496.4 L814.6 496.4 L815.1 496.4 L815.6 496.4 L816.1 496.4 L816.6 496.4 L817.1 496.4 L817.6 496.4 L818.1 496.4 L818.6 496.4 L819.1 496.4 L819.6 496.4 L820.1 496.4 L820.6 496.4 L821.1 496.4 L821.6 496.4 L822.1 496.4 L822.6 496.4 L823.1 496.4 L823.6 496.4 L824.1 496.4 L824.6 496.4 L825.1 496.4 L825.6 496.4 L826.1 496.4 L826.6 496.4 L827.1 496.4 L827.6 496.4 L828.1 496.4 L828.6 496.4 L829.1 496.4 L829.6 496.4 L830.1 496.4 L830.6 496.4 L831.1 496.4 L831.6 496.4 L832.1 496.4 L832.6 496.4 L833.1 496.4 L833.6 496.4 L834.1 496.4 L834.6 496.4 L835.1 496.4 L835.6 496.4 L836.1 496.4 L836.6 496.4 L837.1 496.4 L837.6 496.4 L838.1 496.4 L838.6 496.4 L839.1 496.4 L839.6 496.4 L840.1 496.4 L840.6 496.4 L841.1 496.4 L841.6 496.4 L842.1 496.4 L842.6 496.4 L843.1 496.4 L843.6 496.4 L844.1 496.4 L844.6 496.4 L845.1 496.4 L845.6 496.4 L846.1 496.4 L846.6 496.4 L847.1 496.4 L847.6 496.4 L848.1 496.4 L848.6 496.4 L849.1 496.4 L849.6 496.4 L850.1 496.4 L850.6 496.4 L851.1 496.4 L851.6 496.4 L852.1 496.4 L852.6 496.4 L853.1 496.4 L853.6 496.4 L854.1 496.4 L854.6 496.4 L855.1 496.4 L855.6 496.4 L856.1 496.4 L856.6 496.4 L857.1 496.4 L857.6 496.4 L858.1 496.4 L858.6 496.4 L859.1 496.4 L859.6 496.4 L860.1 496.4 L860.6 496.4 L861.1 496.4 L861.6 496.4 L862.1 496.4 L862.6 496.4 L863.1 496.4 L863.6 496.4 L864.1 496.4 L864.6 496.4 L865.1 496.4 L865.6 496.4 L866.1 496.4 L866.6 496.4 L867.1 496.4 L867.6 496.4 L868.1 496.4 L868.6 496.4 L869.1 496.4 L869.6 496.4 L870.1 496.4 L870.6 496.4 L871.1 496.4 L871.6 496.4 L872.1 496.4 L872.6 496.4 L873.1 496.4 L873.6 496.4 L874.1 496.4 L874.6 496.4 L875.1 496.4 L875.6 496.4 L876.1 496.4 L876.6 496.4 L877.1 496.4 L877.6 496.4 L878.1 496.4 L878.6 496.4 L879.1 496.4 L879.6 496.4 L880.1 496.4 L880.6 496.4 L881.1 496.4 L881.6 496.4 L882.1 496.4 L882.6 496.4 L883.1 496.4 L883.6 496.4 L884.1 496.4 L884.6 496.4 L885.1 496.4 L885.6 496.4 L886.1 496.4 L886.6 496.4 L887.1 496.4 L887.6 496.4 L888.1 496.4 L888.6 496.4 L889.1 496.4 L889.6 496.4 L890.1 496.4 L890.6 496.4 L891.1 496.4 L891.6 496.4 L892.1 496.4 L892.6 496.4 L893.1 496.4 L893.6 496.4 L894.1 496.4 L894.6 496.4 L895.1 496.4 L895.6 496.4 L896.1 496.4 L896.6 496.4 L897.1 496.4 L897.6 496.4 L898.1 496.4 L898.6 496.4 L899.1 496.4 L899.6 496.4 L900.1 496.4 L900.6 496.4 L901.1 496.4 L901.6 496.4 L902.1 496.4 L902.6 496.4 L903.1 496.4 L903.6 496.4 L904.1 496.4 L904.6 496.4 L905.1 496.4 L905.6 496.4 L906.1 496.4 L906.6 496.4 L907.1 496.4 L907.6 496.4 L908.1 496.4 L908.6 496.4 L909.1 496.4 L909.6 496.4 L910.1 496.4 L910.6 496.4 L911.1 496.4 L911.6 496.4 L912.1 496.4 L912.6 496.4 L913.1 496.4 L913.6 496.4 L914.1 496.4 L914.6 496.4 L915.1 496.4 L915.6 496.4 L916.1 496.4 L916.6 496.4 L917.1 496.4 L917.6 496.4 L918.1 496.4 L918.6 496.4 L919.1 496.4 L919.6 496.4 L920.1 496.4 L920.6 496.4 L921.1 496.4 L921.6 496.4 L922.1 496.4 L922.6 496.4 L923.1 496.4 L923.6 496.4 L924.1 496.4 L924.6 496.4 L925.1 496.4 L925.6 496.4 L926.1 496.4 L926.6 496.4 L927.1 496.4 L927.6 496.4 L928.1 496.4 L928.6 496.4 L929.1 496.4 L929.6 496.4 L930.1 496.4 L930.6 496.4 L931.1 496.4 L931.6 496.4 L932.1 496.4 L932.6 496.4 L933.1 496.4 L933.6 496.4 L934.1 496.4 L934.6 496.4 L935.1 496.4 L935.6 496.4 L936.1 496.4 L936.6 496.4 L937.1 496.4 L937.6 496.4 L938.1 496.4 L938.6 496.4 L939.1 496.4 L939.6 496.4 L940.1 496.4 L940.6 496.4 L941.1 496.4 L941.6 496.4 L942.1 496.4 L942.6 496.4 L943.1 496.4 L943.6 496.4 L944.1 496.4 L944.6 496.4 L945.1 496.4 L945.6 496.4 L946.1 496.4 L946.6 496.4 L947.1 496.4 L947.6 496.4 L948.1 496.4 L948.6 496.4 L949.1 496.4 L949.6 496.4 L950.1 496.4 L950.6 496.4 L951.1 496.4 L951.6 496.4 L952.1 496.4 L952.6 496.4 L953.1 496.4 L953.6 496.4 L954.1 496.4 L954.6 496.4 L955.1 496.4 L955.6 496.4 L956.1 496.4 L956.6 496.4 L957.1 496.4 L957.6 496.4 L958.1 496.4 L958.6 496.4 L959.1 496.4 L959.6 496.4 L960.1 496.4 L960.6 496.4 L961.1 496.4 L961.6 496.4 L962.1 496.4 L962.6 496.4 L963.1 496.4 L963.6 496.4 L964.1 496.4 L964.6 496.4 L965.1 496.4 L965.6 496.4 L966.1 496.4 L966.6 496.4 L967.1 496.4 L967.6 496.4 L968.1 496.4 L968.6 496.4 L969.1 496.4 L969.6 496.4 L970.1 496.4 L970.6 496.4 L971.1 496.4 L971.6 496.4 L972.1 496.4 L972.6 496.4 L973.1 496.4 L973.6 496.4 L974.1 496.4 L974.6 496.4 L975.1 496.4 L975.6 496.4 L976.1 496.4 L976.6 496.4 L977.1 496.4 L977.6 496.4 L978.1 496.4 L978.6 496.4 L978.8 496.4" fill="none" stroke="#000" stroke-width="2.95" stroke-linejoin="round" stroke-linecap="round"/>
<path d="M617.6 525.5 L618.1 523.16 L618.6 520.99 L619.1 519.04 L619.6 517.26 L620.1 515.62 L620.6 514.1 L621.1 512.61 L621.6 511.15 L622.1 509.74 L622.6 508.4 L623.1 507.14 L623.6 505.98 L624.1 504.95 L624.6 504.05 L625.1 503.23 L625.6 502.45 L626.1 501.72 L626.6 501.04 L627.1 500.43 L627.6 499.86 L628.1 499.36 L628.6 498.92 L629.1 498.5 L629.6 498.09 L630.1 497.71 L630.6 497.36 L631.1 497.03 L631.6 496.75 L632.1 496.51 L632.6 496.31 L633.1 496.18 L633.6 496.06 L634.1 495.95 L634.6 495.84 L635.1 495.74 L635.6 495.64 L636.1 495.55 L636.6 495.47 L637.1 495.4 L637.6 495.33 L638.1 495.27 L638.6 495.22 L639.1 495.17 L639.6 495.14 L640.1 495.12 L640.6 495.1 L641.1 495.1 L641.6 495.1 L642.1 495.11 L642.6 495.13 L643.1 495.14 L643.6 495.16 L644.1 495.19 L644.6 495.22 L645.1 495.25 L645.6 495.28 L646.1 495.31 L646.6 495.35 L647.1 495.39 L647.6 495.42 L648.1 495.46 L648.6 495.5 L649.1 495.54 L649.6 495.57 L650.1 495.61 L650.6 495.64 L651.1 495.67 L651.6 495.71 L652.1 495.74 L652.6 495.78 L653.1 495.82 L653.6 495.85 L654.1 495.89 L654.6 495.93 L655.1 495.97 L655.6 496.01 L656.1 496.05 L656.6 496.09 L657.1 496.14 L657.6 496.18 L658.1 496.23 L658.6 496.28 L659.1 496.33 L659.6 496.38 L660.1 496.44 L660.6 496.49 L661.1 496.55 L661.6 496.61 L662.1 496.67 L662.6 496.74 L663.1 496.81 L663.6 496.89 L664.1 496.97 L664.6 497.06 L665.1 497.15 L665.6 497.25 L666.1 497.35 L666.6 497.46 L667.1 497.57 L667.6 497.68 L668.1 497.8 L668.6 497.93 L669.1 498.05 L669.6 498.18 L670.1 498.32 L670.6 498.45 L671.1 498.59 L671.6 498.74 L672.1 498.88 L672.6 499.03 L673.1 499.18 L673.6 499.34 L674.1 499.49 L674.6 499.65 L675.1 499.81 L675.6 499.97 L676.1 500.14 L676.6 500.3 L677.1 500.46 L677.6 500.63 L678.1 500.8 L678.6 500.97 L679.1 501.14 L679.6 501.31 L680.1 501.48 L680.6 501.66 L681.1 501.84 L681.6 502.03 L682.1 502.22 L682.6 502.41 L683.1 502.6 L683.6 502.81 L684.1 503.01 L684.6 503.22 L685.1 503.43 L685.6 503.65 L686.1 503.87 L686.6 504.1 L687.1 504.33 L687.6 504.56 L688.1 504.8 L688.6 505.05 L689.1 505.3 L689.6 505.56 L690.1 505.82 L690.6 506.09 L691.1 506.37 L691.6 506.65 L692.1 506.93 L692.6 507.23 L693.1 507.53 L693.6 507.83 L694.1 508.14 L694.6 508.46 L695.1 508.8 L695.6 509.14 L696.1 509.5 L696.6 509.87 L697.1 510.26 L697.6 510.66 L698.1 511.07 L698.6 511.5 L699.1 511.94 L699.6 512.4 L700.1 512.86 L700.6 513.34 L701.1 513.83 L701.6 514.34 L702.1 514.86 L702.6 515.38 L703.1 515.93 L703.6 516.48 L704.1 517.05 L704.6 517.63 L705.1 518.21 L705.6 518.82 L706.1 519.43 L706.6 520.05 L707.1 520.69 L707.6 521.34 L708.1 522 L708.6 522.69 L709.1 523.42 L709.6 524.18 L710.1 524.97 L710.6 525.79 L711.1 526.64 L711.6 527.53 L712.1 528.44 L712.6 529.39 L713.1 530.37 L713.6 531.38 L714.1 532.42 L714.6 533.49 L715.1 534.6 L715.6 535.73 L716.1 536.94 L716.6 538.25 L717.1 539.63 L717.6 541.08 L718.1 542.6 L718.6 544.15 L719.1 545.75 L719.6 547.37 L720.1 549.01 L720.6 550.65 L721.1 552.28 L721.6 553.9 L722.1 555.53 L722.6 557.18 L723.1 558.88 L723.6 560.64 L724.1 562.47 L724.6 564.41 L725.1 566.46 L725.6 568.65 L726.1 571.09 L726.6 573.78 L727.1 576.65 L727.6 579.64 L728.1 582.68 L728.6 585.71 L729.1 588.68 L729.6 591.67 L730.1 594.7 L730.6 597.77 L731.1 600.89 L731.6 604.06 L732.1 607.3 L732.6 610.57 L733.1 613.88 L733.6 617.27 L734.1 620.76 L734.6 624.42 L735.1 628.28 L735.6 632.5 L736.1 636.94 L736.6 641.4 L737.1 645.7 L737.6 649.94 L738.1 654.14 L738.6 658.33 L739.1 662.52 L739.6 666.75 L740.1 671.07 L740.6 675.37 L741.1 679.48 L741.6 683.3 L742.1 687.06 L742.6 690.75 L743.1 694.3 L743.6 697.64 L744.1 700.7 L744.6 703.41 L745.1 705.8 L745.6 707.99 L746.1 709.85 L746.6 711.25 L747.1 712.47 L747.6 713.56 L748.1 714.29 L748.6 714.49 L749.1 714.32 L749.6 713.97 L750.1 713.49 L750.6 712.49 L751.1 711.02 L751.6 709.36 L752.1 707.47 L752.6 705.26 L753.1 702.78 L753.6 700.1 L754.1 697.26 L754.6 694.31 L755.1 691.29 L755.6 687.99 L756.1 684.38 L756.6 680.59 L757.1 676.74 L757.6 672.94 L758.1 669.25 L758.6 665.55 L759.1 661.85 L759.6 658.12 L760.1 654.36 L760.6 650.56 L761.1 646.67 L761.6 642.65 L762.1 638.58 L762.6 634.59 L763.1 630.77 L763.6 627.2 L764.1 623.8 L764.6 620.51 L765.1 617.33 L765.6 614.23 L766.1 611.21 L766.6 608.26 L767.1 605.37 L767.6 602.53 L768.1 599.76 L768.6 597.05 L769.1 594.42 L769.6 591.87 L770.1 589.4 L770.6 586.99 L771.1 584.61 L771.6 582.27 L772.1 579.99 L772.6 577.77 L773.1 575.63 L773.6 573.57 L774.1 571.62 L774.6 569.77 L775.1 567.98 L775.6 566.24 L776.1 564.54 L776.6 562.9 L777.1 561.31 L777.6 559.78 L778.1 558.3 L778.6 556.87 L779.1 555.51 L779.6 554.2 L780.1 552.96 L780.6 551.74 L781.1 550.56 L781.6 549.42 L782.1 548.3 L782.6 547.21 L783.1 546.16 L783.6 545.14 L784.1 544.14 L784.6 543.18 L785.1 542.24 L785.6 541.33 L786.1 540.45 L786.6 539.6 L787.1 538.77 L787.6 537.96 L788.1 537.15 L788.6 536.36 L789.1 535.59 L789.6 534.82 L790.1 534.07 L790.6 533.33 L791.1 532.61 L791.6 531.9 L792.1 531.21 L792.6 530.54 L793.1 529.88 L793.6 529.24 L794.1 528.62 L794.6 528.02 L795.1 527.43 L795.6 526.87 L796.1 526.32 L796.6 525.8 L797.1 525.3 L797.6 524.81 L798.1 524.34 L798.6 523.88 L799.1 523.42 L799.6 522.98 L800.1 522.54 L800.6 522.11 L801.1 521.7 L801.6 521.29 L802.1 520.89 L802.6 520.5 L803.1 520.11 L803.6 519.74 L804.1 519.38 L804.6 519.02 L805.1 518.67 L805.6 518.33 L806.1 518 L806.6 517.68 L807.1 517.36 L807.6 517.06 L808.1 516.76 L808.6 516.47 L809.1 516.18 L809.6 515.91 L810.1 515.64 L810.6 515.38 L811.1 515.12 L811.6 514.86 L812.1 514.61 L812.6 514.36 L813.1 514.12 L813.6 513.88 L814.1 513.65 L814.6 513.42 L815.1 513.19 L815.6 512.97 L816.1 512.75 L816.6 512.53 L817.1 512.32 L817.6 512.11 L818.1 511.91 L818.6 511.71 L819.1 511.51 L819.6 511.32 L820.1 511.12 L820.6 510.94 L821.1 510.75 L821.6 510.57 L822.1 510.4 L822.6 510.22 L823.1 510.05 L823.6 509.89 L824.1 509.72 L824.6 509.56 L825.1 509.41 L825.6 509.25 L826.1 509.1 L826.6 508.95 L827.1 508.8 L827.6 508.66 L828.1 508.52 L828.6 508.37 L829.1 508.24 L829.6 508.1 L830.1 507.96 L830.6 507.83 L831.1 507.7 L831.6 507.57 L832.1 507.44 L832.6 507.32 L833.1 507.19 L833.6 507.07 L834.1 506.95 L834.6 506.83 L835.1 506.71 L835.6 506.6 L836.1 506.49 L836.6 506.38 L837.1 506.27 L837.6 506.16 L838.1 506.06 L838.6 505.95 L839.1 505.85 L839.6 505.75 L840.1 505.65 L840.6 505.56 L841.1 505.46 L841.6 505.37 L842.1 505.28 L842.6 505.19 L843.1 505.1 L843.6 505.01 L844.1 504.93 L844.6 504.84 L845.1 504.76 L845.6 504.68 L846.1 504.6 L846.6 504.52 L847.1 504.44 L847.6 504.36 L848.1 504.28 L848.6 504.2 L849.1 504.13 L849.6 504.05 L850.1 503.98 L850.6 503.9 L851.1 503.83 L851.6 503.76 L852.1 503.69 L852.6 503.62 L853.1 503.55 L853.6 503.48 L854.1 503.42 L854.6 503.35 L855.1 503.28 L855.6 503.22 L856.1 503.16 L856.6 503.1 L857.1 503.03 L857.6 502.97 L858.1 502.91 L858.6 502.86 L859.1 502.8 L859.6 502.74 L860.1 502.68 L860.6 502.63 L861.1 502.58 L861.6 502.52 L862.1 502.47 L862.6 502.42 L863.1 502.37 L863.6 502.32 L864.1 502.27 L864.6 502.22 L865.1 502.18 L865.6 502.13 L866.1 502.08 L866.6 502.04 L867.1 501.99 L867.6 501.95 L868.1 501.91 L868.6 501.86 L869.1 501.82 L869.6 501.78 L870.1 501.74 L870.6 501.7 L871.1 501.66 L871.6 501.62 L872.1 501.58 L872.6 501.54 L873.1 501.5 L873.6 501.46 L874.1 501.43 L874.6 501.39 L875.1 501.35 L875.6 501.32 L876.1 501.28 L876.6 501.25 L877.1 501.21 L877.6 501.18 L878.1 501.14 L878.6 501.11 L879.1 501.08 L879.6 501.04 L880.1 501.01 L880.6 500.98 L881.1 500.95 L881.6 500.92 L882.1 500.89 L882.6 500.85 L883.1 500.82 L883.6 500.79 L884.1 500.76 L884.6 500.73 L885.1 500.71 L885.6 500.68 L886.1 500.65 L886.6 500.62 L887.1 500.59 L887.6 500.56 L888.1 500.54 L888.6 500.51 L889.1 500.48 L889.6 500.46 L890.1 500.43 L890.6 500.4 L891.1 500.38 L891.6 500.35 L892.1 500.33 L892.6 500.3 L893.1 500.28 L893.6 500.25 L894.1 500.23 L894.6 500.2 L895.1 500.18 L895.6 500.15 L896.1 500.13 L896.6 500.11 L897.1 500.08 L897.6 500.06 L898.1 500.04 L898.6 500.01 L899.1 499.99 L899.6 499.97 L900.1 499.95 L900.6 499.92 L901.1 499.9 L901.6 499.88 L902.1 499.86 L902.6 499.83 L903.1 499.81 L903.6 499.79 L904.1 499.77 L904.6 499.74 L905.1 499.72 L905.6 499.7 L906.1 499.68 L906.6 499.66 L907.1 499.63 L907.6 499.61 L908.1 499.59 L908.6 499.57 L909.1 499.55 L909.6 499.52 L910.1 499.5 L910.6 499.48 L911.1 499.46 L911.6 499.44 L912.1 499.41 L912.6 499.39 L913.1 499.37 L913.6 499.35 L914.1 499.33 L914.6 499.31 L915.1 499.28 L915.6 499.26 L916.1 499.24 L916.6 499.22 L917.1 499.2 L917.6 499.18 L918.1 499.16 L918.6 499.14 L919.1 499.12 L919.6 499.1 L920.1 499.08 L920.6 499.06 L921.1 499.04 L921.6 499.02 L922.1 499.01 L922.6 498.99 L923.1 498.97 L923.6 498.95 L924.1 498.93 L924.6 498.92 L925.1 498.9 L925.6 498.88 L926.1 498.87 L926.6 498.85 L927.1 498.84 L927.6 498.82 L928.1 498.81 L928.6 498.79 L929.1 498.78 L929.6 498.77 L930.1 498.75 L930.6 498.74 L931.1 498.73 L931.6 498.71 L932.1 498.7 L932.6 498.69 L933.1 498.67 L933.6 498.66 L934.1 498.65 L934.6 498.64 L935.1 498.62 L935.6 498.61 L936.1 498.6 L936.6 498.59 L937.1 498.57 L937.6 498.56 L938.1 498.55 L938.6 498.54 L939.1 498.53 L939.6 498.52 L940.1 498.51 L940.6 498.5 L941.1 498.48 L941.6 498.47 L942.1 498.46 L942.6 498.45 L943.1 498.44 L943.6 498.43 L944.1 498.42 L944.6 498.41 L945.1 498.4 L945.6 498.39 L946.1 498.39 L946.6 498.38 L947.1 498.37 L947.6 498.36 L948.1 498.35 L948.6 498.34 L949.1 498.33 L949.6 498.33 L950.1 498.32 L950.6 498.31 L951.1 498.3 L951.6 498.3 L952.1 498.29 L952.6 498.28 L953.1 498.27 L953.6 498.27 L954.1 498.26 L954.6 498.25 L955.1 498.25 L955.6 498.24 L956.1 498.23 L956.6 498.22 L957.1 498.22 L957.6 498.21 L958.1 498.2 L958.6 498.2 L959.1 498.19 L959.6 498.18 L960.1 498.18 L960.6 498.17 L961.1 498.16 L961.6 498.16 L962.1 498.15 L962.6 498.15 L963.1 498.14 L963.6 498.13 L964.1 498.13 L964.6 498.12 L965.1 498.12 L965.6 498.11 L966.1 498.1 L966.6 498.1 L967.1 498.09 L967.6 498.09 L968.1 498.08 L968.6 498.08 L969.1 498.07 L969.6 498.07 L970.1 498.06 L970.6 498.06 L971.1 498.05 L971.6 498.05 L972.1 498.05 L972.6 498.04 L973.1 498.04 L973.6 498.03 L974.1 498.03 L974.6 498.03 L975.1 498.02 L975.6 498.02 L976.1 498.02 L976.6 498.01 L977.1 498.01 L977.6 498.01 L978.1 498 L978.6 498 L978.8 498" fill="none" stroke="#ff0000" stroke-width="3.0" stroke-linejoin="round" stroke-linecap="round" stroke-dasharray="5.4 13.4" stroke-dashoffset="0.5"/>
<path d="M618.5 496.1H978.8" fill="none" stroke="#0000ff" stroke-width="3.2" stroke-linejoin="round" stroke-linecap="round" stroke-dasharray="0.01 14.46"/>
<path d="M617.6 496.4 L618.1 496.4 L618.6 496.4 L619.1 496.4 L619.6 496.4 L620.1 496.41 L620.6 496.41 L621.1 496.41 L621.6 496.42 L622.1 496.42 L622.6 496.42 L623.1 496.43 L623.6 496.44 L624.1 496.44 L624.6 496.45 L625.1 496.46 L625.6 496.46 L626.1 496.47 L626.6 496.48 L627.1 496.49 L627.6 496.5 L628.1 496.51 L628.6 496.52 L629.1 496.53 L629.6 496.54 L630.1 496.55 L630.6 496.57 L631.1 496.58 L631.6 496.59 L632.1 496.61 L632.6 496.62 L633.1 496.64 L633.6 496.65 L634.1 496.67 L634.6 496.69 L635.1 496.7 L635.6 496.73 L636.1 496.77 L636.6 496.82 L637.1 496.88 L637.6 496.95 L638.1 497.03 L638.6 497.11 L639.1 497.19 L639.6 497.27 L640.1 497.36 L640.6 497.44 L641.1 497.52 L641.6 497.6 L642.1 497.67 L642.6 497.75 L643.1 497.82 L643.6 497.9 L644.1 497.98 L644.6 498.05 L645.1 498.13 L645.6 498.21 L646.1 498.29 L646.6 498.37 L647.1 498.45 L647.6 498.53 L648.1 498.61 L648.6 498.7 L649.1 498.78 L649.6 498.87 L650.1 498.95 L650.6 499.04 L651.1 499.13 L651.6 499.22 L652.1 499.32 L652.6 499.43 L653.1 499.55 L653.6 499.68 L654.1 499.81 L654.6 499.94 L655.1 500.08 L655.6 500.2 L656.1 500.33 L656.6 500.44 L657.1 500.54 L657.6 500.63 L658.1 500.71 L658.6 500.76 L659.1 500.79 L659.6 500.8 L660.1 500.78 L660.6 500.73 L661.1 500.66 L661.6 500.56 L662.1 500.45 L662.6 500.32 L663.1 500.19 L663.6 500.04 L664.1 499.89 L664.6 499.73 L665.1 499.58 L665.6 499.43 L666.1 499.29 L666.6 499.16 L667.1 499.04 L667.6 498.94 L668.1 498.83 L668.6 498.73 L669.1 498.62 L669.6 498.51 L670.1 498.4 L670.6 498.29 L671.1 498.18 L671.6 498.08 L672.1 497.97 L672.6 497.87 L673.1 497.77 L673.6 497.68 L674.1 497.59 L674.6 497.51 L675.1 497.44 L675.6 497.37 L676.1 497.31 L676.6 497.25 L677.1 497.21 L677.6 497.17 L678.1 497.13 L678.6 497.1 L679.1 497.06 L679.6 497.03 L680.1 497 L680.6 496.96 L681.1 496.93 L681.6 496.9 L682.1 496.88 L682.6 496.85 L683.1 496.82 L683.6 496.8 L684.1 496.78 L684.6 496.75 L685.1 496.73 L685.6 496.71 L686.1 496.69 L686.6 496.68 L687.1 496.66 L687.6 496.65 L688.1 496.64 L688.6 496.62 L689.1 496.61 L689.6 496.61 L690.1 496.6 L690.6 496.59 L691.1 496.59 L691.6 496.58 L692.1 496.57 L692.6 496.57 L693.1 496.56 L693.6 496.56 L694.1 496.55 L694.6 496.54 L695.1 496.54 L695.6 496.53 L696.1 496.53 L696.6 496.52 L697.1 496.52 L697.6 496.51 L698.1 496.51 L698.6 496.5 L699.1 496.5 L699.6 496.49 L700.1 496.49 L700.6 496.49 L701.1 496.48 L701.6 496.48 L702.1 496.47 L702.6 496.47 L703.1 496.46 L703.6 496.46 L704.1 496.46 L704.6 496.45 L705.1 496.45 L705.6 496.45 L706.1 496.44 L706.6 496.44 L707.1 496.44 L707.6 496.44 L708.1 496.43 L708.6 496.43 L709.1 496.43 L709.6 496.42 L710.1 496.42 L710.6 496.42 L711.1 496.42 L711.6 496.42 L712.1 496.41 L712.6 496.41 L713.1 496.41 L713.6 496.41 L714.1 496.41 L714.6 496.41 L715.1 496.41 L715.6 496.4 L716.1 496.4 L716.6 496.4 L717.1 496.4 L717.6 496.4 L718.1 496.4 L718.6 496.4 L719.1 496.4 L719.6 496.4 L720.1 496.4 L720.6 496.4 L721.1 496.4 L721.6 496.4 L722.1 496.4 L722.6 496.4 L723.1 496.4 L723.6 496.4 L724.1 496.4 L724.6 496.4 L725.1 496.4 L725.6 496.4 L726.1 496.4 L726.6 496.4 L727.1 496.4 L727.6 496.4 L728.1 496.4 L728.6 496.4 L729.1 496.4 L729.6 496.4 L730.1 496.4 L730.6 496.4 L731.1 496.4 L731.6 496.4 L732.1 496.4 L732.6 496.4 L733.1 496.4 L733.6 496.4 L734.1 496.4 L734.6 496.4 L735.1 496.4 L735.6 496.4 L736.1 496.4 L736.6 496.4 L737.1 496.4 L737.6 496.4 L738.1 496.4 L738.6 496.4 L739.1 496.4 L739.6 496.4 L740.1 496.4 L740.6 496.4 L741.1 496.4 L741.6 496.4 L742.1 496.4 L742.6 496.4 L743.1 496.4 L743.6 496.4 L744.1 496.4 L744.6 496.4 L745.1 496.4 L745.6 496.4 L746.1 496.4 L746.6 496.4 L747.1 496.4 L747.6 496.4 L748.1 496.4 L748.6 496.4 L749.1 496.4 L749.6 496.4 L750.1 496.4 L750.6 496.4 L751.1 496.4 L751.6 496.4 L752.1 496.4 L752.6 496.4 L753.1 496.4 L753.6 496.4 L754.1 496.4 L754.6 496.4 L755.1 496.4 L755.6 496.4 L756.1 496.4 L756.6 496.4 L757.1 496.4 L757.6 496.4 L758.1 496.4 L758.6 496.4 L759.1 496.4 L759.6 496.4 L760.1 496.4 L760.6 496.4 L761.1 496.4 L761.6 496.4 L762.1 496.4 L762.6 496.4 L763.1 496.4 L763.6 496.4 L764.1 496.4 L764.6 496.4 L765.1 496.4 L765.6 496.4 L766.1 496.4 L766.6 496.4 L767.1 496.4 L767.6 496.4 L768.1 496.4 L768.6 496.4 L769.1 496.4 L769.6 496.4 L770.1 496.4 L770.6 496.4 L771.1 496.4 L771.6 496.4 L772.1 496.4 L772.6 496.4 L773.1 496.4 L773.6 496.4 L774.1 496.4 L774.6 496.4 L775.1 496.4 L775.6 496.4 L776.1 496.4 L776.6 496.4 L777.1 496.4 L777.6 496.4 L778.1 496.4 L778.6 496.4 L779.1 496.4 L779.6 496.4 L780.1 496.4 L780.6 496.4 L781.1 496.4 L781.6 496.4 L782.1 496.4 L782.6 496.4 L783.1 496.4 L783.6 496.4 L784.1 496.4 L784.6 496.4 L785.1 496.4 L785.6 496.4 L786.1 496.4 L786.6 496.4 L787.1 496.4 L787.6 496.4 L788.1 496.4 L788.6 496.4 L789.1 496.4 L789.6 496.4 L790.1 496.4 L790.6 496.4 L791.1 496.4 L791.6 496.4 L792.1 496.4 L792.6 496.4 L793.1 496.4 L793.6 496.4 L794.1 496.4 L794.6 496.4 L795.1 496.4 L795.6 496.4 L796.1 496.4 L796.6 496.4 L797.1 496.4 L797.6 496.4 L798.1 496.4 L798.6 496.4 L799.1 496.4 L799.6 496.4 L800.1 496.4 L800.6 496.4 L801.1 496.4 L801.6 496.4 L802.1 496.4 L802.6 496.4 L803.1 496.4 L803.6 496.4 L804.1 496.4 L804.6 496.4 L805.1 496.4 L805.6 496.4 L806.1 496.4 L806.6 496.4 L807.1 496.4 L807.6 496.4 L808.1 496.4 L808.6 496.4 L809.1 496.4 L809.6 496.4 L810.1 496.4 L810.6 496.4 L811.1 496.4 L811.6 496.4 L812.1 496.4 L812.6 496.4 L813.1 496.4 L813.6 496.4 L814.1 496.4 L814.6 496.4 L815.1 496.4 L815.6 496.4 L816.1 496.4 L816.6 496.4 L817.1 496.4 L817.6 496.4 L818.1 496.4 L818.6 496.4 L819.1 496.4 L819.6 496.4 L820.1 496.4 L820.6 496.4 L821.1 496.4 L821.6 496.4 L822.1 496.4 L822.6 496.4 L823.1 496.4 L823.6 496.4 L824.1 496.4 L824.6 496.4 L825.1 496.4 L825.6 496.4 L826.1 496.4 L826.6 496.4 L827.1 496.4 L827.6 496.4 L828.1 496.4 L828.6 496.4 L829.1 496.4 L829.6 496.4 L830.1 496.4 L830.6 496.4 L831.1 496.4 L831.6 496.4 L832.1 496.4 L832.6 496.4 L833.1 496.4 L833.6 496.4 L834.1 496.4 L834.6 496.4 L835.1 496.4 L835.6 496.4 L836.1 496.4 L836.6 496.4 L837.1 496.4 L837.6 496.4 L838.1 496.4 L838.6 496.4 L839.1 496.4 L839.6 496.4 L840.1 496.4 L840.6 496.4 L841.1 496.4 L841.6 496.4 L842.1 496.4 L842.6 496.4 L843.1 496.4 L843.6 496.4 L844.1 496.4 L844.6 496.4 L845.1 496.4 L845.6 496.4 L846.1 496.4 L846.6 496.4 L847.1 496.4 L847.6 496.4 L848.1 496.4 L848.6 496.4 L849.1 496.4 L849.6 496.4 L850.1 496.4 L850.6 496.4 L851.1 496.4 L851.6 496.4 L852.1 496.4 L852.6 496.4 L853.1 496.4 L853.6 496.4 L854.1 496.4 L854.6 496.4 L855.1 496.4 L855.6 496.4 L856.1 496.4 L856.6 496.4 L857.1 496.4 L857.6 496.4 L858.1 496.4 L858.6 496.4 L859.1 496.4 L859.6 496.4 L860.1 496.4 L860.6 496.4 L861.1 496.4 L861.6 496.4 L862.1 496.4 L862.6 496.4 L863.1 496.4 L863.6 496.4 L864.1 496.4 L864.6 496.4 L865.1 496.4 L865.6 496.4 L866.1 496.4 L866.6 496.4 L867.1 496.4 L867.6 496.4 L868.1 496.4 L868.6 496.4 L869.1 496.4 L869.6 496.4 L870.1 496.4 L870.6 496.4 L871.1 496.4 L871.6 496.4 L872.1 496.4 L872.6 496.4 L873.1 496.4 L873.6 496.4 L874.1 496.4 L874.6 496.4 L875.1 496.4 L875.6 496.4 L876.1 496.4 L876.6 496.4 L877.1 496.4 L877.6 496.4 L878.1 496.4 L878.6 496.4 L879.1 496.4 L879.6 496.4 L880.1 496.4 L880.6 496.4 L881.1 496.4 L881.6 496.4 L882.1 496.4 L882.6 496.4 L883.1 496.4 L883.6 496.4 L884.1 496.4 L884.6 496.4 L885.1 496.4 L885.6 496.4 L886.1 496.4 L886.6 496.4 L887.1 496.4 L887.6 496.4 L888.1 496.4 L888.6 496.4 L889.1 496.4 L889.6 496.4 L890.1 496.4 L890.6 496.4 L891.1 496.4 L891.6 496.4 L892.1 496.4 L892.6 496.4 L893.1 496.4 L893.6 496.4 L894.1 496.4 L894.6 496.4 L895.1 496.4 L895.6 496.4 L896.1 496.4 L896.6 496.4 L897.1 496.4 L897.6 496.4 L898.1 496.4 L898.6 496.4 L899.1 496.4 L899.6 496.4 L900.1 496.4 L900.6 496.4 L901.1 496.4 L901.6 496.4 L902.1 496.4 L902.6 496.4 L903.1 496.4 L903.6 496.4 L904.1 496.4 L904.6 496.4 L905.1 496.4 L905.6 496.4 L906.1 496.4 L906.6 496.4 L907.1 496.4 L907.6 496.4 L908.1 496.4 L908.6 496.4 L909.1 496.4 L909.6 496.4 L910.1 496.4 L910.6 496.4 L911.1 496.4 L911.6 496.4 L912.1 496.4 L912.6 496.4 L913.1 496.4 L913.6 496.4 L914.1 496.4 L914.6 496.4 L915.1 496.4 L915.6 496.4 L916.1 496.4 L916.6 496.4 L917.1 496.4 L917.6 496.4 L918.1 496.4 L918.6 496.4 L919.1 496.4 L919.6 496.4 L920.1 496.4 L920.6 496.4 L921.1 496.4 L921.6 496.4 L922.1 496.4 L922.6 496.4 L923.1 496.4 L923.6 496.4 L924.1 496.4 L924.6 496.4 L925.1 496.4 L925.6 496.4 L926.1 496.4 L926.6 496.4 L927.1 496.4 L927.6 496.4 L928.1 496.4 L928.6 496.4 L929.1 496.4 L929.6 496.4 L930.1 496.4 L930.6 496.4 L931.1 496.4 L931.6 496.4 L932.1 496.4 L932.6 496.4 L933.1 496.4 L933.6 496.4 L934.1 496.4 L934.6 496.4 L935.1 496.4 L935.6 496.4 L936.1 496.4 L936.6 496.4 L937.1 496.4 L937.6 496.4 L938.1 496.4 L938.6 496.4 L939.1 496.4 L939.6 496.4 L940.1 496.4 L940.6 496.4 L941.1 496.4 L941.6 496.4 L942.1 496.4 L942.6 496.4 L943.1 496.4 L943.6 496.4 L944.1 496.4 L944.6 496.4 L945.1 496.4 L945.6 496.4 L946.1 496.4 L946.6 496.4 L947.1 496.4 L947.6 496.4 L948.1 496.4 L948.6 496.4 L949.1 496.4 L949.6 496.4 L950.1 496.4 L950.6 496.4 L951.1 496.4 L951.6 496.4 L952.1 496.4 L952.6 496.4 L953.1 496.4 L953.6 496.4 L954.1 496.4 L954.6 496.4 L955.1 496.4 L955.6 496.4 L956.1 496.4 L956.6 496.4 L957.1 496.4 L957.6 496.4 L958.1 496.4 L958.6 496.4 L959.1 496.4 L959.6 496.4 L960.1 496.4 L960.6 496.4 L961.1 496.4 L961.6 496.4 L962.1 496.4 L962.6 496.4 L963.1 496.4 L963.6 496.4 L964.1 496.4 L964.6 496.4 L965.1 496.4 L965.6 496.4 L966.1 496.4 L966.6 496.4 L967.1 496.4 L967.6 496.4 L968.1 496.4 L968.6 496.4 L969.1 496.4 L969.6 496.4 L970.1 496.4 L970.6 496.4 L971.1 496.4 L971.6 496.4 L972.1 496.4 L972.6 496.4 L973.1 496.4 L973.6 496.4 L974.1 496.4 L974.6 496.4 L975.1 496.4 L975.6 496.4 L976.1 496.4 L976.6 496.4 L977.1 496.4 L977.6 496.4 L978.1 496.4 L978.6 496.4 L978.8 496.4" fill="none" stroke="#008000" stroke-width="3.1" stroke-linejoin="round" stroke-linecap="round" stroke-dasharray="11.4 9.3 0.01 9.3" stroke-dashoffset="5.9"/>
</g>
<g fill="none" stroke="#1c1c1c" stroke-width="1.5"><path d="M617.6 431.7H978.8M617.6 722.8H978.8M617.6 431.7V722.8M978.8 431.7V722.8" /><path d="M617.6 432.4V421.7M617.6 722.1V732.8M677.8 432.4V421.7M677.8 722.1V732.8M738 432.4V421.7M738 722.1V732.8M798.2 432.4V421.7M798.2 722.1V732.8M858.4 432.4V421.7M858.4 722.1V732.8M918.6 432.4V421.7M918.6 722.1V732.8M978.8 432.4V421.7M978.8 722.1V732.8M647.7 431.7V426.7M647.7 722.8V727.8M707.9 431.7V426.7M707.9 722.8V727.8M768.1 431.7V426.7M768.1 722.8V727.8M828.3 431.7V426.7M828.3 722.8V727.8M888.5 431.7V426.7M888.5 722.8V727.8M948.7 431.7V426.7M948.7 722.8V727.8M618.3 464.04H607.6M978.1 464.04H988.8M618.3 561.08H607.6M978.1 561.08H988.8M618.3 658.11H607.6M978.1 658.11H988.8M617.6 512.56H612.6M978.8 512.56H983.8M617.6 609.59H612.6M978.8 609.59H983.8M617.6 706.63H612.6M978.8 706.63H983.8" /></g>
<g transform="translate(585.15 472.54) scale(1 1.07)" fill="#000"><path transform="translate(0 0) scale(0.01304 -0.01304)" d="M763 0H583V1147Q518 1085 412 1023Q307 961 223 930V1104Q374 1175 487 1276Q600 1377 647 1472H763Z"/></g>
<g transform="translate(575.16 569.58) scale(1 1.07)" fill="#000"><rect x="0.85" y="-8.41" width="7.21" height="2.36"/><text x="8.89" y="0" font-family='"Liberation Sans", sans-serif' font-size="26.7">2</text></g>
<g transform="translate(575.16 666.61) scale(1 1.07)" fill="#000"><rect x="0.85" y="-8.41" width="7.21" height="2.36"/><text x="8.89" y="0" font-family='"Liberation Sans", sans-serif' font-size="26.7">5</text></g>
<g transform="translate(602.75 760.8) scale(1 1.07)" fill="#000"><text x="0" y="0" font-family='"Liberation Sans", sans-serif' font-size="26.7">3</text><text x="14.85" y="0" font-family='"Liberation Sans", sans-serif' font-size="26.7">2</text></g>
<g transform="translate(662.95 760.8) scale(1 1.07)" fill="#000"><text x="0" y="0" font-family='"Liberation Sans", sans-serif' font-size="26.7">3</text><text x="14.85" y="0" font-family='"Liberation Sans", sans-serif' font-size="26.7">5</text></g>
<g transform="translate(723.15 760.8) scale(1 1.07)" fill="#000"><text x="0" y="0" font-family='"Liberation Sans", sans-serif' font-size="26.7">3</text><text x="14.85" y="0" font-family='"Liberation Sans", sans-serif' font-size="26.7">8</text></g>
<g transform="translate(783.35 760.8) scale(1 1.07)" fill="#000"><text x="0" y="0" font-family='"Liberation Sans", sans-serif' font-size="26.7">4</text><path transform="translate(14.85 0) scale(0.01304 -0.01304)" d="M763 0H583V1147Q518 1085 412 1023Q307 961 223 930V1104Q374 1175 487 1276Q600 1377 647 1472H763Z"/></g>
<g transform="translate(843.55 760.8) scale(1 1.07)" fill="#000"><text x="0" y="0" font-family='"Liberation Sans", sans-serif' font-size="26.7">4</text><text x="14.85" y="0" font-family='"Liberation Sans", sans-serif' font-size="26.7">4</text></g>
<g transform="translate(903.75 760.8) scale(1 1.07)" fill="#000"><text x="0" y="0" font-family='"Liberation Sans", sans-serif' font-size="26.7">4</text><text x="14.85" y="0" font-family='"Liberation Sans", sans-serif' font-size="26.7">7</text></g>
<g transform="translate(963.95 760.8) scale(1 1.07)" fill="#000"><text x="0" y="0" font-family='"Liberation Sans", sans-serif' font-size="26.7">5</text><text x="14.85" y="0" font-family='"Liberation Sans", sans-serif' font-size="26.7">0</text></g>
<text transform="translate(233.6 400.8) scale(1.14 1.07)" font-family='"Liberation Serif", serif' font-size="31.4">λ</text>
<text transform="translate(259.6 400.8) scale(1 1.07)" font-family='"Liberation Serif", serif' font-size="31.4">(mm)</text>
<text transform="translate(233.6 813.5) scale(1.14 1.07)" font-family='"Liberation Serif", serif' font-size="31.4">λ</text>
<text transform="translate(259.6 813.5) scale(1 1.07)" font-family='"Liberation Serif", serif' font-size="31.4">(mm)</text>
<text transform="translate(749.6 400.8) scale(1.14 1.07)" font-family='"Liberation Serif", serif' font-size="31.4">λ</text>
<text transform="translate(775.6 400.8) scale(1 1.07)" font-family='"Liberation Serif", serif' font-size="31.4">(mm)</text>
<text transform="translate(749.6 813.5) scale(1.14 1.07)" font-family='"Liberation Serif", serif' font-size="31.4">λ</text>
<text transform="translate(775.6 813.5) scale(1 1.07)" font-family='"Liberation Serif", serif' font-size="31.4">(mm)</text>
<text transform="translate(33.1 167.4) rotate(-90) scale(1 1.07)" text-anchor="middle" font-family='"Liberation Serif", serif' font-size="31.2">Circular Dichroism</text>
<text transform="translate(33.1 580.1) rotate(-90) scale(1 1.07)" text-anchor="middle" font-family='"Liberation Serif", serif' font-size="31.2">Circular Dichroism</text>
<text transform="translate(549.1 167.4) rotate(-90) scale(1 1.07)" text-anchor="middle" font-family='"Liberation Serif", serif' font-size="31.2">Circular Dichroism</text>
<text transform="translate(549.1 580.1) rotate(-90) scale(1 1.07)" text-anchor="middle" font-family='"Liberation Serif", serif' font-size="31.2">Circular Dichroism</text>
<text transform="translate(107.4 47.4) scale(1 1.08)" font-family='"Liberation Serif", serif' font-size="31">a)</text>
<text transform="translate(623.4 47.4) scale(1 1.08)" font-family='"Liberation Serif", serif' font-size="31">b)</text>
<text transform="translate(107.4 460.1) scale(1 1.08)" font-family='"Liberation Serif", serif' font-size="31">c)</text>
<text transform="translate(623.4 460.1) scale(1 1.08)" font-family='"Liberation Serif", serif' font-size="31">d)</text>
<path d="M275.4 171.8H328.7" fill="none" stroke="#000" stroke-width="3.1" stroke-linejoin="round" stroke-linecap="round"/>
<path d="M275.7 206.1H328.8" fill="none" stroke="#ff0000" stroke-width="3.2" stroke-linejoin="round" stroke-linecap="round" stroke-dasharray="7 16.2"/>
<path d="M275.4 240.5H329.6" fill="none" stroke="#0000ff" stroke-width="3.3" stroke-linejoin="round" stroke-linecap="round" stroke-dasharray="0.01 14.45"/>
<path d="M275.7 275H329.6" fill="none" stroke="#008000" stroke-width="3.2" stroke-linejoin="round" stroke-linecap="round" stroke-dasharray="10 10.1 0.01 10.1"/>
<text transform="translate(334.7 179.2)" font-family='"Liberation Serif", serif' font-size="23.2">Mult CD</text>
<text transform="translate(420.45 185.5)" font-family='"Liberation Serif", serif' font-size="15.8">S</text>
<text transform="translate(334.8 214.1)" font-family='"Liberation Serif", serif' font-size="23.2">CD</text>
<text transform="translate(368.23 220.4)" font-family='"Liberation Serif", serif' font-size="15.8">S</text>
<text transform="translate(334.8 248.4)" font-family='"Liberation Serif", serif' font-size="23.2">CD</text>
<text transform="translate(368.23 254.7)" font-family='"Liberation Serif", serif' font-size="15.8">E</text>
<text transform="translate(334.8 282.9)" font-family='"Liberation Serif", serif' font-size="23.2">CD</text>
<text transform="translate(368.23 289.2)" font-family='"Liberation Serif", serif' font-size="15.8">A</text>
<path d="M791.3 171.8H844.6" fill="none" stroke="#000" stroke-width="3.1" stroke-linejoin="round" stroke-linecap="round"/>
<path d="M791.6 206.1H844.7" fill="none" stroke="#ff0000" stroke-width="3.2" stroke-linejoin="round" stroke-linecap="round" stroke-dasharray="7 16.2"/>
<path d="M791.3 240.5H845.5" fill="none" stroke="#0000ff" stroke-width="3.3" stroke-linejoin="round" stroke-linecap="round" stroke-dasharray="0.01 14.45"/>
<path d="M791.6 275H845.5" fill="none" stroke="#008000" stroke-width="3.2" stroke-linejoin="round" stroke-linecap="round" stroke-dasharray="10 10.1 0.01 10.1"/>
<text transform="translate(850.6 179.2)" font-family='"Liberation Serif", serif' font-size="23.2">TED CD</text>
<text transform="translate(936.33 185.5)" font-family='"Liberation Serif", serif' font-size="15.8">S</text>
<text transform="translate(850.6 214.1)" font-family='"Liberation Serif", serif' font-size="23.2">MD CD</text>
<text transform="translate(928.61 220.4)" font-family='"Liberation Serif", serif' font-size="15.8">S</text>
<text transform="translate(850.6 248.4)" font-family='"Liberation Serif", serif' font-size="23.2">EQ CD</text>
<text transform="translate(922.15 254.7)" font-family='"Liberation Serif", serif' font-size="15.8">S</text>
<text transform="translate(850.6 282.9)" font-family='"Liberation Serif", serif' font-size="23.2">MQ CD</text>
<text transform="translate(928.61 289.2)" font-family='"Liberation Serif", serif' font-size="15.8">S</text>
<path d="M275 588H328.1" fill="none" stroke="#000" stroke-width="3.1" stroke-linejoin="round" stroke-linecap="round"/>
<path d="M275.3 625.7H328.2" fill="none" stroke="#ff0000" stroke-width="3.2" stroke-linejoin="round" stroke-linecap="round" stroke-dasharray="7 16.2"/>
<path d="M275 663.6H329" fill="none" stroke="#0000ff" stroke-width="3.3" stroke-linejoin="round" stroke-linecap="round" stroke-dasharray="0.01 14.45"/>
<path d="M275.3 701.4H329" fill="none" stroke="#008000" stroke-width="3.2" stroke-linejoin="round" stroke-linecap="round" stroke-dasharray="10 10.1 0.01 10.1"/>
<text transform="translate(334.6 595.5)" font-family='"Liberation Sans", sans-serif' font-size="23.2">TED</text>
<text transform="translate(383.3 585.2)" font-family='"Liberation Sans", sans-serif' font-size="14.6">P</text>
<text transform="translate(399.94 595.5) scale(1 0.97)" font-family='"Liberation Sans", sans-serif' font-size="23.8">CD</text>
<text transform="translate(434.61 601.9)" font-family='"Liberation Sans", sans-serif' font-size="14.8">S</text>
<text transform="translate(334.6 633.4)" font-family='"Liberation Sans", sans-serif' font-size="23.2">MD</text>
<text transform="translate(372.98 623.1)" font-family='"Liberation Sans", sans-serif' font-size="14.6">P</text>
<text transform="translate(389.62 633.4) scale(1 0.97)" font-family='"Liberation Sans", sans-serif' font-size="23.8">CD</text>
<text transform="translate(424.29 639.8)" font-family='"Liberation Sans", sans-serif' font-size="14.8">S</text>
<text transform="translate(334.6 671.3)" font-family='"Liberation Sans", sans-serif' font-size="23.2">EQ</text>
<text transform="translate(370.42 661)" font-family='"Liberation Sans", sans-serif' font-size="14.6">P</text>
<text transform="translate(387.06 671.3) scale(1 0.97)" font-family='"Liberation Sans", sans-serif' font-size="23.8">CD</text>
<text transform="translate(421.73 677.7)" font-family='"Liberation Sans", sans-serif' font-size="14.8">S</text>
<text transform="translate(334.6 709.3)" font-family='"Liberation Sans", sans-serif' font-size="23.2">MQ</text>
<text transform="translate(374.27 699)" font-family='"Liberation Sans", sans-serif' font-size="14.6">P</text>
<text transform="translate(390.91 709.3) scale(1 0.97)" font-family='"Liberation Sans", sans-serif' font-size="23.8">CD</text>
<text transform="translate(425.59 715.7)" font-family='"Liberation Sans", sans-serif' font-size="14.8">S</text>
<path d="M791.4 587H843.7" fill="none" stroke="#000" stroke-width="3.1" stroke-linejoin="round" stroke-linecap="round"/>
<path d="M791.7 623.8H843.8" fill="none" stroke="#ff0000" stroke-width="3.2" stroke-linejoin="round" stroke-linecap="round" stroke-dasharray="7 16.2"/>
<path d="M791.4 661.1H844.6" fill="none" stroke="#0000ff" stroke-width="3.3" stroke-linejoin="round" stroke-linecap="round" stroke-dasharray="0.01 14.45"/>
<path d="M791.7 698.3H844.6" fill="none" stroke="#008000" stroke-width="3.2" stroke-linejoin="round" stroke-linecap="round" stroke-dasharray="10 10.1 0.01 10.1"/>
<text transform="translate(849.2 595) scale(1 1.06)" font-family='"Liberation Serif", serif' font-size="22.3">TED</text>
<text transform="translate(893.9 585.4)" font-family='"Liberation Serif", serif' font-size="15.4">M</text>
<text transform="translate(913.29 595) scale(1 0.97)" font-family='"Liberation Serif", serif' font-size="24.3">CD</text>
<text transform="translate(946.3 601.3)" font-family='"Liberation Serif", serif' font-size="15.6">S</text>
<text transform="translate(849.2 631.9) scale(1 1.06)" font-family='"Liberation Serif", serif' font-size="22.3">MD</text>
<text transform="translate(886.48 622.3)" font-family='"Liberation Serif", serif' font-size="15.4">M</text>
<text transform="translate(905.88 631.9) scale(1 0.97)" font-family='"Liberation Serif", serif' font-size="24.3">CD</text>
<text transform="translate(938.88 638.2)" font-family='"Liberation Serif", serif' font-size="15.6">S</text>
<text transform="translate(849.2 669) scale(1 1.06)" font-family='"Liberation Serif", serif' font-size="22.3">EQ</text>
<text transform="translate(880.28 659.4)" font-family='"Liberation Serif", serif' font-size="15.4">M</text>
<text transform="translate(899.67 669) scale(1 0.97)" font-family='"Liberation Serif", serif' font-size="24.3">CD</text>
<text transform="translate(932.68 675.3)" font-family='"Liberation Serif", serif' font-size="15.6">S</text>
<text transform="translate(849.2 706) scale(1 1.06)" font-family='"Liberation Serif", serif' font-size="22.3">MQ</text>
<text transform="translate(886.48 696.4)" font-family='"Liberation Serif", serif' font-size="15.4">M</text>
<text transform="translate(905.88 706) scale(1 0.97)" font-family='"Liberation Serif", serif' font-size="24.3">CD</text>
<text transform="translate(938.88 712.3)" font-family='"Liberation Serif", serif' font-size="15.6">S</text>
</svg>
</body></html>
